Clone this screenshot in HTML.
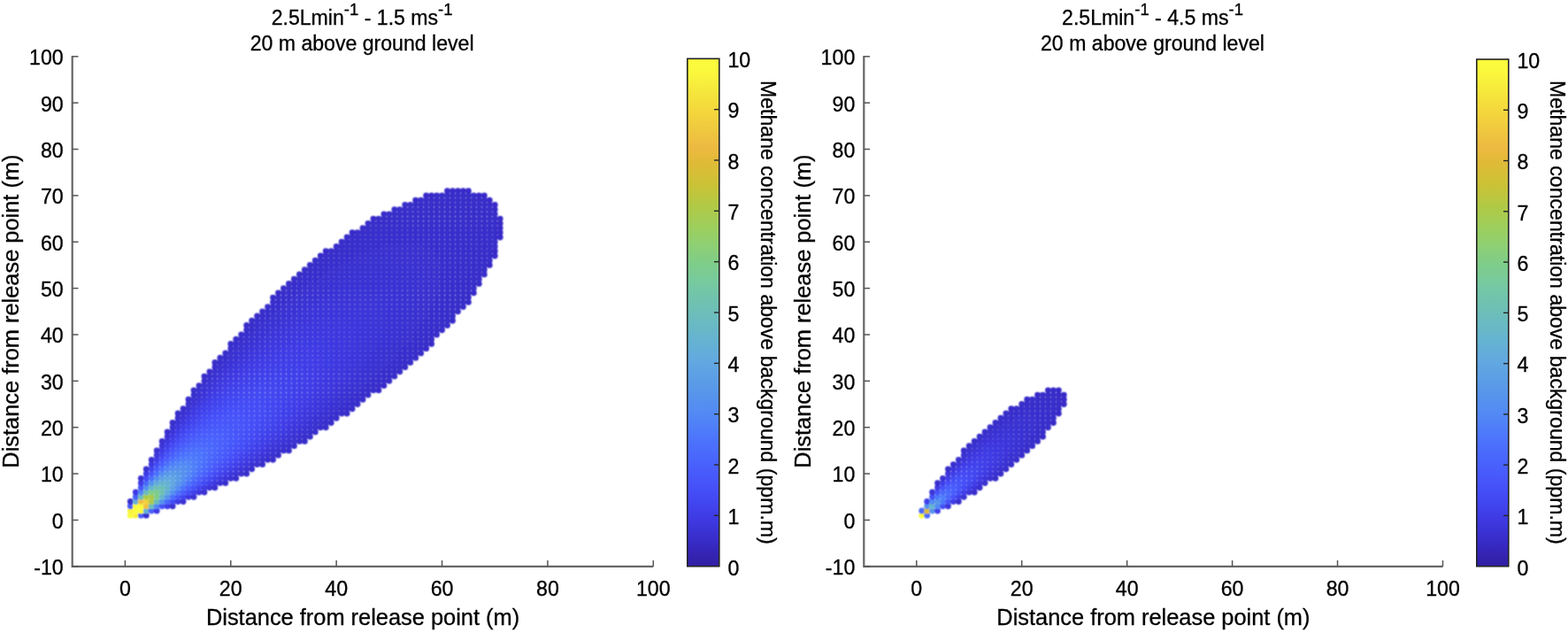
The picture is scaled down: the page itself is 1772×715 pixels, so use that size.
<!DOCTYPE html>
<html><head><meta charset="utf-8"><title>Methane plume</title>
<style>
html,body{margin:0;padding:0;background:#fff;width:1772px;height:715px;overflow:hidden}
svg{display:block}
text{font-family:'Liberation Sans', Arial, Helvetica, sans-serif;fill:#000000;stroke:#000;stroke-width:0.3px}
.tk{font-size:23.2px}
.lb{font-size:25.4px}
.tt{font-size:23.1px}
.sup{font-size:18.5px}
.cl{font-size:23.1px}
</style></head><body>
<svg width="1772" height="715" viewBox="0 0 1772 715">
<defs><linearGradient id="pg" x1="0" y1="0" x2="0" y2="1"><stop offset="0.0000" stop-color="#fbfc3c"/><stop offset="0.0156" stop-color="#fbfa3d"/><stop offset="0.0312" stop-color="#faf63d"/><stop offset="0.0469" stop-color="#f8ef3c"/><stop offset="0.0625" stop-color="#f6e83c"/><stop offset="0.0781" stop-color="#f5e13c"/><stop offset="0.0938" stop-color="#f4db3c"/><stop offset="0.1094" stop-color="#f3d43d"/><stop offset="0.1250" stop-color="#f1ce3e"/><stop offset="0.1406" stop-color="#efc83f"/><stop offset="0.1562" stop-color="#eec140"/><stop offset="0.1719" stop-color="#edba42"/><stop offset="0.1875" stop-color="#e8ba3d"/><stop offset="0.2031" stop-color="#e0ba38"/><stop offset="0.2188" stop-color="#d9bd37"/><stop offset="0.2344" stop-color="#d1c037"/><stop offset="0.2500" stop-color="#c9c236"/><stop offset="0.2656" stop-color="#c0c53c"/><stop offset="0.2812" stop-color="#b6c842"/><stop offset="0.2969" stop-color="#adca49"/><stop offset="0.3125" stop-color="#a6cc52"/><stop offset="0.3281" stop-color="#9fce5b"/><stop offset="0.3438" stop-color="#98cf64"/><stop offset="0.3594" stop-color="#91d06e"/><stop offset="0.3750" stop-color="#8bcf78"/><stop offset="0.3906" stop-color="#84ce82"/><stop offset="0.4062" stop-color="#7ecd8b"/><stop offset="0.4219" stop-color="#7bcb94"/><stop offset="0.4375" stop-color="#77ca9d"/><stop offset="0.4531" stop-color="#74c7a5"/><stop offset="0.4688" stop-color="#71c4ac"/><stop offset="0.4844" stop-color="#6fc1b2"/><stop offset="0.5000" stop-color="#6dbeb9"/><stop offset="0.5156" stop-color="#6abbc0"/><stop offset="0.5312" stop-color="#68b8c7"/><stop offset="0.5469" stop-color="#66b5cf"/><stop offset="0.5625" stop-color="#64b1d4"/><stop offset="0.5781" stop-color="#63adda"/><stop offset="0.5938" stop-color="#62a9e0"/><stop offset="0.6094" stop-color="#60a4e3"/><stop offset="0.6250" stop-color="#5da0e5"/><stop offset="0.6406" stop-color="#5a9be7"/><stop offset="0.6562" stop-color="#5796ea"/><stop offset="0.6719" stop-color="#5591ee"/><stop offset="0.6875" stop-color="#548df2"/><stop offset="0.7031" stop-color="#5288f5"/><stop offset="0.7188" stop-color="#5081f8"/><stop offset="0.7344" stop-color="#4e7bfa"/><stop offset="0.7500" stop-color="#4c74fc"/><stop offset="0.7656" stop-color="#4b6efc"/><stop offset="0.7812" stop-color="#4a68fc"/><stop offset="0.7969" stop-color="#4962fc"/><stop offset="0.8125" stop-color="#485cfb"/><stop offset="0.8281" stop-color="#4757fa"/><stop offset="0.8438" stop-color="#4651f8"/><stop offset="0.8594" stop-color="#444bf5"/><stop offset="0.8750" stop-color="#4246ef"/><stop offset="0.8906" stop-color="#4040e9"/><stop offset="0.9062" stop-color="#3e3ae2"/><stop offset="0.9219" stop-color="#3c35d9"/><stop offset="0.9375" stop-color="#3a30d0"/><stop offset="0.9531" stop-color="#382bc6"/><stop offset="0.9688" stop-color="#3526b9"/><stop offset="0.9844" stop-color="#3322ac"/><stop offset="1.0000" stop-color="#311fa5"/></linearGradient><filter id="soft"><feConvolveMatrix order="3" kernelMatrix="1 2 1 2 4 2 1 2 1" divisor="16" edgeMode="none" preserveAlpha="false"/></filter></defs>
<rect width="1772" height="715" fill="#ffffff"/>
<g filter="url(#soft)">
<circle cx="147.36" cy="582.20" r="3.42" fill="#fbfc3c"/>
<circle cx="147.36" cy="576.96" r="3.42" fill="#f9f23c"/>
<circle cx="147.36" cy="571.73" r="3.42" fill="#485bfb"/>
<circle cx="147.36" cy="566.49" r="3.42" fill="#392dcb"/>
<circle cx="153.33" cy="582.20" r="3.42" fill="#f9f23c"/>
<circle cx="153.33" cy="576.96" r="3.42" fill="#fbfc3c"/>
<circle cx="153.33" cy="571.73" r="3.42" fill="#fbfa3d"/>
<circle cx="153.33" cy="566.49" r="3.42" fill="#64afd7"/>
<circle cx="153.33" cy="561.25" r="3.42" fill="#485efb"/>
<circle cx="153.33" cy="556.02" r="3.42" fill="#3e39e1"/>
<circle cx="159.30" cy="582.20" r="3.42" fill="#485bfb"/>
<circle cx="159.30" cy="576.96" r="3.42" fill="#fbfa3d"/>
<circle cx="159.30" cy="571.73" r="3.42" fill="#fbfc3c"/>
<circle cx="159.30" cy="566.49" r="3.42" fill="#eec041"/>
<circle cx="159.30" cy="561.25" r="3.42" fill="#6dbeb8"/>
<circle cx="159.30" cy="556.02" r="3.42" fill="#5184f7"/>
<circle cx="159.30" cy="550.78" r="3.42" fill="#4655f9"/>
<circle cx="159.30" cy="545.55" r="3.42" fill="#3f3ce6"/>
<circle cx="159.30" cy="540.31" r="3.42" fill="#3a30cf"/>
<circle cx="165.27" cy="582.20" r="3.42" fill="#392dcb"/>
<circle cx="165.27" cy="576.96" r="3.42" fill="#64afd7"/>
<circle cx="165.27" cy="571.73" r="3.42" fill="#eec041"/>
<circle cx="165.27" cy="566.49" r="3.42" fill="#f2d23d"/>
<circle cx="165.27" cy="561.25" r="3.42" fill="#adcb49"/>
<circle cx="165.27" cy="556.02" r="3.42" fill="#6cbcbc"/>
<circle cx="165.27" cy="550.78" r="3.42" fill="#5591ee"/>
<circle cx="165.27" cy="545.55" r="3.42" fill="#4a67fc"/>
<circle cx="165.27" cy="540.31" r="3.42" fill="#444cf5"/>
<circle cx="165.27" cy="535.07" r="3.42" fill="#3e3be4"/>
<circle cx="165.27" cy="529.84" r="3.42" fill="#3a31d2"/>
<circle cx="171.24" cy="576.96" r="3.42" fill="#485efb"/>
<circle cx="171.24" cy="571.73" r="3.42" fill="#6dbeb8"/>
<circle cx="171.24" cy="566.49" r="3.42" fill="#adcb49"/>
<circle cx="171.24" cy="561.25" r="3.42" fill="#afca47"/>
<circle cx="171.24" cy="556.02" r="3.42" fill="#7fce8a"/>
<circle cx="171.24" cy="550.78" r="3.42" fill="#66b6cc"/>
<circle cx="171.24" cy="545.55" r="3.42" fill="#5694ec"/>
<circle cx="171.24" cy="540.31" r="3.42" fill="#4b71fc"/>
<circle cx="171.24" cy="535.07" r="3.42" fill="#4757fa"/>
<circle cx="171.24" cy="529.84" r="3.42" fill="#4245ef"/>
<circle cx="171.24" cy="524.60" r="3.42" fill="#3e39e0"/>
<circle cx="171.24" cy="519.36" r="3.42" fill="#3a31d2"/>
<circle cx="177.21" cy="576.96" r="3.42" fill="#3e39e1"/>
<circle cx="177.21" cy="571.73" r="3.42" fill="#5184f7"/>
<circle cx="177.21" cy="566.49" r="3.42" fill="#6cbcbc"/>
<circle cx="177.21" cy="561.25" r="3.42" fill="#7fce8a"/>
<circle cx="177.21" cy="556.02" r="3.42" fill="#7dcd8e"/>
<circle cx="177.21" cy="550.78" r="3.42" fill="#6fc1b2"/>
<circle cx="177.21" cy="545.55" r="3.42" fill="#63acdb"/>
<circle cx="177.21" cy="540.31" r="3.42" fill="#5592ee"/>
<circle cx="177.21" cy="535.07" r="3.42" fill="#4c75fc"/>
<circle cx="177.21" cy="529.84" r="3.42" fill="#485efb"/>
<circle cx="177.21" cy="524.60" r="3.42" fill="#444df6"/>
<circle cx="177.21" cy="519.36" r="3.42" fill="#4040e9"/>
<circle cx="177.21" cy="514.13" r="3.42" fill="#3d37dc"/>
<circle cx="177.21" cy="508.89" r="3.42" fill="#3a31d1"/>
<circle cx="183.17" cy="571.73" r="3.42" fill="#4655f9"/>
<circle cx="183.17" cy="566.49" r="3.42" fill="#5591ee"/>
<circle cx="183.17" cy="561.25" r="3.42" fill="#66b6cc"/>
<circle cx="183.17" cy="556.02" r="3.42" fill="#6fc1b2"/>
<circle cx="183.17" cy="550.78" r="3.42" fill="#6ebfb7"/>
<circle cx="183.17" cy="545.55" r="3.42" fill="#65b5cf"/>
<circle cx="183.17" cy="540.31" r="3.42" fill="#5fa2e4"/>
<circle cx="183.17" cy="535.07" r="3.42" fill="#548df1"/>
<circle cx="183.17" cy="529.84" r="3.42" fill="#4c75fc"/>
<circle cx="183.17" cy="524.60" r="3.42" fill="#4961fc"/>
<circle cx="183.17" cy="519.36" r="3.42" fill="#4652f9"/>
<circle cx="183.17" cy="514.13" r="3.42" fill="#4245ee"/>
<circle cx="183.17" cy="508.89" r="3.42" fill="#3f3be5"/>
<circle cx="183.17" cy="503.65" r="3.42" fill="#3c35d8"/>
<circle cx="183.17" cy="498.42" r="3.42" fill="#3a30cf"/>
<circle cx="189.14" cy="571.73" r="3.42" fill="#3f3ce6"/>
<circle cx="189.14" cy="566.49" r="3.42" fill="#4a67fc"/>
<circle cx="189.14" cy="561.25" r="3.42" fill="#5694ec"/>
<circle cx="189.14" cy="556.02" r="3.42" fill="#63acdb"/>
<circle cx="189.14" cy="550.78" r="3.42" fill="#65b5cf"/>
<circle cx="189.14" cy="545.55" r="3.42" fill="#65b2d3"/>
<circle cx="189.14" cy="540.31" r="3.42" fill="#62a8e1"/>
<circle cx="189.14" cy="535.07" r="3.42" fill="#5898e8"/>
<circle cx="189.14" cy="529.84" r="3.42" fill="#5288f5"/>
<circle cx="189.14" cy="524.60" r="3.42" fill="#4c73fc"/>
<circle cx="189.14" cy="519.36" r="3.42" fill="#4962fc"/>
<circle cx="189.14" cy="514.13" r="3.42" fill="#4654f9"/>
<circle cx="189.14" cy="508.89" r="3.42" fill="#4349f2"/>
<circle cx="189.14" cy="503.65" r="3.42" fill="#403fe9"/>
<circle cx="189.14" cy="498.42" r="3.42" fill="#3d38df"/>
<circle cx="189.14" cy="493.18" r="3.42" fill="#3b33d5"/>
<circle cx="189.14" cy="487.95" r="3.42" fill="#392fcd"/>
<circle cx="195.11" cy="571.73" r="3.42" fill="#3a30cf"/>
<circle cx="195.11" cy="566.49" r="3.42" fill="#444cf5"/>
<circle cx="195.11" cy="561.25" r="3.42" fill="#4b71fc"/>
<circle cx="195.11" cy="556.02" r="3.42" fill="#5592ee"/>
<circle cx="195.11" cy="550.78" r="3.42" fill="#5fa2e4"/>
<circle cx="195.11" cy="545.55" r="3.42" fill="#62a8e1"/>
<circle cx="195.11" cy="540.31" r="3.42" fill="#61a5e3"/>
<circle cx="195.11" cy="535.07" r="3.42" fill="#5b9ce6"/>
<circle cx="195.11" cy="529.84" r="3.42" fill="#5590ef"/>
<circle cx="195.11" cy="524.60" r="3.42" fill="#5081f8"/>
<circle cx="195.11" cy="519.36" r="3.42" fill="#4b70fc"/>
<circle cx="195.11" cy="514.13" r="3.42" fill="#4961fc"/>
<circle cx="195.11" cy="508.89" r="3.42" fill="#4655f9"/>
<circle cx="195.11" cy="503.65" r="3.42" fill="#444bf4"/>
<circle cx="195.11" cy="498.42" r="3.42" fill="#4142ec"/>
<circle cx="195.11" cy="493.18" r="3.42" fill="#3e3be4"/>
<circle cx="195.11" cy="487.95" r="3.42" fill="#3c36da"/>
<circle cx="195.11" cy="482.71" r="3.42" fill="#3a31d2"/>
<circle cx="195.11" cy="477.47" r="3.42" fill="#392ecc"/>
<circle cx="201.08" cy="566.49" r="3.42" fill="#3e3be4"/>
<circle cx="201.08" cy="561.25" r="3.42" fill="#4757fa"/>
<circle cx="201.08" cy="556.02" r="3.42" fill="#4c75fc"/>
<circle cx="201.08" cy="550.78" r="3.42" fill="#548df1"/>
<circle cx="201.08" cy="545.55" r="3.42" fill="#5898e8"/>
<circle cx="201.08" cy="540.31" r="3.42" fill="#5b9ce6"/>
<circle cx="201.08" cy="535.07" r="3.42" fill="#5999e8"/>
<circle cx="201.08" cy="529.84" r="3.42" fill="#5692ed"/>
<circle cx="201.08" cy="524.60" r="3.42" fill="#5288f5"/>
<circle cx="201.08" cy="519.36" r="3.42" fill="#4e7afa"/>
<circle cx="201.08" cy="514.13" r="3.42" fill="#4b6cfc"/>
<circle cx="201.08" cy="508.89" r="3.42" fill="#4960fc"/>
<circle cx="201.08" cy="503.65" r="3.42" fill="#4656f9"/>
<circle cx="201.08" cy="498.42" r="3.42" fill="#444cf5"/>
<circle cx="201.08" cy="493.18" r="3.42" fill="#4244ee"/>
<circle cx="201.08" cy="487.95" r="3.42" fill="#3f3de7"/>
<circle cx="201.08" cy="482.71" r="3.42" fill="#3d38de"/>
<circle cx="201.08" cy="477.47" r="3.42" fill="#3b34d6"/>
<circle cx="201.08" cy="472.24" r="3.42" fill="#3a30d0"/>
<circle cx="201.08" cy="467.00" r="3.42" fill="#382dca"/>
<circle cx="207.05" cy="566.49" r="3.42" fill="#3a31d2"/>
<circle cx="207.05" cy="561.25" r="3.42" fill="#4245ef"/>
<circle cx="207.05" cy="556.02" r="3.42" fill="#485efb"/>
<circle cx="207.05" cy="550.78" r="3.42" fill="#4c75fc"/>
<circle cx="207.05" cy="545.55" r="3.42" fill="#5288f5"/>
<circle cx="207.05" cy="540.31" r="3.42" fill="#5590ef"/>
<circle cx="207.05" cy="535.07" r="3.42" fill="#5692ed"/>
<circle cx="207.05" cy="529.84" r="3.42" fill="#558fef"/>
<circle cx="207.05" cy="524.60" r="3.42" fill="#528af4"/>
<circle cx="207.05" cy="519.36" r="3.42" fill="#4f7ff8"/>
<circle cx="207.05" cy="514.13" r="3.42" fill="#4c73fc"/>
<circle cx="207.05" cy="508.89" r="3.42" fill="#4a69fc"/>
<circle cx="207.05" cy="503.65" r="3.42" fill="#485efb"/>
<circle cx="207.05" cy="498.42" r="3.42" fill="#4655f9"/>
<circle cx="207.05" cy="493.18" r="3.42" fill="#444df6"/>
<circle cx="207.05" cy="487.95" r="3.42" fill="#4245ef"/>
<circle cx="207.05" cy="482.71" r="3.42" fill="#403fe9"/>
<circle cx="207.05" cy="477.47" r="3.42" fill="#3e39e1"/>
<circle cx="207.05" cy="472.24" r="3.42" fill="#3c35d9"/>
<circle cx="207.05" cy="467.00" r="3.42" fill="#3b32d3"/>
<circle cx="207.05" cy="461.76" r="3.42" fill="#392fcd"/>
<circle cx="213.02" cy="561.25" r="3.42" fill="#3e39e0"/>
<circle cx="213.02" cy="556.02" r="3.42" fill="#444df6"/>
<circle cx="213.02" cy="550.78" r="3.42" fill="#4961fc"/>
<circle cx="213.02" cy="545.55" r="3.42" fill="#4c73fc"/>
<circle cx="213.02" cy="540.31" r="3.42" fill="#5081f8"/>
<circle cx="213.02" cy="535.07" r="3.42" fill="#5288f5"/>
<circle cx="213.02" cy="529.84" r="3.42" fill="#528af4"/>
<circle cx="213.02" cy="524.60" r="3.42" fill="#5187f6"/>
<circle cx="213.02" cy="519.36" r="3.42" fill="#4f80f8"/>
<circle cx="213.02" cy="514.13" r="3.42" fill="#4d77fb"/>
<circle cx="213.02" cy="508.89" r="3.42" fill="#4b6efc"/>
<circle cx="213.02" cy="503.65" r="3.42" fill="#4a65fc"/>
<circle cx="213.02" cy="498.42" r="3.42" fill="#485cfb"/>
<circle cx="213.02" cy="493.18" r="3.42" fill="#4654f9"/>
<circle cx="213.02" cy="487.95" r="3.42" fill="#444df6"/>
<circle cx="213.02" cy="482.71" r="3.42" fill="#4246ef"/>
<circle cx="213.02" cy="477.47" r="3.42" fill="#4040ea"/>
<circle cx="213.02" cy="472.24" r="3.42" fill="#3e3be3"/>
<circle cx="213.02" cy="467.00" r="3.42" fill="#3d37dc"/>
<circle cx="213.02" cy="461.76" r="3.42" fill="#3b33d6"/>
<circle cx="213.02" cy="456.53" r="3.42" fill="#3a30d0"/>
<circle cx="213.02" cy="451.29" r="3.42" fill="#392ecb"/>
<circle cx="218.99" cy="561.25" r="3.42" fill="#3a31d2"/>
<circle cx="218.99" cy="556.02" r="3.42" fill="#4040e9"/>
<circle cx="218.99" cy="550.78" r="3.42" fill="#4652f9"/>
<circle cx="218.99" cy="545.55" r="3.42" fill="#4962fc"/>
<circle cx="218.99" cy="540.31" r="3.42" fill="#4b70fc"/>
<circle cx="218.99" cy="535.07" r="3.42" fill="#4e7afa"/>
<circle cx="218.99" cy="529.84" r="3.42" fill="#4f7ff8"/>
<circle cx="218.99" cy="524.60" r="3.42" fill="#4f80f8"/>
<circle cx="218.99" cy="519.36" r="3.42" fill="#4f7df9"/>
<circle cx="218.99" cy="514.13" r="3.42" fill="#4d78fb"/>
<circle cx="218.99" cy="508.89" r="3.42" fill="#4b71fc"/>
<circle cx="218.99" cy="503.65" r="3.42" fill="#4a69fc"/>
<circle cx="218.99" cy="498.42" r="3.42" fill="#4961fc"/>
<circle cx="218.99" cy="493.18" r="3.42" fill="#475afa"/>
<circle cx="218.99" cy="487.95" r="3.42" fill="#4653f9"/>
<circle cx="218.99" cy="482.71" r="3.42" fill="#444cf6"/>
<circle cx="218.99" cy="477.47" r="3.42" fill="#4246f0"/>
<circle cx="218.99" cy="472.24" r="3.42" fill="#4040ea"/>
<circle cx="218.99" cy="467.00" r="3.42" fill="#3f3be5"/>
<circle cx="218.99" cy="461.76" r="3.42" fill="#3d38de"/>
<circle cx="218.99" cy="456.53" r="3.42" fill="#3c34d8"/>
<circle cx="218.99" cy="451.29" r="3.42" fill="#3a31d2"/>
<circle cx="218.99" cy="446.05" r="3.42" fill="#392fce"/>
<circle cx="218.99" cy="440.82" r="3.42" fill="#382dc9"/>
<circle cx="224.96" cy="556.02" r="3.42" fill="#3d37dc"/>
<circle cx="224.96" cy="550.78" r="3.42" fill="#4245ee"/>
<circle cx="224.96" cy="545.55" r="3.42" fill="#4654f9"/>
<circle cx="224.96" cy="540.31" r="3.42" fill="#4961fc"/>
<circle cx="224.96" cy="535.07" r="3.42" fill="#4b6cfc"/>
<circle cx="224.96" cy="529.84" r="3.42" fill="#4c73fc"/>
<circle cx="224.96" cy="524.60" r="3.42" fill="#4d77fb"/>
<circle cx="224.96" cy="519.36" r="3.42" fill="#4d78fb"/>
<circle cx="224.96" cy="514.13" r="3.42" fill="#4c75fc"/>
<circle cx="224.96" cy="508.89" r="3.42" fill="#4b71fc"/>
<circle cx="224.96" cy="503.65" r="3.42" fill="#4b6bfc"/>
<circle cx="224.96" cy="498.42" r="3.42" fill="#4a65fc"/>
<circle cx="224.96" cy="493.18" r="3.42" fill="#485efb"/>
<circle cx="224.96" cy="487.95" r="3.42" fill="#4758fa"/>
<circle cx="224.96" cy="482.71" r="3.42" fill="#4652f9"/>
<circle cx="224.96" cy="477.47" r="3.42" fill="#444cf5"/>
<circle cx="224.96" cy="472.24" r="3.42" fill="#4246ef"/>
<circle cx="224.96" cy="467.00" r="3.42" fill="#4141eb"/>
<circle cx="224.96" cy="461.76" r="3.42" fill="#3f3ce6"/>
<circle cx="224.96" cy="456.53" r="3.42" fill="#3d38df"/>
<circle cx="224.96" cy="451.29" r="3.42" fill="#3c35d9"/>
<circle cx="224.96" cy="446.05" r="3.42" fill="#3b32d4"/>
<circle cx="224.96" cy="440.82" r="3.42" fill="#3a30cf"/>
<circle cx="224.96" cy="435.58" r="3.42" fill="#392ecb"/>
<circle cx="230.93" cy="556.02" r="3.42" fill="#3a31d1"/>
<circle cx="230.93" cy="550.78" r="3.42" fill="#3f3be5"/>
<circle cx="230.93" cy="545.55" r="3.42" fill="#4349f2"/>
<circle cx="230.93" cy="540.31" r="3.42" fill="#4655f9"/>
<circle cx="230.93" cy="535.07" r="3.42" fill="#4960fc"/>
<circle cx="230.93" cy="529.84" r="3.42" fill="#4a69fc"/>
<circle cx="230.93" cy="524.60" r="3.42" fill="#4b6efc"/>
<circle cx="230.93" cy="519.36" r="3.42" fill="#4b71fc"/>
<circle cx="230.93" cy="514.13" r="3.42" fill="#4b71fc"/>
<circle cx="230.93" cy="508.89" r="3.42" fill="#4b6ffc"/>
<circle cx="230.93" cy="503.65" r="3.42" fill="#4b6bfc"/>
<circle cx="230.93" cy="498.42" r="3.42" fill="#4a66fc"/>
<circle cx="230.93" cy="493.18" r="3.42" fill="#4961fc"/>
<circle cx="230.93" cy="487.95" r="3.42" fill="#485bfb"/>
<circle cx="230.93" cy="482.71" r="3.42" fill="#4656f9"/>
<circle cx="230.93" cy="477.47" r="3.42" fill="#4550f8"/>
<circle cx="230.93" cy="472.24" r="3.42" fill="#444bf4"/>
<circle cx="230.93" cy="467.00" r="3.42" fill="#4246ef"/>
<circle cx="230.93" cy="461.76" r="3.42" fill="#4141eb"/>
<circle cx="230.93" cy="456.53" r="3.42" fill="#3f3ce6"/>
<circle cx="230.93" cy="451.29" r="3.42" fill="#3e39e0"/>
<circle cx="230.93" cy="446.05" r="3.42" fill="#3c36db"/>
<circle cx="230.93" cy="440.82" r="3.42" fill="#3b33d6"/>
<circle cx="230.93" cy="435.58" r="3.42" fill="#3a31d1"/>
<circle cx="230.93" cy="430.35" r="3.42" fill="#392fcd"/>
<circle cx="230.93" cy="425.11" r="3.42" fill="#382dc9"/>
<circle cx="236.90" cy="550.78" r="3.42" fill="#3c35d8"/>
<circle cx="236.90" cy="545.55" r="3.42" fill="#403fe9"/>
<circle cx="236.90" cy="540.31" r="3.42" fill="#444bf4"/>
<circle cx="236.90" cy="535.07" r="3.42" fill="#4656f9"/>
<circle cx="236.90" cy="529.84" r="3.42" fill="#485efb"/>
<circle cx="236.90" cy="524.60" r="3.42" fill="#4a65fc"/>
<circle cx="236.90" cy="519.36" r="3.42" fill="#4a69fc"/>
<circle cx="236.90" cy="514.13" r="3.42" fill="#4b6bfc"/>
<circle cx="236.90" cy="508.89" r="3.42" fill="#4b6bfc"/>
<circle cx="236.90" cy="503.65" r="3.42" fill="#4a69fc"/>
<circle cx="236.90" cy="498.42" r="3.42" fill="#4a66fc"/>
<circle cx="236.90" cy="493.18" r="3.42" fill="#4962fc"/>
<circle cx="236.90" cy="487.95" r="3.42" fill="#485dfb"/>
<circle cx="236.90" cy="482.71" r="3.42" fill="#4758fa"/>
<circle cx="236.90" cy="477.47" r="3.42" fill="#4653f9"/>
<circle cx="236.90" cy="472.24" r="3.42" fill="#454ff8"/>
<circle cx="236.90" cy="467.00" r="3.42" fill="#434af3"/>
<circle cx="236.90" cy="461.76" r="3.42" fill="#4245ef"/>
<circle cx="236.90" cy="456.53" r="3.42" fill="#4041ea"/>
<circle cx="236.90" cy="451.29" r="3.42" fill="#3f3de7"/>
<circle cx="236.90" cy="446.05" r="3.42" fill="#3e39e1"/>
<circle cx="236.90" cy="440.82" r="3.42" fill="#3d37dc"/>
<circle cx="236.90" cy="435.58" r="3.42" fill="#3b34d7"/>
<circle cx="236.90" cy="430.35" r="3.42" fill="#3a32d2"/>
<circle cx="236.90" cy="425.11" r="3.42" fill="#3a2fcf"/>
<circle cx="236.90" cy="419.87" r="3.42" fill="#392ecb"/>
<circle cx="242.87" cy="550.78" r="3.42" fill="#3a30cf"/>
<circle cx="242.87" cy="545.55" r="3.42" fill="#3d38df"/>
<circle cx="242.87" cy="540.31" r="3.42" fill="#4142ec"/>
<circle cx="242.87" cy="535.07" r="3.42" fill="#444cf5"/>
<circle cx="242.87" cy="529.84" r="3.42" fill="#4655f9"/>
<circle cx="242.87" cy="524.60" r="3.42" fill="#485cfb"/>
<circle cx="242.87" cy="519.36" r="3.42" fill="#4961fc"/>
<circle cx="242.87" cy="514.13" r="3.42" fill="#4a65fc"/>
<circle cx="242.87" cy="508.89" r="3.42" fill="#4a66fc"/>
<circle cx="242.87" cy="503.65" r="3.42" fill="#4a66fc"/>
<circle cx="242.87" cy="498.42" r="3.42" fill="#4964fc"/>
<circle cx="242.87" cy="493.18" r="3.42" fill="#4961fc"/>
<circle cx="242.87" cy="487.95" r="3.42" fill="#485efb"/>
<circle cx="242.87" cy="482.71" r="3.42" fill="#475afa"/>
<circle cx="242.87" cy="477.47" r="3.42" fill="#4656f9"/>
<circle cx="242.87" cy="472.24" r="3.42" fill="#4651f9"/>
<circle cx="242.87" cy="467.00" r="3.42" fill="#444df6"/>
<circle cx="242.87" cy="461.76" r="3.42" fill="#4349f2"/>
<circle cx="242.87" cy="456.53" r="3.42" fill="#4244ee"/>
<circle cx="242.87" cy="451.29" r="3.42" fill="#4040ea"/>
<circle cx="242.87" cy="446.05" r="3.42" fill="#3f3de7"/>
<circle cx="242.87" cy="440.82" r="3.42" fill="#3e3ae1"/>
<circle cx="242.87" cy="435.58" r="3.42" fill="#3d37dc"/>
<circle cx="242.87" cy="430.35" r="3.42" fill="#3c34d8"/>
<circle cx="242.87" cy="425.11" r="3.42" fill="#3b32d4"/>
<circle cx="242.87" cy="419.87" r="3.42" fill="#3a30d0"/>
<circle cx="242.87" cy="414.64" r="3.42" fill="#392ecc"/>
<circle cx="242.87" cy="409.40" r="3.42" fill="#382dc9"/>
<circle cx="248.83" cy="545.55" r="3.42" fill="#3b33d5"/>
<circle cx="248.83" cy="540.31" r="3.42" fill="#3e3be4"/>
<circle cx="248.83" cy="535.07" r="3.42" fill="#4244ee"/>
<circle cx="248.83" cy="529.84" r="3.42" fill="#444df6"/>
<circle cx="248.83" cy="524.60" r="3.42" fill="#4654f9"/>
<circle cx="248.83" cy="519.36" r="3.42" fill="#475afa"/>
<circle cx="248.83" cy="514.13" r="3.42" fill="#485efb"/>
<circle cx="248.83" cy="508.89" r="3.42" fill="#4961fc"/>
<circle cx="248.83" cy="503.65" r="3.42" fill="#4962fc"/>
<circle cx="248.83" cy="498.42" r="3.42" fill="#4961fc"/>
<circle cx="248.83" cy="493.18" r="3.42" fill="#4960fc"/>
<circle cx="248.83" cy="487.95" r="3.42" fill="#485dfb"/>
<circle cx="248.83" cy="482.71" r="3.42" fill="#485afb"/>
<circle cx="248.83" cy="477.47" r="3.42" fill="#4757fa"/>
<circle cx="248.83" cy="472.24" r="3.42" fill="#4653f9"/>
<circle cx="248.83" cy="467.00" r="3.42" fill="#454ff8"/>
<circle cx="248.83" cy="461.76" r="3.42" fill="#444bf5"/>
<circle cx="248.83" cy="456.53" r="3.42" fill="#4347f1"/>
<circle cx="248.83" cy="451.29" r="3.42" fill="#4143ed"/>
<circle cx="248.83" cy="446.05" r="3.42" fill="#4040ea"/>
<circle cx="248.83" cy="440.82" r="3.42" fill="#3f3ce6"/>
<circle cx="248.83" cy="435.58" r="3.42" fill="#3e3ae1"/>
<circle cx="248.83" cy="430.35" r="3.42" fill="#3d37dd"/>
<circle cx="248.83" cy="425.11" r="3.42" fill="#3c35d8"/>
<circle cx="248.83" cy="419.87" r="3.42" fill="#3b33d4"/>
<circle cx="248.83" cy="414.64" r="3.42" fill="#3a31d1"/>
<circle cx="248.83" cy="409.40" r="3.42" fill="#392fcd"/>
<circle cx="248.83" cy="404.16" r="3.42" fill="#392dca"/>
<circle cx="254.80" cy="545.55" r="3.42" fill="#392fcd"/>
<circle cx="254.80" cy="540.31" r="3.42" fill="#3c36da"/>
<circle cx="254.80" cy="535.07" r="3.42" fill="#3f3de7"/>
<circle cx="254.80" cy="529.84" r="3.42" fill="#4245ef"/>
<circle cx="254.80" cy="524.60" r="3.42" fill="#444df6"/>
<circle cx="254.80" cy="519.36" r="3.42" fill="#4653f9"/>
<circle cx="254.80" cy="514.13" r="3.42" fill="#4758fa"/>
<circle cx="254.80" cy="508.89" r="3.42" fill="#485bfb"/>
<circle cx="254.80" cy="503.65" r="3.42" fill="#485dfb"/>
<circle cx="254.80" cy="498.42" r="3.42" fill="#485efb"/>
<circle cx="254.80" cy="493.18" r="3.42" fill="#485dfb"/>
<circle cx="254.80" cy="487.95" r="3.42" fill="#485cfb"/>
<circle cx="254.80" cy="482.71" r="3.42" fill="#475afa"/>
<circle cx="254.80" cy="477.47" r="3.42" fill="#4757fa"/>
<circle cx="254.80" cy="472.24" r="3.42" fill="#4654f9"/>
<circle cx="254.80" cy="467.00" r="3.42" fill="#4551f8"/>
<circle cx="254.80" cy="461.76" r="3.42" fill="#444df6"/>
<circle cx="254.80" cy="456.53" r="3.42" fill="#434af3"/>
<circle cx="254.80" cy="451.29" r="3.42" fill="#4246f0"/>
<circle cx="254.80" cy="446.05" r="3.42" fill="#4143ec"/>
<circle cx="254.80" cy="440.82" r="3.42" fill="#403fe9"/>
<circle cx="254.80" cy="435.58" r="3.42" fill="#3f3ce6"/>
<circle cx="254.80" cy="430.35" r="3.42" fill="#3e3ae1"/>
<circle cx="254.80" cy="425.11" r="3.42" fill="#3d37dd"/>
<circle cx="254.80" cy="419.87" r="3.42" fill="#3c35d9"/>
<circle cx="254.80" cy="414.64" r="3.42" fill="#3b33d5"/>
<circle cx="254.80" cy="409.40" r="3.42" fill="#3a31d1"/>
<circle cx="254.80" cy="404.16" r="3.42" fill="#392fce"/>
<circle cx="254.80" cy="398.93" r="3.42" fill="#392ecb"/>
<circle cx="260.77" cy="540.31" r="3.42" fill="#3a31d2"/>
<circle cx="260.77" cy="535.07" r="3.42" fill="#3d38de"/>
<circle cx="260.77" cy="529.84" r="3.42" fill="#403fe9"/>
<circle cx="260.77" cy="524.60" r="3.42" fill="#4246ef"/>
<circle cx="260.77" cy="519.36" r="3.42" fill="#444cf6"/>
<circle cx="260.77" cy="514.13" r="3.42" fill="#4652f9"/>
<circle cx="260.77" cy="508.89" r="3.42" fill="#4656f9"/>
<circle cx="260.77" cy="503.65" r="3.42" fill="#4758fa"/>
<circle cx="260.77" cy="498.42" r="3.42" fill="#475afa"/>
<circle cx="260.77" cy="493.18" r="3.42" fill="#485afb"/>
<circle cx="260.77" cy="487.95" r="3.42" fill="#475afa"/>
<circle cx="260.77" cy="482.71" r="3.42" fill="#4759fa"/>
<circle cx="260.77" cy="477.47" r="3.42" fill="#4757fa"/>
<circle cx="260.77" cy="472.24" r="3.42" fill="#4654f9"/>
<circle cx="260.77" cy="467.00" r="3.42" fill="#4652f9"/>
<circle cx="260.77" cy="461.76" r="3.42" fill="#454ff8"/>
<circle cx="260.77" cy="456.53" r="3.42" fill="#444bf5"/>
<circle cx="260.77" cy="451.29" r="3.42" fill="#4348f2"/>
<circle cx="260.77" cy="446.05" r="3.42" fill="#4245ee"/>
<circle cx="260.77" cy="440.82" r="3.42" fill="#4142eb"/>
<circle cx="260.77" cy="435.58" r="3.42" fill="#403fe9"/>
<circle cx="260.77" cy="430.35" r="3.42" fill="#3f3ce6"/>
<circle cx="260.77" cy="425.11" r="3.42" fill="#3e39e1"/>
<circle cx="260.77" cy="419.87" r="3.42" fill="#3d37dd"/>
<circle cx="260.77" cy="414.64" r="3.42" fill="#3c35d9"/>
<circle cx="260.77" cy="409.40" r="3.42" fill="#3b33d5"/>
<circle cx="260.77" cy="404.16" r="3.42" fill="#3a31d2"/>
<circle cx="260.77" cy="398.93" r="3.42" fill="#3a30cf"/>
<circle cx="260.77" cy="393.69" r="3.42" fill="#392ecc"/>
<circle cx="260.77" cy="388.45" r="3.42" fill="#382dc9"/>
<circle cx="266.74" cy="540.31" r="3.42" fill="#392ecc"/>
<circle cx="266.74" cy="535.07" r="3.42" fill="#3b34d6"/>
<circle cx="266.74" cy="529.84" r="3.42" fill="#3e39e1"/>
<circle cx="266.74" cy="524.60" r="3.42" fill="#4040ea"/>
<circle cx="266.74" cy="519.36" r="3.42" fill="#4246f0"/>
<circle cx="266.74" cy="514.13" r="3.42" fill="#444cf5"/>
<circle cx="266.74" cy="508.89" r="3.42" fill="#4550f8"/>
<circle cx="266.74" cy="503.65" r="3.42" fill="#4653f9"/>
<circle cx="266.74" cy="498.42" r="3.42" fill="#4656f9"/>
<circle cx="266.74" cy="493.18" r="3.42" fill="#4757fa"/>
<circle cx="266.74" cy="487.95" r="3.42" fill="#4757fa"/>
<circle cx="266.74" cy="482.71" r="3.42" fill="#4757fa"/>
<circle cx="266.74" cy="477.47" r="3.42" fill="#4656f9"/>
<circle cx="266.74" cy="472.24" r="3.42" fill="#4654f9"/>
<circle cx="266.74" cy="467.00" r="3.42" fill="#4652f9"/>
<circle cx="266.74" cy="461.76" r="3.42" fill="#454ff8"/>
<circle cx="266.74" cy="456.53" r="3.42" fill="#444df6"/>
<circle cx="266.74" cy="451.29" r="3.42" fill="#434af3"/>
<circle cx="266.74" cy="446.05" r="3.42" fill="#4247f0"/>
<circle cx="266.74" cy="440.82" r="3.42" fill="#4144ed"/>
<circle cx="266.74" cy="435.58" r="3.42" fill="#4141eb"/>
<circle cx="266.74" cy="430.35" r="3.42" fill="#403ee8"/>
<circle cx="266.74" cy="425.11" r="3.42" fill="#3f3be5"/>
<circle cx="266.74" cy="419.87" r="3.42" fill="#3e39e1"/>
<circle cx="266.74" cy="414.64" r="3.42" fill="#3d37dd"/>
<circle cx="266.74" cy="409.40" r="3.42" fill="#3c35d9"/>
<circle cx="266.74" cy="404.16" r="3.42" fill="#3b33d6"/>
<circle cx="266.74" cy="398.93" r="3.42" fill="#3a32d2"/>
<circle cx="266.74" cy="393.69" r="3.42" fill="#3a30cf"/>
<circle cx="266.74" cy="388.45" r="3.42" fill="#392ecd"/>
<circle cx="266.74" cy="383.22" r="3.42" fill="#382dca"/>
<circle cx="272.71" cy="535.07" r="3.42" fill="#3a30d0"/>
<circle cx="272.71" cy="529.84" r="3.42" fill="#3c35d9"/>
<circle cx="272.71" cy="524.60" r="3.42" fill="#3e3be3"/>
<circle cx="272.71" cy="519.36" r="3.42" fill="#4040ea"/>
<circle cx="272.71" cy="514.13" r="3.42" fill="#4246ef"/>
<circle cx="272.71" cy="508.89" r="3.42" fill="#444bf4"/>
<circle cx="272.71" cy="503.65" r="3.42" fill="#454ff8"/>
<circle cx="272.71" cy="498.42" r="3.42" fill="#4651f9"/>
<circle cx="272.71" cy="493.18" r="3.42" fill="#4653f9"/>
<circle cx="272.71" cy="487.95" r="3.42" fill="#4654f9"/>
<circle cx="272.71" cy="482.71" r="3.42" fill="#4654f9"/>
<circle cx="272.71" cy="477.47" r="3.42" fill="#4654f9"/>
<circle cx="272.71" cy="472.24" r="3.42" fill="#4653f9"/>
<circle cx="272.71" cy="467.00" r="3.42" fill="#4651f9"/>
<circle cx="272.71" cy="461.76" r="3.42" fill="#454ff8"/>
<circle cx="272.71" cy="456.53" r="3.42" fill="#444df6"/>
<circle cx="272.71" cy="451.29" r="3.42" fill="#444bf4"/>
<circle cx="272.71" cy="446.05" r="3.42" fill="#4348f1"/>
<circle cx="272.71" cy="440.82" r="3.42" fill="#4245ef"/>
<circle cx="272.71" cy="435.58" r="3.42" fill="#4143ec"/>
<circle cx="272.71" cy="430.35" r="3.42" fill="#4040ea"/>
<circle cx="272.71" cy="425.11" r="3.42" fill="#3f3de7"/>
<circle cx="272.71" cy="419.87" r="3.42" fill="#3f3be4"/>
<circle cx="272.71" cy="414.64" r="3.42" fill="#3e39e0"/>
<circle cx="272.71" cy="409.40" r="3.42" fill="#3d37dd"/>
<circle cx="272.71" cy="404.16" r="3.42" fill="#3c35d9"/>
<circle cx="272.71" cy="398.93" r="3.42" fill="#3b33d6"/>
<circle cx="272.71" cy="393.69" r="3.42" fill="#3b32d3"/>
<circle cx="272.71" cy="388.45" r="3.42" fill="#3a30d0"/>
<circle cx="272.71" cy="383.22" r="3.42" fill="#392fcd"/>
<circle cx="272.71" cy="377.98" r="3.42" fill="#392dcb"/>
<circle cx="278.68" cy="535.07" r="3.42" fill="#382dca"/>
<circle cx="278.68" cy="529.84" r="3.42" fill="#3b32d3"/>
<circle cx="278.68" cy="524.60" r="3.42" fill="#3d37dc"/>
<circle cx="278.68" cy="519.36" r="3.42" fill="#3f3be5"/>
<circle cx="278.68" cy="514.13" r="3.42" fill="#4141eb"/>
<circle cx="278.68" cy="508.89" r="3.42" fill="#4246ef"/>
<circle cx="278.68" cy="503.65" r="3.42" fill="#434af3"/>
<circle cx="278.68" cy="498.42" r="3.42" fill="#444df6"/>
<circle cx="278.68" cy="493.18" r="3.42" fill="#454ff8"/>
<circle cx="278.68" cy="487.95" r="3.42" fill="#4551f8"/>
<circle cx="278.68" cy="482.71" r="3.42" fill="#4652f9"/>
<circle cx="278.68" cy="477.47" r="3.42" fill="#4652f9"/>
<circle cx="278.68" cy="472.24" r="3.42" fill="#4651f9"/>
<circle cx="278.68" cy="467.00" r="3.42" fill="#4550f8"/>
<circle cx="278.68" cy="461.76" r="3.42" fill="#454ff8"/>
<circle cx="278.68" cy="456.53" r="3.42" fill="#444df6"/>
<circle cx="278.68" cy="451.29" r="3.42" fill="#444bf4"/>
<circle cx="278.68" cy="446.05" r="3.42" fill="#4349f2"/>
<circle cx="278.68" cy="440.82" r="3.42" fill="#4246f0"/>
<circle cx="278.68" cy="435.58" r="3.42" fill="#4244ee"/>
<circle cx="278.68" cy="430.35" r="3.42" fill="#4141eb"/>
<circle cx="278.68" cy="425.11" r="3.42" fill="#403fe9"/>
<circle cx="278.68" cy="419.87" r="3.42" fill="#3f3de7"/>
<circle cx="278.68" cy="414.64" r="3.42" fill="#3e3be3"/>
<circle cx="278.68" cy="409.40" r="3.42" fill="#3e39e0"/>
<circle cx="278.68" cy="404.16" r="3.42" fill="#3d37dc"/>
<circle cx="278.68" cy="398.93" r="3.42" fill="#3c35d9"/>
<circle cx="278.68" cy="393.69" r="3.42" fill="#3b33d6"/>
<circle cx="278.68" cy="388.45" r="3.42" fill="#3b32d3"/>
<circle cx="278.68" cy="383.22" r="3.42" fill="#3a30d0"/>
<circle cx="278.68" cy="377.98" r="3.42" fill="#392fce"/>
<circle cx="278.68" cy="372.75" r="3.42" fill="#392ecb"/>
<circle cx="278.68" cy="367.51" r="3.42" fill="#382dc9"/>
<circle cx="284.65" cy="529.84" r="3.42" fill="#392fcd"/>
<circle cx="284.65" cy="524.60" r="3.42" fill="#3b33d6"/>
<circle cx="284.65" cy="519.36" r="3.42" fill="#3d38de"/>
<circle cx="284.65" cy="514.13" r="3.42" fill="#3f3ce6"/>
<circle cx="284.65" cy="508.89" r="3.42" fill="#4141eb"/>
<circle cx="284.65" cy="503.65" r="3.42" fill="#4245ef"/>
<circle cx="284.65" cy="498.42" r="3.42" fill="#4349f2"/>
<circle cx="284.65" cy="493.18" r="3.42" fill="#444bf5"/>
<circle cx="284.65" cy="487.95" r="3.42" fill="#444df6"/>
<circle cx="284.65" cy="482.71" r="3.42" fill="#454ff8"/>
<circle cx="284.65" cy="477.47" r="3.42" fill="#454ff8"/>
<circle cx="284.65" cy="472.24" r="3.42" fill="#454ff8"/>
<circle cx="284.65" cy="467.00" r="3.42" fill="#454ff8"/>
<circle cx="284.65" cy="461.76" r="3.42" fill="#454ef7"/>
<circle cx="284.65" cy="456.53" r="3.42" fill="#444df6"/>
<circle cx="284.65" cy="451.29" r="3.42" fill="#444bf4"/>
<circle cx="284.65" cy="446.05" r="3.42" fill="#4349f2"/>
<circle cx="284.65" cy="440.82" r="3.42" fill="#4247f0"/>
<circle cx="284.65" cy="435.58" r="3.42" fill="#4245ee"/>
<circle cx="284.65" cy="430.35" r="3.42" fill="#4143ec"/>
<circle cx="284.65" cy="425.11" r="3.42" fill="#4040ea"/>
<circle cx="284.65" cy="419.87" r="3.42" fill="#403ee8"/>
<circle cx="284.65" cy="414.64" r="3.42" fill="#3f3ce6"/>
<circle cx="284.65" cy="409.40" r="3.42" fill="#3e3ae2"/>
<circle cx="284.65" cy="404.16" r="3.42" fill="#3d38df"/>
<circle cx="284.65" cy="398.93" r="3.42" fill="#3d37dc"/>
<circle cx="284.65" cy="393.69" r="3.42" fill="#3c35d9"/>
<circle cx="284.65" cy="388.45" r="3.42" fill="#3b33d6"/>
<circle cx="284.65" cy="383.22" r="3.42" fill="#3b32d3"/>
<circle cx="284.65" cy="377.98" r="3.42" fill="#3a30d0"/>
<circle cx="284.65" cy="372.75" r="3.42" fill="#392fce"/>
<circle cx="284.65" cy="367.51" r="3.42" fill="#392ecc"/>
<circle cx="284.65" cy="362.27" r="3.42" fill="#382dc9"/>
<circle cx="290.62" cy="524.60" r="3.42" fill="#3a30d0"/>
<circle cx="290.62" cy="519.36" r="3.42" fill="#3c34d8"/>
<circle cx="290.62" cy="514.13" r="3.42" fill="#3d38df"/>
<circle cx="290.62" cy="508.89" r="3.42" fill="#3f3ce6"/>
<circle cx="290.62" cy="503.65" r="3.42" fill="#4041ea"/>
<circle cx="290.62" cy="498.42" r="3.42" fill="#4244ee"/>
<circle cx="290.62" cy="493.18" r="3.42" fill="#4347f1"/>
<circle cx="290.62" cy="487.95" r="3.42" fill="#434af3"/>
<circle cx="290.62" cy="482.71" r="3.42" fill="#444bf5"/>
<circle cx="290.62" cy="477.47" r="3.42" fill="#444df6"/>
<circle cx="290.62" cy="472.24" r="3.42" fill="#444df6"/>
<circle cx="290.62" cy="467.00" r="3.42" fill="#444df6"/>
<circle cx="290.62" cy="461.76" r="3.42" fill="#444df6"/>
<circle cx="290.62" cy="456.53" r="3.42" fill="#444cf5"/>
<circle cx="290.62" cy="451.29" r="3.42" fill="#444bf4"/>
<circle cx="290.62" cy="446.05" r="3.42" fill="#4349f2"/>
<circle cx="290.62" cy="440.82" r="3.42" fill="#4347f1"/>
<circle cx="290.62" cy="435.58" r="3.42" fill="#4245ef"/>
<circle cx="290.62" cy="430.35" r="3.42" fill="#4143ed"/>
<circle cx="290.62" cy="425.11" r="3.42" fill="#4141eb"/>
<circle cx="290.62" cy="419.87" r="3.42" fill="#403fe9"/>
<circle cx="290.62" cy="414.64" r="3.42" fill="#3f3de7"/>
<circle cx="290.62" cy="409.40" r="3.42" fill="#3f3be5"/>
<circle cx="290.62" cy="404.16" r="3.42" fill="#3e3ae1"/>
<circle cx="290.62" cy="398.93" r="3.42" fill="#3d38de"/>
<circle cx="290.62" cy="393.69" r="3.42" fill="#3c36db"/>
<circle cx="290.62" cy="388.45" r="3.42" fill="#3c35d8"/>
<circle cx="290.62" cy="383.22" r="3.42" fill="#3b33d6"/>
<circle cx="290.62" cy="377.98" r="3.42" fill="#3b32d3"/>
<circle cx="290.62" cy="372.75" r="3.42" fill="#3a31d0"/>
<circle cx="290.62" cy="367.51" r="3.42" fill="#392fce"/>
<circle cx="290.62" cy="362.27" r="3.42" fill="#392ecc"/>
<circle cx="290.62" cy="357.04" r="3.42" fill="#382dca"/>
<circle cx="296.59" cy="524.60" r="3.42" fill="#392ecb"/>
<circle cx="296.59" cy="519.36" r="3.42" fill="#3a31d2"/>
<circle cx="296.59" cy="514.13" r="3.42" fill="#3c35d9"/>
<circle cx="296.59" cy="508.89" r="3.42" fill="#3e39e0"/>
<circle cx="296.59" cy="503.65" r="3.42" fill="#3f3de7"/>
<circle cx="296.59" cy="498.42" r="3.42" fill="#4040ea"/>
<circle cx="296.59" cy="493.18" r="3.42" fill="#4143ed"/>
<circle cx="296.59" cy="487.95" r="3.42" fill="#4246f0"/>
<circle cx="296.59" cy="482.71" r="3.42" fill="#4348f2"/>
<circle cx="296.59" cy="477.47" r="3.42" fill="#434af3"/>
<circle cx="296.59" cy="472.24" r="3.42" fill="#444bf4"/>
<circle cx="296.59" cy="467.00" r="3.42" fill="#444bf4"/>
<circle cx="296.59" cy="461.76" r="3.42" fill="#444bf4"/>
<circle cx="296.59" cy="456.53" r="3.42" fill="#444bf4"/>
<circle cx="296.59" cy="451.29" r="3.42" fill="#434af3"/>
<circle cx="296.59" cy="446.05" r="3.42" fill="#4349f2"/>
<circle cx="296.59" cy="440.82" r="3.42" fill="#4347f1"/>
<circle cx="296.59" cy="435.58" r="3.42" fill="#4246ef"/>
<circle cx="296.59" cy="430.35" r="3.42" fill="#4144ed"/>
<circle cx="296.59" cy="425.11" r="3.42" fill="#4142ec"/>
<circle cx="296.59" cy="419.87" r="3.42" fill="#4040ea"/>
<circle cx="296.59" cy="414.64" r="3.42" fill="#403ee8"/>
<circle cx="296.59" cy="409.40" r="3.42" fill="#3f3ce6"/>
<circle cx="296.59" cy="404.16" r="3.42" fill="#3e3be3"/>
<circle cx="296.59" cy="398.93" r="3.42" fill="#3e39e0"/>
<circle cx="296.59" cy="393.69" r="3.42" fill="#3d38de"/>
<circle cx="296.59" cy="388.45" r="3.42" fill="#3c36db"/>
<circle cx="296.59" cy="383.22" r="3.42" fill="#3c35d8"/>
<circle cx="296.59" cy="377.98" r="3.42" fill="#3b33d5"/>
<circle cx="296.59" cy="372.75" r="3.42" fill="#3b32d3"/>
<circle cx="296.59" cy="367.51" r="3.42" fill="#3a31d1"/>
<circle cx="296.59" cy="362.27" r="3.42" fill="#392fce"/>
<circle cx="296.59" cy="357.04" r="3.42" fill="#392ecc"/>
<circle cx="296.59" cy="351.80" r="3.42" fill="#382dca"/>
<circle cx="302.56" cy="519.36" r="3.42" fill="#392fce"/>
<circle cx="302.56" cy="514.13" r="3.42" fill="#3b32d4"/>
<circle cx="302.56" cy="508.89" r="3.42" fill="#3c36db"/>
<circle cx="302.56" cy="503.65" r="3.42" fill="#3e39e1"/>
<circle cx="302.56" cy="498.42" r="3.42" fill="#3f3de7"/>
<circle cx="302.56" cy="493.18" r="3.42" fill="#4040ea"/>
<circle cx="302.56" cy="487.95" r="3.42" fill="#4143ec"/>
<circle cx="302.56" cy="482.71" r="3.42" fill="#4245ee"/>
<circle cx="302.56" cy="477.47" r="3.42" fill="#4247f0"/>
<circle cx="302.56" cy="472.24" r="3.42" fill="#4348f1"/>
<circle cx="302.56" cy="467.00" r="3.42" fill="#4349f2"/>
<circle cx="302.56" cy="461.76" r="3.42" fill="#4349f2"/>
<circle cx="302.56" cy="456.53" r="3.42" fill="#4349f2"/>
<circle cx="302.56" cy="451.29" r="3.42" fill="#4349f2"/>
<circle cx="302.56" cy="446.05" r="3.42" fill="#4348f1"/>
<circle cx="302.56" cy="440.82" r="3.42" fill="#4247f0"/>
<circle cx="302.56" cy="435.58" r="3.42" fill="#4245ef"/>
<circle cx="302.56" cy="430.35" r="3.42" fill="#4244ee"/>
<circle cx="302.56" cy="425.11" r="3.42" fill="#4142ec"/>
<circle cx="302.56" cy="419.87" r="3.42" fill="#4141eb"/>
<circle cx="302.56" cy="414.64" r="3.42" fill="#403fe9"/>
<circle cx="302.56" cy="409.40" r="3.42" fill="#3f3de7"/>
<circle cx="302.56" cy="404.16" r="3.42" fill="#3f3ce5"/>
<circle cx="302.56" cy="398.93" r="3.42" fill="#3e3ae2"/>
<circle cx="302.56" cy="393.69" r="3.42" fill="#3d39e0"/>
<circle cx="302.56" cy="388.45" r="3.42" fill="#3d37dd"/>
<circle cx="302.56" cy="383.22" r="3.42" fill="#3c36da"/>
<circle cx="302.56" cy="377.98" r="3.42" fill="#3c34d8"/>
<circle cx="302.56" cy="372.75" r="3.42" fill="#3b33d5"/>
<circle cx="302.56" cy="367.51" r="3.42" fill="#3b32d3"/>
<circle cx="302.56" cy="362.27" r="3.42" fill="#3a31d0"/>
<circle cx="302.56" cy="357.04" r="3.42" fill="#392fce"/>
<circle cx="302.56" cy="351.80" r="3.42" fill="#392ecc"/>
<circle cx="302.56" cy="346.56" r="3.42" fill="#392dca"/>
<circle cx="308.53" cy="519.36" r="3.42" fill="#382dc9"/>
<circle cx="308.53" cy="514.13" r="3.42" fill="#3a30cf"/>
<circle cx="308.53" cy="508.89" r="3.42" fill="#3b33d6"/>
<circle cx="308.53" cy="503.65" r="3.42" fill="#3d37dc"/>
<circle cx="308.53" cy="498.42" r="3.42" fill="#3e3ae1"/>
<circle cx="308.53" cy="493.18" r="3.42" fill="#3f3ce6"/>
<circle cx="308.53" cy="487.95" r="3.42" fill="#403fe9"/>
<circle cx="308.53" cy="482.71" r="3.42" fill="#4142eb"/>
<circle cx="308.53" cy="477.47" r="3.42" fill="#4144ed"/>
<circle cx="308.53" cy="472.24" r="3.42" fill="#4245ef"/>
<circle cx="308.53" cy="467.00" r="3.42" fill="#4246f0"/>
<circle cx="308.53" cy="461.76" r="3.42" fill="#4247f0"/>
<circle cx="308.53" cy="456.53" r="3.42" fill="#4347f1"/>
<circle cx="308.53" cy="451.29" r="3.42" fill="#4347f1"/>
<circle cx="308.53" cy="446.05" r="3.42" fill="#4247f0"/>
<circle cx="308.53" cy="440.82" r="3.42" fill="#4246ef"/>
<circle cx="308.53" cy="435.58" r="3.42" fill="#4245ef"/>
<circle cx="308.53" cy="430.35" r="3.42" fill="#4144ed"/>
<circle cx="308.53" cy="425.11" r="3.42" fill="#4143ec"/>
<circle cx="308.53" cy="419.87" r="3.42" fill="#4141eb"/>
<circle cx="308.53" cy="414.64" r="3.42" fill="#4040e9"/>
<circle cx="308.53" cy="409.40" r="3.42" fill="#403ee8"/>
<circle cx="308.53" cy="404.16" r="3.42" fill="#3f3ce6"/>
<circle cx="308.53" cy="398.93" r="3.42" fill="#3e3be4"/>
<circle cx="308.53" cy="393.69" r="3.42" fill="#3e39e1"/>
<circle cx="308.53" cy="388.45" r="3.42" fill="#3d38df"/>
<circle cx="308.53" cy="383.22" r="3.42" fill="#3d37dc"/>
<circle cx="308.53" cy="377.98" r="3.42" fill="#3c35da"/>
<circle cx="308.53" cy="372.75" r="3.42" fill="#3c34d7"/>
<circle cx="308.53" cy="367.51" r="3.42" fill="#3b33d5"/>
<circle cx="308.53" cy="362.27" r="3.42" fill="#3a32d3"/>
<circle cx="308.53" cy="357.04" r="3.42" fill="#3a30d0"/>
<circle cx="308.53" cy="351.80" r="3.42" fill="#392fce"/>
<circle cx="308.53" cy="346.56" r="3.42" fill="#392ecc"/>
<circle cx="308.53" cy="341.33" r="3.42" fill="#392dcb"/>
<circle cx="308.53" cy="336.09" r="3.42" fill="#382cc9"/>
<circle cx="314.49" cy="514.13" r="3.42" fill="#392ecb"/>
<circle cx="314.49" cy="508.89" r="3.42" fill="#3a31d1"/>
<circle cx="314.49" cy="503.65" r="3.42" fill="#3b34d7"/>
<circle cx="314.49" cy="498.42" r="3.42" fill="#3d37dc"/>
<circle cx="314.49" cy="493.18" r="3.42" fill="#3e3ae1"/>
<circle cx="314.49" cy="487.95" r="3.42" fill="#3f3ce6"/>
<circle cx="314.49" cy="482.71" r="3.42" fill="#403fe9"/>
<circle cx="314.49" cy="477.47" r="3.42" fill="#4141eb"/>
<circle cx="314.49" cy="472.24" r="3.42" fill="#4143ec"/>
<circle cx="314.49" cy="467.00" r="3.42" fill="#4244ee"/>
<circle cx="314.49" cy="461.76" r="3.42" fill="#4245ee"/>
<circle cx="314.49" cy="456.53" r="3.42" fill="#4245ef"/>
<circle cx="314.49" cy="451.29" r="3.42" fill="#4246ef"/>
<circle cx="314.49" cy="446.05" r="3.42" fill="#4245ef"/>
<circle cx="314.49" cy="440.82" r="3.42" fill="#4245ef"/>
<circle cx="314.49" cy="435.58" r="3.42" fill="#4244ee"/>
<circle cx="314.49" cy="430.35" r="3.42" fill="#4143ed"/>
<circle cx="314.49" cy="425.11" r="3.42" fill="#4142ec"/>
<circle cx="314.49" cy="419.87" r="3.42" fill="#4141eb"/>
<circle cx="314.49" cy="414.64" r="3.42" fill="#4040ea"/>
<circle cx="314.49" cy="409.40" r="3.42" fill="#403ee8"/>
<circle cx="314.49" cy="404.16" r="3.42" fill="#3f3de7"/>
<circle cx="314.49" cy="398.93" r="3.42" fill="#3f3be5"/>
<circle cx="314.49" cy="393.69" r="3.42" fill="#3e3ae3"/>
<circle cx="314.49" cy="388.45" r="3.42" fill="#3e39e0"/>
<circle cx="314.49" cy="383.22" r="3.42" fill="#3d38de"/>
<circle cx="314.49" cy="377.98" r="3.42" fill="#3d36db"/>
<circle cx="314.49" cy="372.75" r="3.42" fill="#3c35d9"/>
<circle cx="314.49" cy="367.51" r="3.42" fill="#3b34d7"/>
<circle cx="314.49" cy="362.27" r="3.42" fill="#3b33d4"/>
<circle cx="314.49" cy="357.04" r="3.42" fill="#3a32d2"/>
<circle cx="314.49" cy="351.80" r="3.42" fill="#3a30d0"/>
<circle cx="314.49" cy="346.56" r="3.42" fill="#392fce"/>
<circle cx="314.49" cy="341.33" r="3.42" fill="#392ecc"/>
<circle cx="314.49" cy="336.09" r="3.42" fill="#392dcb"/>
<circle cx="314.49" cy="330.85" r="3.42" fill="#382cc9"/>
<circle cx="320.46" cy="508.89" r="3.42" fill="#392fcd"/>
<circle cx="320.46" cy="503.65" r="3.42" fill="#3a32d2"/>
<circle cx="320.46" cy="498.42" r="3.42" fill="#3c34d8"/>
<circle cx="320.46" cy="493.18" r="3.42" fill="#3d37dd"/>
<circle cx="320.46" cy="487.95" r="3.42" fill="#3e3ae1"/>
<circle cx="320.46" cy="482.71" r="3.42" fill="#3f3ce6"/>
<circle cx="320.46" cy="477.47" r="3.42" fill="#403ee8"/>
<circle cx="320.46" cy="472.24" r="3.42" fill="#4040ea"/>
<circle cx="320.46" cy="467.00" r="3.42" fill="#4141eb"/>
<circle cx="320.46" cy="461.76" r="3.42" fill="#4143ec"/>
<circle cx="320.46" cy="456.53" r="3.42" fill="#4143ed"/>
<circle cx="320.46" cy="451.29" r="3.42" fill="#4144ed"/>
<circle cx="320.46" cy="446.05" r="3.42" fill="#4244ee"/>
<circle cx="320.46" cy="440.82" r="3.42" fill="#4144ed"/>
<circle cx="320.46" cy="435.58" r="3.42" fill="#4143ed"/>
<circle cx="320.46" cy="430.35" r="3.42" fill="#4143ec"/>
<circle cx="320.46" cy="425.11" r="3.42" fill="#4142ec"/>
<circle cx="320.46" cy="419.87" r="3.42" fill="#4141eb"/>
<circle cx="320.46" cy="414.64" r="3.42" fill="#4040ea"/>
<circle cx="320.46" cy="409.40" r="3.42" fill="#403fe8"/>
<circle cx="320.46" cy="404.16" r="3.42" fill="#3f3de7"/>
<circle cx="320.46" cy="398.93" r="3.42" fill="#3f3ce6"/>
<circle cx="320.46" cy="393.69" r="3.42" fill="#3e3be4"/>
<circle cx="320.46" cy="388.45" r="3.42" fill="#3e39e1"/>
<circle cx="320.46" cy="383.22" r="3.42" fill="#3d38df"/>
<circle cx="320.46" cy="377.98" r="3.42" fill="#3d37dd"/>
<circle cx="320.46" cy="372.75" r="3.42" fill="#3c36db"/>
<circle cx="320.46" cy="367.51" r="3.42" fill="#3c35d8"/>
<circle cx="320.46" cy="362.27" r="3.42" fill="#3b34d6"/>
<circle cx="320.46" cy="357.04" r="3.42" fill="#3b32d4"/>
<circle cx="320.46" cy="351.80" r="3.42" fill="#3a31d2"/>
<circle cx="320.46" cy="346.56" r="3.42" fill="#3a30d0"/>
<circle cx="320.46" cy="341.33" r="3.42" fill="#392fce"/>
<circle cx="320.46" cy="336.09" r="3.42" fill="#392ecc"/>
<circle cx="320.46" cy="330.85" r="3.42" fill="#392dcb"/>
<circle cx="320.46" cy="325.62" r="3.42" fill="#382dc9"/>
<circle cx="326.43" cy="508.89" r="3.42" fill="#382dc9"/>
<circle cx="326.43" cy="503.65" r="3.42" fill="#3a2fcf"/>
<circle cx="326.43" cy="498.42" r="3.42" fill="#3b32d4"/>
<circle cx="326.43" cy="493.18" r="3.42" fill="#3c35d8"/>
<circle cx="326.43" cy="487.95" r="3.42" fill="#3d37dd"/>
<circle cx="326.43" cy="482.71" r="3.42" fill="#3e39e1"/>
<circle cx="326.43" cy="477.47" r="3.42" fill="#3f3be5"/>
<circle cx="326.43" cy="472.24" r="3.42" fill="#3f3de7"/>
<circle cx="326.43" cy="467.00" r="3.42" fill="#403fe9"/>
<circle cx="326.43" cy="461.76" r="3.42" fill="#4040ea"/>
<circle cx="326.43" cy="456.53" r="3.42" fill="#4141eb"/>
<circle cx="326.43" cy="451.29" r="3.42" fill="#4142ec"/>
<circle cx="326.43" cy="446.05" r="3.42" fill="#4142ec"/>
<circle cx="326.43" cy="440.82" r="3.42" fill="#4143ec"/>
<circle cx="326.43" cy="435.58" r="3.42" fill="#4142ec"/>
<circle cx="326.43" cy="430.35" r="3.42" fill="#4142ec"/>
<circle cx="326.43" cy="425.11" r="3.42" fill="#4141eb"/>
<circle cx="326.43" cy="419.87" r="3.42" fill="#4041ea"/>
<circle cx="326.43" cy="414.64" r="3.42" fill="#4040e9"/>
<circle cx="326.43" cy="409.40" r="3.42" fill="#403fe8"/>
<circle cx="326.43" cy="404.16" r="3.42" fill="#3f3de7"/>
<circle cx="326.43" cy="398.93" r="3.42" fill="#3f3ce6"/>
<circle cx="326.43" cy="393.69" r="3.42" fill="#3f3be4"/>
<circle cx="326.43" cy="388.45" r="3.42" fill="#3e3ae2"/>
<circle cx="326.43" cy="383.22" r="3.42" fill="#3e39e0"/>
<circle cx="326.43" cy="377.98" r="3.42" fill="#3d38de"/>
<circle cx="326.43" cy="372.75" r="3.42" fill="#3d37dc"/>
<circle cx="326.43" cy="367.51" r="3.42" fill="#3c35da"/>
<circle cx="326.43" cy="362.27" r="3.42" fill="#3c34d8"/>
<circle cx="326.43" cy="357.04" r="3.42" fill="#3b33d6"/>
<circle cx="326.43" cy="351.80" r="3.42" fill="#3b32d4"/>
<circle cx="326.43" cy="346.56" r="3.42" fill="#3a31d2"/>
<circle cx="326.43" cy="341.33" r="3.42" fill="#3a30d0"/>
<circle cx="326.43" cy="336.09" r="3.42" fill="#392fce"/>
<circle cx="326.43" cy="330.85" r="3.42" fill="#392ecc"/>
<circle cx="326.43" cy="325.62" r="3.42" fill="#392dcb"/>
<circle cx="326.43" cy="320.38" r="3.42" fill="#382dc9"/>
<circle cx="332.40" cy="503.65" r="3.42" fill="#392ecb"/>
<circle cx="332.40" cy="498.42" r="3.42" fill="#3a30d0"/>
<circle cx="332.40" cy="493.18" r="3.42" fill="#3b33d4"/>
<circle cx="332.40" cy="487.95" r="3.42" fill="#3c35d9"/>
<circle cx="332.40" cy="482.71" r="3.42" fill="#3d37dd"/>
<circle cx="332.40" cy="477.47" r="3.42" fill="#3e39e1"/>
<circle cx="332.40" cy="472.24" r="3.42" fill="#3f3be4"/>
<circle cx="332.40" cy="467.00" r="3.42" fill="#3f3de7"/>
<circle cx="332.40" cy="461.76" r="3.42" fill="#403ee8"/>
<circle cx="332.40" cy="456.53" r="3.42" fill="#403fe9"/>
<circle cx="332.40" cy="451.29" r="3.42" fill="#4040ea"/>
<circle cx="332.40" cy="446.05" r="3.42" fill="#4141eb"/>
<circle cx="332.40" cy="440.82" r="3.42" fill="#4141eb"/>
<circle cx="332.40" cy="435.58" r="3.42" fill="#4141eb"/>
<circle cx="332.40" cy="430.35" r="3.42" fill="#4141eb"/>
<circle cx="332.40" cy="425.11" r="3.42" fill="#4041ea"/>
<circle cx="332.40" cy="419.87" r="3.42" fill="#4040ea"/>
<circle cx="332.40" cy="414.64" r="3.42" fill="#403fe9"/>
<circle cx="332.40" cy="409.40" r="3.42" fill="#403ee8"/>
<circle cx="332.40" cy="404.16" r="3.42" fill="#3f3de7"/>
<circle cx="332.40" cy="398.93" r="3.42" fill="#3f3ce6"/>
<circle cx="332.40" cy="393.69" r="3.42" fill="#3f3be5"/>
<circle cx="332.40" cy="388.45" r="3.42" fill="#3e3ae3"/>
<circle cx="332.40" cy="383.22" r="3.42" fill="#3e39e1"/>
<circle cx="332.40" cy="377.98" r="3.42" fill="#3d38df"/>
<circle cx="332.40" cy="372.75" r="3.42" fill="#3d37dd"/>
<circle cx="332.40" cy="367.51" r="3.42" fill="#3c36db"/>
<circle cx="332.40" cy="362.27" r="3.42" fill="#3c35d9"/>
<circle cx="332.40" cy="357.04" r="3.42" fill="#3c34d7"/>
<circle cx="332.40" cy="351.80" r="3.42" fill="#3b33d5"/>
<circle cx="332.40" cy="346.56" r="3.42" fill="#3b32d3"/>
<circle cx="332.40" cy="341.33" r="3.42" fill="#3a31d1"/>
<circle cx="332.40" cy="336.09" r="3.42" fill="#3a30d0"/>
<circle cx="332.40" cy="330.85" r="3.42" fill="#392fce"/>
<circle cx="332.40" cy="325.62" r="3.42" fill="#392ecc"/>
<circle cx="332.40" cy="320.38" r="3.42" fill="#392dcb"/>
<circle cx="332.40" cy="315.15" r="3.42" fill="#382dc9"/>
<circle cx="338.37" cy="498.42" r="3.42" fill="#392ecc"/>
<circle cx="338.37" cy="493.18" r="3.42" fill="#3a31d1"/>
<circle cx="338.37" cy="487.95" r="3.42" fill="#3b33d5"/>
<circle cx="338.37" cy="482.71" r="3.42" fill="#3c35d9"/>
<circle cx="338.37" cy="477.47" r="3.42" fill="#3d37dd"/>
<circle cx="338.37" cy="472.24" r="3.42" fill="#3e39e0"/>
<circle cx="338.37" cy="467.00" r="3.42" fill="#3e3be3"/>
<circle cx="338.37" cy="461.76" r="3.42" fill="#3f3ce6"/>
<circle cx="338.37" cy="456.53" r="3.42" fill="#3f3de7"/>
<circle cx="338.37" cy="451.29" r="3.42" fill="#403ee8"/>
<circle cx="338.37" cy="446.05" r="3.42" fill="#403fe9"/>
<circle cx="338.37" cy="440.82" r="3.42" fill="#4040e9"/>
<circle cx="338.37" cy="435.58" r="3.42" fill="#4040ea"/>
<circle cx="338.37" cy="430.35" r="3.42" fill="#4040ea"/>
<circle cx="338.37" cy="425.11" r="3.42" fill="#4040e9"/>
<circle cx="338.37" cy="419.87" r="3.42" fill="#403fe9"/>
<circle cx="338.37" cy="414.64" r="3.42" fill="#403fe9"/>
<circle cx="338.37" cy="409.40" r="3.42" fill="#403ee8"/>
<circle cx="338.37" cy="404.16" r="3.42" fill="#3f3de7"/>
<circle cx="338.37" cy="398.93" r="3.42" fill="#3f3ce6"/>
<circle cx="338.37" cy="393.69" r="3.42" fill="#3f3be5"/>
<circle cx="338.37" cy="388.45" r="3.42" fill="#3e3be3"/>
<circle cx="338.37" cy="383.22" r="3.42" fill="#3e3ae1"/>
<circle cx="338.37" cy="377.98" r="3.42" fill="#3e39e0"/>
<circle cx="338.37" cy="372.75" r="3.42" fill="#3d38de"/>
<circle cx="338.37" cy="367.51" r="3.42" fill="#3d37dc"/>
<circle cx="338.37" cy="362.27" r="3.42" fill="#3c36da"/>
<circle cx="338.37" cy="357.04" r="3.42" fill="#3c35d8"/>
<circle cx="338.37" cy="351.80" r="3.42" fill="#3b34d6"/>
<circle cx="338.37" cy="346.56" r="3.42" fill="#3b33d5"/>
<circle cx="338.37" cy="341.33" r="3.42" fill="#3b32d3"/>
<circle cx="338.37" cy="336.09" r="3.42" fill="#3a31d1"/>
<circle cx="338.37" cy="330.85" r="3.42" fill="#3a30cf"/>
<circle cx="338.37" cy="325.62" r="3.42" fill="#392fce"/>
<circle cx="338.37" cy="320.38" r="3.42" fill="#392ecc"/>
<circle cx="338.37" cy="315.15" r="3.42" fill="#392dcb"/>
<circle cx="338.37" cy="309.91" r="3.42" fill="#382dc9"/>
<circle cx="344.34" cy="498.42" r="3.42" fill="#382dc9"/>
<circle cx="344.34" cy="493.18" r="3.42" fill="#392fcd"/>
<circle cx="344.34" cy="487.95" r="3.42" fill="#3a31d1"/>
<circle cx="344.34" cy="482.71" r="3.42" fill="#3b33d5"/>
<circle cx="344.34" cy="477.47" r="3.42" fill="#3c35d9"/>
<circle cx="344.34" cy="472.24" r="3.42" fill="#3d37dd"/>
<circle cx="344.34" cy="467.00" r="3.42" fill="#3e39e0"/>
<circle cx="344.34" cy="461.76" r="3.42" fill="#3e3ae2"/>
<circle cx="344.34" cy="456.53" r="3.42" fill="#3f3be5"/>
<circle cx="344.34" cy="451.29" r="3.42" fill="#3f3ce6"/>
<circle cx="344.34" cy="446.05" r="3.42" fill="#3f3de7"/>
<circle cx="344.34" cy="440.82" r="3.42" fill="#403ee8"/>
<circle cx="344.34" cy="435.58" r="3.42" fill="#403ee8"/>
<circle cx="344.34" cy="430.35" r="3.42" fill="#403fe8"/>
<circle cx="344.34" cy="425.11" r="3.42" fill="#403fe8"/>
<circle cx="344.34" cy="419.87" r="3.42" fill="#403ee8"/>
<circle cx="344.34" cy="414.64" r="3.42" fill="#403ee8"/>
<circle cx="344.34" cy="409.40" r="3.42" fill="#3f3ee7"/>
<circle cx="344.34" cy="404.16" r="3.42" fill="#3f3de7"/>
<circle cx="344.34" cy="398.93" r="3.42" fill="#3f3ce6"/>
<circle cx="344.34" cy="393.69" r="3.42" fill="#3f3be5"/>
<circle cx="344.34" cy="388.45" r="3.42" fill="#3e3be3"/>
<circle cx="344.34" cy="383.22" r="3.42" fill="#3e3ae2"/>
<circle cx="344.34" cy="377.98" r="3.42" fill="#3e39e0"/>
<circle cx="344.34" cy="372.75" r="3.42" fill="#3d38de"/>
<circle cx="344.34" cy="367.51" r="3.42" fill="#3d37dd"/>
<circle cx="344.34" cy="362.27" r="3.42" fill="#3c36db"/>
<circle cx="344.34" cy="357.04" r="3.42" fill="#3c35d9"/>
<circle cx="344.34" cy="351.80" r="3.42" fill="#3c34d7"/>
<circle cx="344.34" cy="346.56" r="3.42" fill="#3b33d6"/>
<circle cx="344.34" cy="341.33" r="3.42" fill="#3b32d4"/>
<circle cx="344.34" cy="336.09" r="3.42" fill="#3a32d2"/>
<circle cx="344.34" cy="330.85" r="3.42" fill="#3a31d1"/>
<circle cx="344.34" cy="325.62" r="3.42" fill="#3a30cf"/>
<circle cx="344.34" cy="320.38" r="3.42" fill="#392fcd"/>
<circle cx="344.34" cy="315.15" r="3.42" fill="#392ecc"/>
<circle cx="344.34" cy="309.91" r="3.42" fill="#392dcb"/>
<circle cx="344.34" cy="304.67" r="3.42" fill="#382dc9"/>
<circle cx="350.31" cy="493.18" r="3.42" fill="#392dca"/>
<circle cx="350.31" cy="487.95" r="3.42" fill="#392fce"/>
<circle cx="350.31" cy="482.71" r="3.42" fill="#3a31d2"/>
<circle cx="350.31" cy="477.47" r="3.42" fill="#3b33d6"/>
<circle cx="350.31" cy="472.24" r="3.42" fill="#3c35d9"/>
<circle cx="350.31" cy="467.00" r="3.42" fill="#3d37dc"/>
<circle cx="350.31" cy="461.76" r="3.42" fill="#3d38df"/>
<circle cx="350.31" cy="456.53" r="3.42" fill="#3e3ae1"/>
<circle cx="350.31" cy="451.29" r="3.42" fill="#3e3be3"/>
<circle cx="350.31" cy="446.05" r="3.42" fill="#3f3ce5"/>
<circle cx="350.31" cy="440.82" r="3.42" fill="#3f3ce6"/>
<circle cx="350.31" cy="435.58" r="3.42" fill="#3f3de7"/>
<circle cx="350.31" cy="430.35" r="3.42" fill="#3f3de7"/>
<circle cx="350.31" cy="425.11" r="3.42" fill="#3f3de7"/>
<circle cx="350.31" cy="419.87" r="3.42" fill="#3f3de7"/>
<circle cx="350.31" cy="414.64" r="3.42" fill="#3f3de7"/>
<circle cx="350.31" cy="409.40" r="3.42" fill="#3f3de7"/>
<circle cx="350.31" cy="404.16" r="3.42" fill="#3f3ce6"/>
<circle cx="350.31" cy="398.93" r="3.42" fill="#3f3ce6"/>
<circle cx="350.31" cy="393.69" r="3.42" fill="#3f3be5"/>
<circle cx="350.31" cy="388.45" r="3.42" fill="#3e3be3"/>
<circle cx="350.31" cy="383.22" r="3.42" fill="#3e3ae2"/>
<circle cx="350.31" cy="377.98" r="3.42" fill="#3e39e0"/>
<circle cx="350.31" cy="372.75" r="3.42" fill="#3d38df"/>
<circle cx="350.31" cy="367.51" r="3.42" fill="#3d37dd"/>
<circle cx="350.31" cy="362.27" r="3.42" fill="#3d36dc"/>
<circle cx="350.31" cy="357.04" r="3.42" fill="#3c36da"/>
<circle cx="350.31" cy="351.80" r="3.42" fill="#3c35d8"/>
<circle cx="350.31" cy="346.56" r="3.42" fill="#3b34d7"/>
<circle cx="350.31" cy="341.33" r="3.42" fill="#3b33d5"/>
<circle cx="350.31" cy="336.09" r="3.42" fill="#3b32d3"/>
<circle cx="350.31" cy="330.85" r="3.42" fill="#3a31d2"/>
<circle cx="350.31" cy="325.62" r="3.42" fill="#3a30d0"/>
<circle cx="350.31" cy="320.38" r="3.42" fill="#3a30cf"/>
<circle cx="350.31" cy="315.15" r="3.42" fill="#392fcd"/>
<circle cx="350.31" cy="309.91" r="3.42" fill="#392ecc"/>
<circle cx="350.31" cy="304.67" r="3.42" fill="#392dca"/>
<circle cx="350.31" cy="299.44" r="3.42" fill="#382dc9"/>
<circle cx="356.28" cy="487.95" r="3.42" fill="#392ecb"/>
<circle cx="356.28" cy="482.71" r="3.42" fill="#3a30cf"/>
<circle cx="356.28" cy="477.47" r="3.42" fill="#3a32d2"/>
<circle cx="356.28" cy="472.24" r="3.42" fill="#3b33d6"/>
<circle cx="356.28" cy="467.00" r="3.42" fill="#3c35d9"/>
<circle cx="356.28" cy="461.76" r="3.42" fill="#3d37dc"/>
<circle cx="356.28" cy="456.53" r="3.42" fill="#3d38de"/>
<circle cx="356.28" cy="451.29" r="3.42" fill="#3e39e0"/>
<circle cx="356.28" cy="446.05" r="3.42" fill="#3e3ae2"/>
<circle cx="356.28" cy="440.82" r="3.42" fill="#3e3be4"/>
<circle cx="356.28" cy="435.58" r="3.42" fill="#3f3be5"/>
<circle cx="356.28" cy="430.35" r="3.42" fill="#3f3ce6"/>
<circle cx="356.28" cy="425.11" r="3.42" fill="#3f3ce6"/>
<circle cx="356.28" cy="419.87" r="3.42" fill="#3f3ce6"/>
<circle cx="356.28" cy="414.64" r="3.42" fill="#3f3ce6"/>
<circle cx="356.28" cy="409.40" r="3.42" fill="#3f3ce6"/>
<circle cx="356.28" cy="404.16" r="3.42" fill="#3f3ce6"/>
<circle cx="356.28" cy="398.93" r="3.42" fill="#3f3be5"/>
<circle cx="356.28" cy="393.69" r="3.42" fill="#3f3be4"/>
<circle cx="356.28" cy="388.45" r="3.42" fill="#3e3ae3"/>
<circle cx="356.28" cy="383.22" r="3.42" fill="#3e3ae2"/>
<circle cx="356.28" cy="377.98" r="3.42" fill="#3e39e1"/>
<circle cx="356.28" cy="372.75" r="3.42" fill="#3d38df"/>
<circle cx="356.28" cy="367.51" r="3.42" fill="#3d38de"/>
<circle cx="356.28" cy="362.27" r="3.42" fill="#3d37dc"/>
<circle cx="356.28" cy="357.04" r="3.42" fill="#3c36db"/>
<circle cx="356.28" cy="351.80" r="3.42" fill="#3c35d9"/>
<circle cx="356.28" cy="346.56" r="3.42" fill="#3c34d8"/>
<circle cx="356.28" cy="341.33" r="3.42" fill="#3b33d6"/>
<circle cx="356.28" cy="336.09" r="3.42" fill="#3b33d4"/>
<circle cx="356.28" cy="330.85" r="3.42" fill="#3b32d3"/>
<circle cx="356.28" cy="325.62" r="3.42" fill="#3a31d1"/>
<circle cx="356.28" cy="320.38" r="3.42" fill="#3a30d0"/>
<circle cx="356.28" cy="315.15" r="3.42" fill="#392fce"/>
<circle cx="356.28" cy="309.91" r="3.42" fill="#392fcd"/>
<circle cx="356.28" cy="304.67" r="3.42" fill="#392ecc"/>
<circle cx="356.28" cy="299.44" r="3.42" fill="#392dca"/>
<circle cx="356.28" cy="294.20" r="3.42" fill="#382dc9"/>
<circle cx="362.25" cy="482.71" r="3.42" fill="#392ecc"/>
<circle cx="362.25" cy="477.47" r="3.42" fill="#3a30cf"/>
<circle cx="362.25" cy="472.24" r="3.42" fill="#3b32d3"/>
<circle cx="362.25" cy="467.00" r="3.42" fill="#3b33d6"/>
<circle cx="362.25" cy="461.76" r="3.42" fill="#3c35d9"/>
<circle cx="362.25" cy="456.53" r="3.42" fill="#3c36db"/>
<circle cx="362.25" cy="451.29" r="3.42" fill="#3d38de"/>
<circle cx="362.25" cy="446.05" r="3.42" fill="#3d39e0"/>
<circle cx="362.25" cy="440.82" r="3.42" fill="#3e39e1"/>
<circle cx="362.25" cy="435.58" r="3.42" fill="#3e3ae3"/>
<circle cx="362.25" cy="430.35" r="3.42" fill="#3e3be4"/>
<circle cx="362.25" cy="425.11" r="3.42" fill="#3f3be4"/>
<circle cx="362.25" cy="419.87" r="3.42" fill="#3f3be5"/>
<circle cx="362.25" cy="414.64" r="3.42" fill="#3f3be5"/>
<circle cx="362.25" cy="409.40" r="3.42" fill="#3f3be5"/>
<circle cx="362.25" cy="404.16" r="3.42" fill="#3f3be5"/>
<circle cx="362.25" cy="398.93" r="3.42" fill="#3f3be4"/>
<circle cx="362.25" cy="393.69" r="3.42" fill="#3e3be3"/>
<circle cx="362.25" cy="388.45" r="3.42" fill="#3e3ae2"/>
<circle cx="362.25" cy="383.22" r="3.42" fill="#3e3ae1"/>
<circle cx="362.25" cy="377.98" r="3.42" fill="#3e39e0"/>
<circle cx="362.25" cy="372.75" r="3.42" fill="#3d38df"/>
<circle cx="362.25" cy="367.51" r="3.42" fill="#3d38de"/>
<circle cx="362.25" cy="362.27" r="3.42" fill="#3d37dd"/>
<circle cx="362.25" cy="357.04" r="3.42" fill="#3c36db"/>
<circle cx="362.25" cy="351.80" r="3.42" fill="#3c35da"/>
<circle cx="362.25" cy="346.56" r="3.42" fill="#3c35d8"/>
<circle cx="362.25" cy="341.33" r="3.42" fill="#3b34d7"/>
<circle cx="362.25" cy="336.09" r="3.42" fill="#3b33d5"/>
<circle cx="362.25" cy="330.85" r="3.42" fill="#3b32d4"/>
<circle cx="362.25" cy="325.62" r="3.42" fill="#3a32d2"/>
<circle cx="362.25" cy="320.38" r="3.42" fill="#3a31d1"/>
<circle cx="362.25" cy="315.15" r="3.42" fill="#3a30cf"/>
<circle cx="362.25" cy="309.91" r="3.42" fill="#392fce"/>
<circle cx="362.25" cy="304.67" r="3.42" fill="#392fcd"/>
<circle cx="362.25" cy="299.44" r="3.42" fill="#392ecb"/>
<circle cx="362.25" cy="294.20" r="3.42" fill="#382dca"/>
<circle cx="362.25" cy="288.96" r="3.42" fill="#382cc9"/>
<circle cx="368.22" cy="482.71" r="3.42" fill="#382dc9"/>
<circle cx="368.22" cy="477.47" r="3.42" fill="#392ecd"/>
<circle cx="368.22" cy="472.24" r="3.42" fill="#3a30d0"/>
<circle cx="368.22" cy="467.00" r="3.42" fill="#3b32d3"/>
<circle cx="368.22" cy="461.76" r="3.42" fill="#3b33d6"/>
<circle cx="368.22" cy="456.53" r="3.42" fill="#3c35d8"/>
<circle cx="368.22" cy="451.29" r="3.42" fill="#3c36db"/>
<circle cx="368.22" cy="446.05" r="3.42" fill="#3d37dd"/>
<circle cx="368.22" cy="440.82" r="3.42" fill="#3d38df"/>
<circle cx="368.22" cy="435.58" r="3.42" fill="#3e39e0"/>
<circle cx="368.22" cy="430.35" r="3.42" fill="#3e39e1"/>
<circle cx="368.22" cy="425.11" r="3.42" fill="#3e3ae2"/>
<circle cx="368.22" cy="419.87" r="3.42" fill="#3e3ae3"/>
<circle cx="368.22" cy="414.64" r="3.42" fill="#3e3be3"/>
<circle cx="368.22" cy="409.40" r="3.42" fill="#3e3be3"/>
<circle cx="368.22" cy="404.16" r="3.42" fill="#3e3be3"/>
<circle cx="368.22" cy="398.93" r="3.42" fill="#3e3ae3"/>
<circle cx="368.22" cy="393.69" r="3.42" fill="#3e3ae2"/>
<circle cx="368.22" cy="388.45" r="3.42" fill="#3e3ae2"/>
<circle cx="368.22" cy="383.22" r="3.42" fill="#3e39e1"/>
<circle cx="368.22" cy="377.98" r="3.42" fill="#3e39e0"/>
<circle cx="368.22" cy="372.75" r="3.42" fill="#3d38df"/>
<circle cx="368.22" cy="367.51" r="3.42" fill="#3d38de"/>
<circle cx="368.22" cy="362.27" r="3.42" fill="#3d37dd"/>
<circle cx="368.22" cy="357.04" r="3.42" fill="#3d36db"/>
<circle cx="368.22" cy="351.80" r="3.42" fill="#3c36da"/>
<circle cx="368.22" cy="346.56" r="3.42" fill="#3c35d9"/>
<circle cx="368.22" cy="341.33" r="3.42" fill="#3c34d7"/>
<circle cx="368.22" cy="336.09" r="3.42" fill="#3b33d6"/>
<circle cx="368.22" cy="330.85" r="3.42" fill="#3b33d5"/>
<circle cx="368.22" cy="325.62" r="3.42" fill="#3b32d3"/>
<circle cx="368.22" cy="320.38" r="3.42" fill="#3a31d2"/>
<circle cx="368.22" cy="315.15" r="3.42" fill="#3a30d0"/>
<circle cx="368.22" cy="309.91" r="3.42" fill="#3a30cf"/>
<circle cx="368.22" cy="304.67" r="3.42" fill="#392fce"/>
<circle cx="368.22" cy="299.44" r="3.42" fill="#392ecc"/>
<circle cx="368.22" cy="294.20" r="3.42" fill="#392ecb"/>
<circle cx="368.22" cy="288.96" r="3.42" fill="#382dca"/>
<circle cx="368.22" cy="283.73" r="3.42" fill="#382cc9"/>
<circle cx="374.19" cy="477.47" r="3.42" fill="#382dca"/>
<circle cx="374.19" cy="472.24" r="3.42" fill="#392fcd"/>
<circle cx="374.19" cy="467.00" r="3.42" fill="#3a30d0"/>
<circle cx="374.19" cy="461.76" r="3.42" fill="#3b32d3"/>
<circle cx="374.19" cy="456.53" r="3.42" fill="#3b33d6"/>
<circle cx="374.19" cy="451.29" r="3.42" fill="#3c35d8"/>
<circle cx="374.19" cy="446.05" r="3.42" fill="#3c36da"/>
<circle cx="374.19" cy="440.82" r="3.42" fill="#3d37dc"/>
<circle cx="374.19" cy="435.58" r="3.42" fill="#3d38de"/>
<circle cx="374.19" cy="430.35" r="3.42" fill="#3d38df"/>
<circle cx="374.19" cy="425.11" r="3.42" fill="#3e39e0"/>
<circle cx="374.19" cy="419.87" r="3.42" fill="#3e39e1"/>
<circle cx="374.19" cy="414.64" r="3.42" fill="#3e3ae1"/>
<circle cx="374.19" cy="409.40" r="3.42" fill="#3e3ae2"/>
<circle cx="374.19" cy="404.16" r="3.42" fill="#3e3ae2"/>
<circle cx="374.19" cy="398.93" r="3.42" fill="#3e3ae2"/>
<circle cx="374.19" cy="393.69" r="3.42" fill="#3e3ae1"/>
<circle cx="374.19" cy="388.45" r="3.42" fill="#3e39e1"/>
<circle cx="374.19" cy="383.22" r="3.42" fill="#3e39e0"/>
<circle cx="374.19" cy="377.98" r="3.42" fill="#3e39e0"/>
<circle cx="374.19" cy="372.75" r="3.42" fill="#3d38df"/>
<circle cx="374.19" cy="367.51" r="3.42" fill="#3d38de"/>
<circle cx="374.19" cy="362.27" r="3.42" fill="#3d37dd"/>
<circle cx="374.19" cy="357.04" r="3.42" fill="#3d36dc"/>
<circle cx="374.19" cy="351.80" r="3.42" fill="#3c36da"/>
<circle cx="374.19" cy="346.56" r="3.42" fill="#3c35d9"/>
<circle cx="374.19" cy="341.33" r="3.42" fill="#3c34d8"/>
<circle cx="374.19" cy="336.09" r="3.42" fill="#3b34d7"/>
<circle cx="374.19" cy="330.85" r="3.42" fill="#3b33d5"/>
<circle cx="374.19" cy="325.62" r="3.42" fill="#3b32d4"/>
<circle cx="374.19" cy="320.38" r="3.42" fill="#3a32d3"/>
<circle cx="374.19" cy="315.15" r="3.42" fill="#3a31d1"/>
<circle cx="374.19" cy="309.91" r="3.42" fill="#3a30d0"/>
<circle cx="374.19" cy="304.67" r="3.42" fill="#3a30cf"/>
<circle cx="374.19" cy="299.44" r="3.42" fill="#392fcd"/>
<circle cx="374.19" cy="294.20" r="3.42" fill="#392ecc"/>
<circle cx="374.19" cy="288.96" r="3.42" fill="#392ecb"/>
<circle cx="374.19" cy="283.73" r="3.42" fill="#382dca"/>
<circle cx="380.15" cy="472.24" r="3.42" fill="#392dcb"/>
<circle cx="380.15" cy="467.00" r="3.42" fill="#392fce"/>
<circle cx="380.15" cy="461.76" r="3.42" fill="#3a30d0"/>
<circle cx="380.15" cy="456.53" r="3.42" fill="#3b32d3"/>
<circle cx="380.15" cy="451.29" r="3.42" fill="#3b33d5"/>
<circle cx="380.15" cy="446.05" r="3.42" fill="#3c34d8"/>
<circle cx="380.15" cy="440.82" r="3.42" fill="#3c35da"/>
<circle cx="380.15" cy="435.58" r="3.42" fill="#3d36db"/>
<circle cx="380.15" cy="430.35" r="3.42" fill="#3d37dd"/>
<circle cx="380.15" cy="425.11" r="3.42" fill="#3d38de"/>
<circle cx="380.15" cy="419.87" r="3.42" fill="#3d38df"/>
<circle cx="380.15" cy="414.64" r="3.42" fill="#3e39e0"/>
<circle cx="380.15" cy="409.40" r="3.42" fill="#3e39e0"/>
<circle cx="380.15" cy="404.16" r="3.42" fill="#3e39e0"/>
<circle cx="380.15" cy="398.93" r="3.42" fill="#3e39e1"/>
<circle cx="380.15" cy="393.69" r="3.42" fill="#3e39e0"/>
<circle cx="380.15" cy="388.45" r="3.42" fill="#3e39e0"/>
<circle cx="380.15" cy="383.22" r="3.42" fill="#3e39e0"/>
<circle cx="380.15" cy="377.98" r="3.42" fill="#3d38df"/>
<circle cx="380.15" cy="372.75" r="3.42" fill="#3d38de"/>
<circle cx="380.15" cy="367.51" r="3.42" fill="#3d37dd"/>
<circle cx="380.15" cy="362.27" r="3.42" fill="#3d37dd"/>
<circle cx="380.15" cy="357.04" r="3.42" fill="#3d36dc"/>
<circle cx="380.15" cy="351.80" r="3.42" fill="#3c36da"/>
<circle cx="380.15" cy="346.56" r="3.42" fill="#3c35d9"/>
<circle cx="380.15" cy="341.33" r="3.42" fill="#3c35d8"/>
<circle cx="380.15" cy="336.09" r="3.42" fill="#3b34d7"/>
<circle cx="380.15" cy="330.85" r="3.42" fill="#3b33d6"/>
<circle cx="380.15" cy="325.62" r="3.42" fill="#3b33d4"/>
<circle cx="380.15" cy="320.38" r="3.42" fill="#3b32d3"/>
<circle cx="380.15" cy="315.15" r="3.42" fill="#3a31d2"/>
<circle cx="380.15" cy="309.91" r="3.42" fill="#3a31d1"/>
<circle cx="380.15" cy="304.67" r="3.42" fill="#3a30cf"/>
<circle cx="380.15" cy="299.44" r="3.42" fill="#392fce"/>
<circle cx="380.15" cy="294.20" r="3.42" fill="#392fcd"/>
<circle cx="380.15" cy="288.96" r="3.42" fill="#392ecc"/>
<circle cx="380.15" cy="283.73" r="3.42" fill="#392dcb"/>
<circle cx="380.15" cy="278.49" r="3.42" fill="#382dca"/>
<circle cx="386.12" cy="467.00" r="3.42" fill="#392ecb"/>
<circle cx="386.12" cy="461.76" r="3.42" fill="#392fce"/>
<circle cx="386.12" cy="456.53" r="3.42" fill="#3a31d0"/>
<circle cx="386.12" cy="451.29" r="3.42" fill="#3b32d3"/>
<circle cx="386.12" cy="446.05" r="3.42" fill="#3b33d5"/>
<circle cx="386.12" cy="440.82" r="3.42" fill="#3c34d7"/>
<circle cx="386.12" cy="435.58" r="3.42" fill="#3c35d9"/>
<circle cx="386.12" cy="430.35" r="3.42" fill="#3c36db"/>
<circle cx="386.12" cy="425.11" r="3.42" fill="#3d37dc"/>
<circle cx="386.12" cy="419.87" r="3.42" fill="#3d37dd"/>
<circle cx="386.12" cy="414.64" r="3.42" fill="#3d38de"/>
<circle cx="386.12" cy="409.40" r="3.42" fill="#3d38de"/>
<circle cx="386.12" cy="404.16" r="3.42" fill="#3d38df"/>
<circle cx="386.12" cy="398.93" r="3.42" fill="#3d38df"/>
<circle cx="386.12" cy="393.69" r="3.42" fill="#3d38df"/>
<circle cx="386.12" cy="388.45" r="3.42" fill="#3d38df"/>
<circle cx="386.12" cy="383.22" r="3.42" fill="#3d38df"/>
<circle cx="386.12" cy="377.98" r="3.42" fill="#3d38de"/>
<circle cx="386.12" cy="372.75" r="3.42" fill="#3d38de"/>
<circle cx="386.12" cy="367.51" r="3.42" fill="#3d37dd"/>
<circle cx="386.12" cy="362.27" r="3.42" fill="#3d37dc"/>
<circle cx="386.12" cy="357.04" r="3.42" fill="#3d36db"/>
<circle cx="386.12" cy="351.80" r="3.42" fill="#3c36da"/>
<circle cx="386.12" cy="346.56" r="3.42" fill="#3c35d9"/>
<circle cx="386.12" cy="341.33" r="3.42" fill="#3c35d8"/>
<circle cx="386.12" cy="336.09" r="3.42" fill="#3c34d7"/>
<circle cx="386.12" cy="330.85" r="3.42" fill="#3b34d6"/>
<circle cx="386.12" cy="325.62" r="3.42" fill="#3b33d5"/>
<circle cx="386.12" cy="320.38" r="3.42" fill="#3b32d4"/>
<circle cx="386.12" cy="315.15" r="3.42" fill="#3a32d3"/>
<circle cx="386.12" cy="309.91" r="3.42" fill="#3a31d1"/>
<circle cx="386.12" cy="304.67" r="3.42" fill="#3a30d0"/>
<circle cx="386.12" cy="299.44" r="3.42" fill="#3a30cf"/>
<circle cx="386.12" cy="294.20" r="3.42" fill="#392fce"/>
<circle cx="386.12" cy="288.96" r="3.42" fill="#392ecd"/>
<circle cx="386.12" cy="283.73" r="3.42" fill="#392ecc"/>
<circle cx="386.12" cy="278.49" r="3.42" fill="#392dca"/>
<circle cx="386.12" cy="273.25" r="3.42" fill="#382dc9"/>
<circle cx="392.09" cy="467.00" r="3.42" fill="#382dc9"/>
<circle cx="392.09" cy="461.76" r="3.42" fill="#392ecc"/>
<circle cx="392.09" cy="456.53" r="3.42" fill="#392fce"/>
<circle cx="392.09" cy="451.29" r="3.42" fill="#3a31d1"/>
<circle cx="392.09" cy="446.05" r="3.42" fill="#3b32d3"/>
<circle cx="392.09" cy="440.82" r="3.42" fill="#3b33d5"/>
<circle cx="392.09" cy="435.58" r="3.42" fill="#3b34d7"/>
<circle cx="392.09" cy="430.35" r="3.42" fill="#3c35d8"/>
<circle cx="392.09" cy="425.11" r="3.42" fill="#3c35da"/>
<circle cx="392.09" cy="419.87" r="3.42" fill="#3c36db"/>
<circle cx="392.09" cy="414.64" r="3.42" fill="#3d37dc"/>
<circle cx="392.09" cy="409.40" r="3.42" fill="#3d37dd"/>
<circle cx="392.09" cy="404.16" r="3.42" fill="#3d37dd"/>
<circle cx="392.09" cy="398.93" r="3.42" fill="#3d38de"/>
<circle cx="392.09" cy="393.69" r="3.42" fill="#3d38de"/>
<circle cx="392.09" cy="388.45" r="3.42" fill="#3d38de"/>
<circle cx="392.09" cy="383.22" r="3.42" fill="#3d38de"/>
<circle cx="392.09" cy="377.98" r="3.42" fill="#3d37dd"/>
<circle cx="392.09" cy="372.75" r="3.42" fill="#3d37dd"/>
<circle cx="392.09" cy="367.51" r="3.42" fill="#3d37dd"/>
<circle cx="392.09" cy="362.27" r="3.42" fill="#3d37dc"/>
<circle cx="392.09" cy="357.04" r="3.42" fill="#3c36db"/>
<circle cx="392.09" cy="351.80" r="3.42" fill="#3c36da"/>
<circle cx="392.09" cy="346.56" r="3.42" fill="#3c35d9"/>
<circle cx="392.09" cy="341.33" r="3.42" fill="#3c35d8"/>
<circle cx="392.09" cy="336.09" r="3.42" fill="#3c34d7"/>
<circle cx="392.09" cy="330.85" r="3.42" fill="#3b34d6"/>
<circle cx="392.09" cy="325.62" r="3.42" fill="#3b33d5"/>
<circle cx="392.09" cy="320.38" r="3.42" fill="#3b32d4"/>
<circle cx="392.09" cy="315.15" r="3.42" fill="#3b32d3"/>
<circle cx="392.09" cy="309.91" r="3.42" fill="#3a31d2"/>
<circle cx="392.09" cy="304.67" r="3.42" fill="#3a31d1"/>
<circle cx="392.09" cy="299.44" r="3.42" fill="#3a30d0"/>
<circle cx="392.09" cy="294.20" r="3.42" fill="#3a2fcf"/>
<circle cx="392.09" cy="288.96" r="3.42" fill="#392fcd"/>
<circle cx="392.09" cy="283.73" r="3.42" fill="#392ecc"/>
<circle cx="392.09" cy="278.49" r="3.42" fill="#392ecb"/>
<circle cx="392.09" cy="273.25" r="3.42" fill="#382dca"/>
<circle cx="392.09" cy="268.02" r="3.42" fill="#382dc9"/>
<circle cx="398.06" cy="461.76" r="3.42" fill="#382dc9"/>
<circle cx="398.06" cy="456.53" r="3.42" fill="#392ecc"/>
<circle cx="398.06" cy="451.29" r="3.42" fill="#392fce"/>
<circle cx="398.06" cy="446.05" r="3.42" fill="#3a31d0"/>
<circle cx="398.06" cy="440.82" r="3.42" fill="#3a32d3"/>
<circle cx="398.06" cy="435.58" r="3.42" fill="#3b33d4"/>
<circle cx="398.06" cy="430.35" r="3.42" fill="#3b34d6"/>
<circle cx="398.06" cy="425.11" r="3.42" fill="#3c34d8"/>
<circle cx="398.06" cy="419.87" r="3.42" fill="#3c35d9"/>
<circle cx="398.06" cy="414.64" r="3.42" fill="#3c36da"/>
<circle cx="398.06" cy="409.40" r="3.42" fill="#3c36db"/>
<circle cx="398.06" cy="404.16" r="3.42" fill="#3d36dc"/>
<circle cx="398.06" cy="398.93" r="3.42" fill="#3d37dc"/>
<circle cx="398.06" cy="393.69" r="3.42" fill="#3d37dd"/>
<circle cx="398.06" cy="388.45" r="3.42" fill="#3d37dd"/>
<circle cx="398.06" cy="383.22" r="3.42" fill="#3d37dd"/>
<circle cx="398.06" cy="377.98" r="3.42" fill="#3d37dd"/>
<circle cx="398.06" cy="372.75" r="3.42" fill="#3d37dc"/>
<circle cx="398.06" cy="367.51" r="3.42" fill="#3d37dc"/>
<circle cx="398.06" cy="362.27" r="3.42" fill="#3d36db"/>
<circle cx="398.06" cy="357.04" r="3.42" fill="#3c36db"/>
<circle cx="398.06" cy="351.80" r="3.42" fill="#3c36da"/>
<circle cx="398.06" cy="346.56" r="3.42" fill="#3c35d9"/>
<circle cx="398.06" cy="341.33" r="3.42" fill="#3c35d8"/>
<circle cx="398.06" cy="336.09" r="3.42" fill="#3c34d7"/>
<circle cx="398.06" cy="330.85" r="3.42" fill="#3b34d6"/>
<circle cx="398.06" cy="325.62" r="3.42" fill="#3b33d5"/>
<circle cx="398.06" cy="320.38" r="3.42" fill="#3b33d4"/>
<circle cx="398.06" cy="315.15" r="3.42" fill="#3b32d3"/>
<circle cx="398.06" cy="309.91" r="3.42" fill="#3a32d2"/>
<circle cx="398.06" cy="304.67" r="3.42" fill="#3a31d1"/>
<circle cx="398.06" cy="299.44" r="3.42" fill="#3a30d0"/>
<circle cx="398.06" cy="294.20" r="3.42" fill="#3a30cf"/>
<circle cx="398.06" cy="288.96" r="3.42" fill="#392fce"/>
<circle cx="398.06" cy="283.73" r="3.42" fill="#392fcd"/>
<circle cx="398.06" cy="278.49" r="3.42" fill="#392ecc"/>
<circle cx="398.06" cy="273.25" r="3.42" fill="#392ecb"/>
<circle cx="398.06" cy="268.02" r="3.42" fill="#382dca"/>
<circle cx="398.06" cy="262.78" r="3.42" fill="#382cc9"/>
<circle cx="404.03" cy="456.53" r="3.42" fill="#382dca"/>
<circle cx="404.03" cy="451.29" r="3.42" fill="#392ecc"/>
<circle cx="404.03" cy="446.05" r="3.42" fill="#392fce"/>
<circle cx="404.03" cy="440.82" r="3.42" fill="#3a30d0"/>
<circle cx="404.03" cy="435.58" r="3.42" fill="#3a32d2"/>
<circle cx="404.03" cy="430.35" r="3.42" fill="#3b32d4"/>
<circle cx="404.03" cy="425.11" r="3.42" fill="#3b33d6"/>
<circle cx="404.03" cy="419.87" r="3.42" fill="#3c34d7"/>
<circle cx="404.03" cy="414.64" r="3.42" fill="#3c35d8"/>
<circle cx="404.03" cy="409.40" r="3.42" fill="#3c35d9"/>
<circle cx="404.03" cy="404.16" r="3.42" fill="#3c36da"/>
<circle cx="404.03" cy="398.93" r="3.42" fill="#3c36db"/>
<circle cx="404.03" cy="393.69" r="3.42" fill="#3c36db"/>
<circle cx="404.03" cy="388.45" r="3.42" fill="#3d36db"/>
<circle cx="404.03" cy="383.22" r="3.42" fill="#3d36dc"/>
<circle cx="404.03" cy="377.98" r="3.42" fill="#3d36dc"/>
<circle cx="404.03" cy="372.75" r="3.42" fill="#3d36db"/>
<circle cx="404.03" cy="367.51" r="3.42" fill="#3c36db"/>
<circle cx="404.03" cy="362.27" r="3.42" fill="#3c36db"/>
<circle cx="404.03" cy="357.04" r="3.42" fill="#3c36da"/>
<circle cx="404.03" cy="351.80" r="3.42" fill="#3c35da"/>
<circle cx="404.03" cy="346.56" r="3.42" fill="#3c35d9"/>
<circle cx="404.03" cy="341.33" r="3.42" fill="#3c35d8"/>
<circle cx="404.03" cy="336.09" r="3.42" fill="#3c34d7"/>
<circle cx="404.03" cy="330.85" r="3.42" fill="#3b34d7"/>
<circle cx="404.03" cy="325.62" r="3.42" fill="#3b33d6"/>
<circle cx="404.03" cy="320.38" r="3.42" fill="#3b33d5"/>
<circle cx="404.03" cy="315.15" r="3.42" fill="#3b32d4"/>
<circle cx="404.03" cy="309.91" r="3.42" fill="#3a32d3"/>
<circle cx="404.03" cy="304.67" r="3.42" fill="#3a31d2"/>
<circle cx="404.03" cy="299.44" r="3.42" fill="#3a31d1"/>
<circle cx="404.03" cy="294.20" r="3.42" fill="#3a30d0"/>
<circle cx="404.03" cy="288.96" r="3.42" fill="#3a30cf"/>
<circle cx="404.03" cy="283.73" r="3.42" fill="#392fce"/>
<circle cx="404.03" cy="278.49" r="3.42" fill="#392ecd"/>
<circle cx="404.03" cy="273.25" r="3.42" fill="#392ecc"/>
<circle cx="404.03" cy="268.02" r="3.42" fill="#392dcb"/>
<circle cx="404.03" cy="262.78" r="3.42" fill="#382dca"/>
<circle cx="410.00" cy="451.29" r="3.42" fill="#382dca"/>
<circle cx="410.00" cy="446.05" r="3.42" fill="#392ecc"/>
<circle cx="410.00" cy="440.82" r="3.42" fill="#392fce"/>
<circle cx="410.00" cy="435.58" r="3.42" fill="#3a30d0"/>
<circle cx="410.00" cy="430.35" r="3.42" fill="#3a31d2"/>
<circle cx="410.00" cy="425.11" r="3.42" fill="#3b32d4"/>
<circle cx="410.00" cy="419.87" r="3.42" fill="#3b33d5"/>
<circle cx="410.00" cy="414.64" r="3.42" fill="#3b34d6"/>
<circle cx="410.00" cy="409.40" r="3.42" fill="#3c34d7"/>
<circle cx="410.00" cy="404.16" r="3.42" fill="#3c35d8"/>
<circle cx="410.00" cy="398.93" r="3.42" fill="#3c35d9"/>
<circle cx="410.00" cy="393.69" r="3.42" fill="#3c35da"/>
<circle cx="410.00" cy="388.45" r="3.42" fill="#3c36da"/>
<circle cx="410.00" cy="383.22" r="3.42" fill="#3c36da"/>
<circle cx="410.00" cy="377.98" r="3.42" fill="#3c36da"/>
<circle cx="410.00" cy="372.75" r="3.42" fill="#3c36da"/>
<circle cx="410.00" cy="367.51" r="3.42" fill="#3c36da"/>
<circle cx="410.00" cy="362.27" r="3.42" fill="#3c36da"/>
<circle cx="410.00" cy="357.04" r="3.42" fill="#3c35da"/>
<circle cx="410.00" cy="351.80" r="3.42" fill="#3c35d9"/>
<circle cx="410.00" cy="346.56" r="3.42" fill="#3c35d9"/>
<circle cx="410.00" cy="341.33" r="3.42" fill="#3c34d8"/>
<circle cx="410.00" cy="336.09" r="3.42" fill="#3c34d7"/>
<circle cx="410.00" cy="330.85" r="3.42" fill="#3b34d6"/>
<circle cx="410.00" cy="325.62" r="3.42" fill="#3b33d6"/>
<circle cx="410.00" cy="320.38" r="3.42" fill="#3b33d5"/>
<circle cx="410.00" cy="315.15" r="3.42" fill="#3b32d4"/>
<circle cx="410.00" cy="309.91" r="3.42" fill="#3b32d3"/>
<circle cx="410.00" cy="304.67" r="3.42" fill="#3a31d2"/>
<circle cx="410.00" cy="299.44" r="3.42" fill="#3a31d1"/>
<circle cx="410.00" cy="294.20" r="3.42" fill="#3a30d0"/>
<circle cx="410.00" cy="288.96" r="3.42" fill="#3a30cf"/>
<circle cx="410.00" cy="283.73" r="3.42" fill="#392fce"/>
<circle cx="410.00" cy="278.49" r="3.42" fill="#392fcd"/>
<circle cx="410.00" cy="273.25" r="3.42" fill="#392ecc"/>
<circle cx="410.00" cy="268.02" r="3.42" fill="#392ecb"/>
<circle cx="410.00" cy="262.78" r="3.42" fill="#392dca"/>
<circle cx="410.00" cy="257.55" r="3.42" fill="#382dc9"/>
<circle cx="415.97" cy="446.05" r="3.42" fill="#392dca"/>
<circle cx="415.97" cy="440.82" r="3.42" fill="#392ecc"/>
<circle cx="415.97" cy="435.58" r="3.42" fill="#392fce"/>
<circle cx="415.97" cy="430.35" r="3.42" fill="#3a30d0"/>
<circle cx="415.97" cy="425.11" r="3.42" fill="#3a31d2"/>
<circle cx="415.97" cy="419.87" r="3.42" fill="#3b32d3"/>
<circle cx="415.97" cy="414.64" r="3.42" fill="#3b33d5"/>
<circle cx="415.97" cy="409.40" r="3.42" fill="#3b33d6"/>
<circle cx="415.97" cy="404.16" r="3.42" fill="#3b34d7"/>
<circle cx="415.97" cy="398.93" r="3.42" fill="#3c34d8"/>
<circle cx="415.97" cy="393.69" r="3.42" fill="#3c35d8"/>
<circle cx="415.97" cy="388.45" r="3.42" fill="#3c35d9"/>
<circle cx="415.97" cy="383.22" r="3.42" fill="#3c35d9"/>
<circle cx="415.97" cy="377.98" r="3.42" fill="#3c35d9"/>
<circle cx="415.97" cy="372.75" r="3.42" fill="#3c35d9"/>
<circle cx="415.97" cy="367.51" r="3.42" fill="#3c35d9"/>
<circle cx="415.97" cy="362.27" r="3.42" fill="#3c35d9"/>
<circle cx="415.97" cy="357.04" r="3.42" fill="#3c35d9"/>
<circle cx="415.97" cy="351.80" r="3.42" fill="#3c35d9"/>
<circle cx="415.97" cy="346.56" r="3.42" fill="#3c35d8"/>
<circle cx="415.97" cy="341.33" r="3.42" fill="#3c34d8"/>
<circle cx="415.97" cy="336.09" r="3.42" fill="#3b34d7"/>
<circle cx="415.97" cy="330.85" r="3.42" fill="#3b34d6"/>
<circle cx="415.97" cy="325.62" r="3.42" fill="#3b33d6"/>
<circle cx="415.97" cy="320.38" r="3.42" fill="#3b33d5"/>
<circle cx="415.97" cy="315.15" r="3.42" fill="#3b32d4"/>
<circle cx="415.97" cy="309.91" r="3.42" fill="#3b32d3"/>
<circle cx="415.97" cy="304.67" r="3.42" fill="#3a31d2"/>
<circle cx="415.97" cy="299.44" r="3.42" fill="#3a31d1"/>
<circle cx="415.97" cy="294.20" r="3.42" fill="#3a30d0"/>
<circle cx="415.97" cy="288.96" r="3.42" fill="#3a30cf"/>
<circle cx="415.97" cy="283.73" r="3.42" fill="#3a2fcf"/>
<circle cx="415.97" cy="278.49" r="3.42" fill="#392fce"/>
<circle cx="415.97" cy="273.25" r="3.42" fill="#392ecd"/>
<circle cx="415.97" cy="268.02" r="3.42" fill="#392ecc"/>
<circle cx="415.97" cy="262.78" r="3.42" fill="#392dcb"/>
<circle cx="415.97" cy="257.55" r="3.42" fill="#382dca"/>
<circle cx="415.97" cy="252.31" r="3.42" fill="#382dc9"/>
<circle cx="421.94" cy="440.82" r="3.42" fill="#392dcb"/>
<circle cx="421.94" cy="435.58" r="3.42" fill="#392ecc"/>
<circle cx="421.94" cy="430.35" r="3.42" fill="#392fce"/>
<circle cx="421.94" cy="425.11" r="3.42" fill="#3a30d0"/>
<circle cx="421.94" cy="419.87" r="3.42" fill="#3a31d1"/>
<circle cx="421.94" cy="414.64" r="3.42" fill="#3b32d3"/>
<circle cx="421.94" cy="409.40" r="3.42" fill="#3b32d4"/>
<circle cx="421.94" cy="404.16" r="3.42" fill="#3b33d5"/>
<circle cx="421.94" cy="398.93" r="3.42" fill="#3b33d6"/>
<circle cx="421.94" cy="393.69" r="3.42" fill="#3b34d7"/>
<circle cx="421.94" cy="388.45" r="3.42" fill="#3c34d7"/>
<circle cx="421.94" cy="383.22" r="3.42" fill="#3c34d8"/>
<circle cx="421.94" cy="377.98" r="3.42" fill="#3c35d8"/>
<circle cx="421.94" cy="372.75" r="3.42" fill="#3c35d8"/>
<circle cx="421.94" cy="367.51" r="3.42" fill="#3c35d8"/>
<circle cx="421.94" cy="362.27" r="3.42" fill="#3c35d8"/>
<circle cx="421.94" cy="357.04" r="3.42" fill="#3c35d8"/>
<circle cx="421.94" cy="351.80" r="3.42" fill="#3c34d8"/>
<circle cx="421.94" cy="346.56" r="3.42" fill="#3c34d8"/>
<circle cx="421.94" cy="341.33" r="3.42" fill="#3c34d7"/>
<circle cx="421.94" cy="336.09" r="3.42" fill="#3b34d7"/>
<circle cx="421.94" cy="330.85" r="3.42" fill="#3b33d6"/>
<circle cx="421.94" cy="325.62" r="3.42" fill="#3b33d5"/>
<circle cx="421.94" cy="320.38" r="3.42" fill="#3b33d5"/>
<circle cx="421.94" cy="315.15" r="3.42" fill="#3b32d4"/>
<circle cx="421.94" cy="309.91" r="3.42" fill="#3b32d3"/>
<circle cx="421.94" cy="304.67" r="3.42" fill="#3a32d2"/>
<circle cx="421.94" cy="299.44" r="3.42" fill="#3a31d2"/>
<circle cx="421.94" cy="294.20" r="3.42" fill="#3a31d1"/>
<circle cx="421.94" cy="288.96" r="3.42" fill="#3a30d0"/>
<circle cx="421.94" cy="283.73" r="3.42" fill="#3a30cf"/>
<circle cx="421.94" cy="278.49" r="3.42" fill="#392fce"/>
<circle cx="421.94" cy="273.25" r="3.42" fill="#392fcd"/>
<circle cx="421.94" cy="268.02" r="3.42" fill="#392ecc"/>
<circle cx="421.94" cy="262.78" r="3.42" fill="#392ecb"/>
<circle cx="421.94" cy="257.55" r="3.42" fill="#392dca"/>
<circle cx="421.94" cy="252.31" r="3.42" fill="#382dca"/>
<circle cx="421.94" cy="247.07" r="3.42" fill="#382cc9"/>
<circle cx="427.91" cy="440.82" r="3.42" fill="#382cc9"/>
<circle cx="427.91" cy="435.58" r="3.42" fill="#392dcb"/>
<circle cx="427.91" cy="430.35" r="3.42" fill="#392ecc"/>
<circle cx="427.91" cy="425.11" r="3.42" fill="#392fce"/>
<circle cx="427.91" cy="419.87" r="3.42" fill="#3a30d0"/>
<circle cx="427.91" cy="414.64" r="3.42" fill="#3a31d1"/>
<circle cx="427.91" cy="409.40" r="3.42" fill="#3a32d2"/>
<circle cx="427.91" cy="404.16" r="3.42" fill="#3b32d3"/>
<circle cx="427.91" cy="398.93" r="3.42" fill="#3b33d4"/>
<circle cx="427.91" cy="393.69" r="3.42" fill="#3b33d5"/>
<circle cx="427.91" cy="388.45" r="3.42" fill="#3b33d6"/>
<circle cx="427.91" cy="383.22" r="3.42" fill="#3b34d7"/>
<circle cx="427.91" cy="377.98" r="3.42" fill="#3b34d7"/>
<circle cx="427.91" cy="372.75" r="3.42" fill="#3c34d7"/>
<circle cx="427.91" cy="367.51" r="3.42" fill="#3c34d7"/>
<circle cx="427.91" cy="362.27" r="3.42" fill="#3c34d7"/>
<circle cx="427.91" cy="357.04" r="3.42" fill="#3c34d7"/>
<circle cx="427.91" cy="351.80" r="3.42" fill="#3c34d7"/>
<circle cx="427.91" cy="346.56" r="3.42" fill="#3b34d7"/>
<circle cx="427.91" cy="341.33" r="3.42" fill="#3b34d7"/>
<circle cx="427.91" cy="336.09" r="3.42" fill="#3b34d6"/>
<circle cx="427.91" cy="330.85" r="3.42" fill="#3b33d6"/>
<circle cx="427.91" cy="325.62" r="3.42" fill="#3b33d5"/>
<circle cx="427.91" cy="320.38" r="3.42" fill="#3b33d5"/>
<circle cx="427.91" cy="315.15" r="3.42" fill="#3b32d4"/>
<circle cx="427.91" cy="309.91" r="3.42" fill="#3b32d3"/>
<circle cx="427.91" cy="304.67" r="3.42" fill="#3a32d2"/>
<circle cx="427.91" cy="299.44" r="3.42" fill="#3a31d2"/>
<circle cx="427.91" cy="294.20" r="3.42" fill="#3a31d1"/>
<circle cx="427.91" cy="288.96" r="3.42" fill="#3a30d0"/>
<circle cx="427.91" cy="283.73" r="3.42" fill="#3a30cf"/>
<circle cx="427.91" cy="278.49" r="3.42" fill="#392fce"/>
<circle cx="427.91" cy="273.25" r="3.42" fill="#392fcd"/>
<circle cx="427.91" cy="268.02" r="3.42" fill="#392ecd"/>
<circle cx="427.91" cy="262.78" r="3.42" fill="#392ecc"/>
<circle cx="427.91" cy="257.55" r="3.42" fill="#392ecb"/>
<circle cx="427.91" cy="252.31" r="3.42" fill="#382dca"/>
<circle cx="427.91" cy="247.07" r="3.42" fill="#382dc9"/>
<circle cx="433.88" cy="435.58" r="3.42" fill="#382cc9"/>
<circle cx="433.88" cy="430.35" r="3.42" fill="#392dcb"/>
<circle cx="433.88" cy="425.11" r="3.42" fill="#392ecc"/>
<circle cx="433.88" cy="419.87" r="3.42" fill="#392fce"/>
<circle cx="433.88" cy="414.64" r="3.42" fill="#3a30cf"/>
<circle cx="433.88" cy="409.40" r="3.42" fill="#3a31d1"/>
<circle cx="433.88" cy="404.16" r="3.42" fill="#3a31d2"/>
<circle cx="433.88" cy="398.93" r="3.42" fill="#3b32d3"/>
<circle cx="433.88" cy="393.69" r="3.42" fill="#3b32d4"/>
<circle cx="433.88" cy="388.45" r="3.42" fill="#3b33d5"/>
<circle cx="433.88" cy="383.22" r="3.42" fill="#3b33d5"/>
<circle cx="433.88" cy="377.98" r="3.42" fill="#3b33d6"/>
<circle cx="433.88" cy="372.75" r="3.42" fill="#3b34d6"/>
<circle cx="433.88" cy="367.51" r="3.42" fill="#3b34d6"/>
<circle cx="433.88" cy="362.27" r="3.42" fill="#3b34d6"/>
<circle cx="433.88" cy="357.04" r="3.42" fill="#3b34d7"/>
<circle cx="433.88" cy="351.80" r="3.42" fill="#3b34d6"/>
<circle cx="433.88" cy="346.56" r="3.42" fill="#3b34d6"/>
<circle cx="433.88" cy="341.33" r="3.42" fill="#3b33d6"/>
<circle cx="433.88" cy="336.09" r="3.42" fill="#3b33d6"/>
<circle cx="433.88" cy="330.85" r="3.42" fill="#3b33d5"/>
<circle cx="433.88" cy="325.62" r="3.42" fill="#3b33d5"/>
<circle cx="433.88" cy="320.38" r="3.42" fill="#3b33d4"/>
<circle cx="433.88" cy="315.15" r="3.42" fill="#3b32d4"/>
<circle cx="433.88" cy="309.91" r="3.42" fill="#3b32d3"/>
<circle cx="433.88" cy="304.67" r="3.42" fill="#3a32d2"/>
<circle cx="433.88" cy="299.44" r="3.42" fill="#3a31d2"/>
<circle cx="433.88" cy="294.20" r="3.42" fill="#3a31d1"/>
<circle cx="433.88" cy="288.96" r="3.42" fill="#3a30d0"/>
<circle cx="433.88" cy="283.73" r="3.42" fill="#3a30cf"/>
<circle cx="433.88" cy="278.49" r="3.42" fill="#3a30cf"/>
<circle cx="433.88" cy="273.25" r="3.42" fill="#392fce"/>
<circle cx="433.88" cy="268.02" r="3.42" fill="#392fcd"/>
<circle cx="433.88" cy="262.78" r="3.42" fill="#392ecc"/>
<circle cx="433.88" cy="257.55" r="3.42" fill="#392ecb"/>
<circle cx="433.88" cy="252.31" r="3.42" fill="#392dcb"/>
<circle cx="433.88" cy="247.07" r="3.42" fill="#382dca"/>
<circle cx="433.88" cy="241.84" r="3.42" fill="#382cc9"/>
<circle cx="439.85" cy="430.35" r="3.42" fill="#382dc9"/>
<circle cx="439.85" cy="425.11" r="3.42" fill="#392dcb"/>
<circle cx="439.85" cy="419.87" r="3.42" fill="#392ecc"/>
<circle cx="439.85" cy="414.64" r="3.42" fill="#392fce"/>
<circle cx="439.85" cy="409.40" r="3.42" fill="#3a30cf"/>
<circle cx="439.85" cy="404.16" r="3.42" fill="#3a30d0"/>
<circle cx="439.85" cy="398.93" r="3.42" fill="#3a31d1"/>
<circle cx="439.85" cy="393.69" r="3.42" fill="#3a32d2"/>
<circle cx="439.85" cy="388.45" r="3.42" fill="#3b32d3"/>
<circle cx="439.85" cy="383.22" r="3.42" fill="#3b32d4"/>
<circle cx="439.85" cy="377.98" r="3.42" fill="#3b33d4"/>
<circle cx="439.85" cy="372.75" r="3.42" fill="#3b33d5"/>
<circle cx="439.85" cy="367.51" r="3.42" fill="#3b33d5"/>
<circle cx="439.85" cy="362.27" r="3.42" fill="#3b33d5"/>
<circle cx="439.85" cy="357.04" r="3.42" fill="#3b33d6"/>
<circle cx="439.85" cy="351.80" r="3.42" fill="#3b33d6"/>
<circle cx="439.85" cy="346.56" r="3.42" fill="#3b33d6"/>
<circle cx="439.85" cy="341.33" r="3.42" fill="#3b33d5"/>
<circle cx="439.85" cy="336.09" r="3.42" fill="#3b33d5"/>
<circle cx="439.85" cy="330.85" r="3.42" fill="#3b33d5"/>
<circle cx="439.85" cy="325.62" r="3.42" fill="#3b33d4"/>
<circle cx="439.85" cy="320.38" r="3.42" fill="#3b32d4"/>
<circle cx="439.85" cy="315.15" r="3.42" fill="#3b32d3"/>
<circle cx="439.85" cy="309.91" r="3.42" fill="#3b32d3"/>
<circle cx="439.85" cy="304.67" r="3.42" fill="#3a31d2"/>
<circle cx="439.85" cy="299.44" r="3.42" fill="#3a31d2"/>
<circle cx="439.85" cy="294.20" r="3.42" fill="#3a31d1"/>
<circle cx="439.85" cy="288.96" r="3.42" fill="#3a30d0"/>
<circle cx="439.85" cy="283.73" r="3.42" fill="#3a30d0"/>
<circle cx="439.85" cy="278.49" r="3.42" fill="#3a30cf"/>
<circle cx="439.85" cy="273.25" r="3.42" fill="#392fce"/>
<circle cx="439.85" cy="268.02" r="3.42" fill="#392fcd"/>
<circle cx="439.85" cy="262.78" r="3.42" fill="#392ecc"/>
<circle cx="439.85" cy="257.55" r="3.42" fill="#392ecc"/>
<circle cx="439.85" cy="252.31" r="3.42" fill="#392ecb"/>
<circle cx="439.85" cy="247.07" r="3.42" fill="#382dca"/>
<circle cx="439.85" cy="241.84" r="3.42" fill="#382dc9"/>
<circle cx="445.81" cy="425.11" r="3.42" fill="#382dc9"/>
<circle cx="445.81" cy="419.87" r="3.42" fill="#392dcb"/>
<circle cx="445.81" cy="414.64" r="3.42" fill="#392ecc"/>
<circle cx="445.81" cy="409.40" r="3.42" fill="#392fcd"/>
<circle cx="445.81" cy="404.16" r="3.42" fill="#3a30cf"/>
<circle cx="445.81" cy="398.93" r="3.42" fill="#3a30d0"/>
<circle cx="445.81" cy="393.69" r="3.42" fill="#3a31d1"/>
<circle cx="445.81" cy="388.45" r="3.42" fill="#3a31d2"/>
<circle cx="445.81" cy="383.22" r="3.42" fill="#3a32d3"/>
<circle cx="445.81" cy="377.98" r="3.42" fill="#3b32d3"/>
<circle cx="445.81" cy="372.75" r="3.42" fill="#3b32d4"/>
<circle cx="445.81" cy="367.51" r="3.42" fill="#3b32d4"/>
<circle cx="445.81" cy="362.27" r="3.42" fill="#3b33d4"/>
<circle cx="445.81" cy="357.04" r="3.42" fill="#3b33d5"/>
<circle cx="445.81" cy="351.80" r="3.42" fill="#3b33d5"/>
<circle cx="445.81" cy="346.56" r="3.42" fill="#3b33d5"/>
<circle cx="445.81" cy="341.33" r="3.42" fill="#3b33d5"/>
<circle cx="445.81" cy="336.09" r="3.42" fill="#3b33d5"/>
<circle cx="445.81" cy="330.85" r="3.42" fill="#3b33d4"/>
<circle cx="445.81" cy="325.62" r="3.42" fill="#3b32d4"/>
<circle cx="445.81" cy="320.38" r="3.42" fill="#3b32d4"/>
<circle cx="445.81" cy="315.15" r="3.42" fill="#3b32d3"/>
<circle cx="445.81" cy="309.91" r="3.42" fill="#3a32d3"/>
<circle cx="445.81" cy="304.67" r="3.42" fill="#3a31d2"/>
<circle cx="445.81" cy="299.44" r="3.42" fill="#3a31d2"/>
<circle cx="445.81" cy="294.20" r="3.42" fill="#3a31d1"/>
<circle cx="445.81" cy="288.96" r="3.42" fill="#3a30d0"/>
<circle cx="445.81" cy="283.73" r="3.42" fill="#3a30d0"/>
<circle cx="445.81" cy="278.49" r="3.42" fill="#3a30cf"/>
<circle cx="445.81" cy="273.25" r="3.42" fill="#392fce"/>
<circle cx="445.81" cy="268.02" r="3.42" fill="#392fcd"/>
<circle cx="445.81" cy="262.78" r="3.42" fill="#392fcd"/>
<circle cx="445.81" cy="257.55" r="3.42" fill="#392ecc"/>
<circle cx="445.81" cy="252.31" r="3.42" fill="#392ecb"/>
<circle cx="445.81" cy="247.07" r="3.42" fill="#392dcb"/>
<circle cx="445.81" cy="241.84" r="3.42" fill="#382dca"/>
<circle cx="445.81" cy="236.60" r="3.42" fill="#382dc9"/>
<circle cx="451.78" cy="419.87" r="3.42" fill="#382dc9"/>
<circle cx="451.78" cy="414.64" r="3.42" fill="#392dcb"/>
<circle cx="451.78" cy="409.40" r="3.42" fill="#392ecc"/>
<circle cx="451.78" cy="404.16" r="3.42" fill="#392fcd"/>
<circle cx="451.78" cy="398.93" r="3.42" fill="#392fce"/>
<circle cx="451.78" cy="393.69" r="3.42" fill="#3a30cf"/>
<circle cx="451.78" cy="388.45" r="3.42" fill="#3a30d0"/>
<circle cx="451.78" cy="383.22" r="3.42" fill="#3a31d1"/>
<circle cx="451.78" cy="377.98" r="3.42" fill="#3a31d2"/>
<circle cx="451.78" cy="372.75" r="3.42" fill="#3a32d3"/>
<circle cx="451.78" cy="367.51" r="3.42" fill="#3b32d3"/>
<circle cx="451.78" cy="362.27" r="3.42" fill="#3b32d3"/>
<circle cx="451.78" cy="357.04" r="3.42" fill="#3b32d4"/>
<circle cx="451.78" cy="351.80" r="3.42" fill="#3b32d4"/>
<circle cx="451.78" cy="346.56" r="3.42" fill="#3b32d4"/>
<circle cx="451.78" cy="341.33" r="3.42" fill="#3b32d4"/>
<circle cx="451.78" cy="336.09" r="3.42" fill="#3b32d4"/>
<circle cx="451.78" cy="330.85" r="3.42" fill="#3b32d4"/>
<circle cx="451.78" cy="325.62" r="3.42" fill="#3b32d3"/>
<circle cx="451.78" cy="320.38" r="3.42" fill="#3b32d3"/>
<circle cx="451.78" cy="315.15" r="3.42" fill="#3b32d3"/>
<circle cx="451.78" cy="309.91" r="3.42" fill="#3a32d2"/>
<circle cx="451.78" cy="304.67" r="3.42" fill="#3a31d2"/>
<circle cx="451.78" cy="299.44" r="3.42" fill="#3a31d1"/>
<circle cx="451.78" cy="294.20" r="3.42" fill="#3a31d1"/>
<circle cx="451.78" cy="288.96" r="3.42" fill="#3a30d0"/>
<circle cx="451.78" cy="283.73" r="3.42" fill="#3a30d0"/>
<circle cx="451.78" cy="278.49" r="3.42" fill="#3a30cf"/>
<circle cx="451.78" cy="273.25" r="3.42" fill="#392fce"/>
<circle cx="451.78" cy="268.02" r="3.42" fill="#392fce"/>
<circle cx="451.78" cy="262.78" r="3.42" fill="#392fcd"/>
<circle cx="451.78" cy="257.55" r="3.42" fill="#392ecc"/>
<circle cx="451.78" cy="252.31" r="3.42" fill="#392ecc"/>
<circle cx="451.78" cy="247.07" r="3.42" fill="#392ecb"/>
<circle cx="451.78" cy="241.84" r="3.42" fill="#382dca"/>
<circle cx="451.78" cy="236.60" r="3.42" fill="#382dc9"/>
<circle cx="457.75" cy="414.64" r="3.42" fill="#382dc9"/>
<circle cx="457.75" cy="409.40" r="3.42" fill="#392dcb"/>
<circle cx="457.75" cy="404.16" r="3.42" fill="#392ecc"/>
<circle cx="457.75" cy="398.93" r="3.42" fill="#392fcd"/>
<circle cx="457.75" cy="393.69" r="3.42" fill="#392fce"/>
<circle cx="457.75" cy="388.45" r="3.42" fill="#3a30cf"/>
<circle cx="457.75" cy="383.22" r="3.42" fill="#3a30d0"/>
<circle cx="457.75" cy="377.98" r="3.42" fill="#3a31d1"/>
<circle cx="457.75" cy="372.75" r="3.42" fill="#3a31d1"/>
<circle cx="457.75" cy="367.51" r="3.42" fill="#3a31d2"/>
<circle cx="457.75" cy="362.27" r="3.42" fill="#3a32d2"/>
<circle cx="457.75" cy="357.04" r="3.42" fill="#3a32d3"/>
<circle cx="457.75" cy="351.80" r="3.42" fill="#3b32d3"/>
<circle cx="457.75" cy="346.56" r="3.42" fill="#3b32d3"/>
<circle cx="457.75" cy="341.33" r="3.42" fill="#3b32d3"/>
<circle cx="457.75" cy="336.09" r="3.42" fill="#3b32d3"/>
<circle cx="457.75" cy="330.85" r="3.42" fill="#3b32d3"/>
<circle cx="457.75" cy="325.62" r="3.42" fill="#3b32d3"/>
<circle cx="457.75" cy="320.38" r="3.42" fill="#3a32d3"/>
<circle cx="457.75" cy="315.15" r="3.42" fill="#3a32d2"/>
<circle cx="457.75" cy="309.91" r="3.42" fill="#3a31d2"/>
<circle cx="457.75" cy="304.67" r="3.42" fill="#3a31d2"/>
<circle cx="457.75" cy="299.44" r="3.42" fill="#3a31d1"/>
<circle cx="457.75" cy="294.20" r="3.42" fill="#3a31d1"/>
<circle cx="457.75" cy="288.96" r="3.42" fill="#3a30d0"/>
<circle cx="457.75" cy="283.73" r="3.42" fill="#3a30d0"/>
<circle cx="457.75" cy="278.49" r="3.42" fill="#3a30cf"/>
<circle cx="457.75" cy="273.25" r="3.42" fill="#392fce"/>
<circle cx="457.75" cy="268.02" r="3.42" fill="#392fce"/>
<circle cx="457.75" cy="262.78" r="3.42" fill="#392fcd"/>
<circle cx="457.75" cy="257.55" r="3.42" fill="#392ecc"/>
<circle cx="457.75" cy="252.31" r="3.42" fill="#392ecc"/>
<circle cx="457.75" cy="247.07" r="3.42" fill="#392ecb"/>
<circle cx="457.75" cy="241.84" r="3.42" fill="#392dca"/>
<circle cx="457.75" cy="236.60" r="3.42" fill="#382dca"/>
<circle cx="457.75" cy="231.36" r="3.42" fill="#382dc9"/>
<circle cx="463.72" cy="409.40" r="3.42" fill="#382dc9"/>
<circle cx="463.72" cy="404.16" r="3.42" fill="#392dca"/>
<circle cx="463.72" cy="398.93" r="3.42" fill="#392ecc"/>
<circle cx="463.72" cy="393.69" r="3.42" fill="#392fcd"/>
<circle cx="463.72" cy="388.45" r="3.42" fill="#392fce"/>
<circle cx="463.72" cy="383.22" r="3.42" fill="#3a30cf"/>
<circle cx="463.72" cy="377.98" r="3.42" fill="#3a30cf"/>
<circle cx="463.72" cy="372.75" r="3.42" fill="#3a30d0"/>
<circle cx="463.72" cy="367.51" r="3.42" fill="#3a31d1"/>
<circle cx="463.72" cy="362.27" r="3.42" fill="#3a31d1"/>
<circle cx="463.72" cy="357.04" r="3.42" fill="#3a31d2"/>
<circle cx="463.72" cy="351.80" r="3.42" fill="#3a31d2"/>
<circle cx="463.72" cy="346.56" r="3.42" fill="#3a31d2"/>
<circle cx="463.72" cy="341.33" r="3.42" fill="#3a32d2"/>
<circle cx="463.72" cy="336.09" r="3.42" fill="#3a32d2"/>
<circle cx="463.72" cy="330.85" r="3.42" fill="#3a32d2"/>
<circle cx="463.72" cy="325.62" r="3.42" fill="#3a31d2"/>
<circle cx="463.72" cy="320.38" r="3.42" fill="#3a31d2"/>
<circle cx="463.72" cy="315.15" r="3.42" fill="#3a31d2"/>
<circle cx="463.72" cy="309.91" r="3.42" fill="#3a31d2"/>
<circle cx="463.72" cy="304.67" r="3.42" fill="#3a31d1"/>
<circle cx="463.72" cy="299.44" r="3.42" fill="#3a31d1"/>
<circle cx="463.72" cy="294.20" r="3.42" fill="#3a31d0"/>
<circle cx="463.72" cy="288.96" r="3.42" fill="#3a30d0"/>
<circle cx="463.72" cy="283.73" r="3.42" fill="#3a30cf"/>
<circle cx="463.72" cy="278.49" r="3.42" fill="#3a30cf"/>
<circle cx="463.72" cy="273.25" r="3.42" fill="#392fce"/>
<circle cx="463.72" cy="268.02" r="3.42" fill="#392fce"/>
<circle cx="463.72" cy="262.78" r="3.42" fill="#392fcd"/>
<circle cx="463.72" cy="257.55" r="3.42" fill="#392ecd"/>
<circle cx="463.72" cy="252.31" r="3.42" fill="#392ecc"/>
<circle cx="463.72" cy="247.07" r="3.42" fill="#392ecb"/>
<circle cx="463.72" cy="241.84" r="3.42" fill="#392dcb"/>
<circle cx="463.72" cy="236.60" r="3.42" fill="#382dca"/>
<circle cx="463.72" cy="231.36" r="3.42" fill="#382dc9"/>
<circle cx="469.69" cy="404.16" r="3.42" fill="#382dc9"/>
<circle cx="469.69" cy="398.93" r="3.42" fill="#392dca"/>
<circle cx="469.69" cy="393.69" r="3.42" fill="#392ecb"/>
<circle cx="469.69" cy="388.45" r="3.42" fill="#392ecc"/>
<circle cx="469.69" cy="383.22" r="3.42" fill="#392fcd"/>
<circle cx="469.69" cy="377.98" r="3.42" fill="#392fce"/>
<circle cx="469.69" cy="372.75" r="3.42" fill="#3a30cf"/>
<circle cx="469.69" cy="367.51" r="3.42" fill="#3a30d0"/>
<circle cx="469.69" cy="362.27" r="3.42" fill="#3a30d0"/>
<circle cx="469.69" cy="357.04" r="3.42" fill="#3a31d1"/>
<circle cx="469.69" cy="351.80" r="3.42" fill="#3a31d1"/>
<circle cx="469.69" cy="346.56" r="3.42" fill="#3a31d1"/>
<circle cx="469.69" cy="341.33" r="3.42" fill="#3a31d2"/>
<circle cx="469.69" cy="336.09" r="3.42" fill="#3a31d2"/>
<circle cx="469.69" cy="330.85" r="3.42" fill="#3a31d2"/>
<circle cx="469.69" cy="325.62" r="3.42" fill="#3a31d2"/>
<circle cx="469.69" cy="320.38" r="3.42" fill="#3a31d2"/>
<circle cx="469.69" cy="315.15" r="3.42" fill="#3a31d1"/>
<circle cx="469.69" cy="309.91" r="3.42" fill="#3a31d1"/>
<circle cx="469.69" cy="304.67" r="3.42" fill="#3a31d1"/>
<circle cx="469.69" cy="299.44" r="3.42" fill="#3a31d1"/>
<circle cx="469.69" cy="294.20" r="3.42" fill="#3a30d0"/>
<circle cx="469.69" cy="288.96" r="3.42" fill="#3a30d0"/>
<circle cx="469.69" cy="283.73" r="3.42" fill="#3a30cf"/>
<circle cx="469.69" cy="278.49" r="3.42" fill="#3a30cf"/>
<circle cx="469.69" cy="273.25" r="3.42" fill="#392fce"/>
<circle cx="469.69" cy="268.02" r="3.42" fill="#392fce"/>
<circle cx="469.69" cy="262.78" r="3.42" fill="#392fcd"/>
<circle cx="469.69" cy="257.55" r="3.42" fill="#392ecd"/>
<circle cx="469.69" cy="252.31" r="3.42" fill="#392ecc"/>
<circle cx="469.69" cy="247.07" r="3.42" fill="#392ecb"/>
<circle cx="469.69" cy="241.84" r="3.42" fill="#392ecb"/>
<circle cx="469.69" cy="236.60" r="3.42" fill="#392dca"/>
<circle cx="469.69" cy="231.36" r="3.42" fill="#382dca"/>
<circle cx="469.69" cy="226.13" r="3.42" fill="#382cc9"/>
<circle cx="475.66" cy="398.93" r="3.42" fill="#382dc9"/>
<circle cx="475.66" cy="393.69" r="3.42" fill="#382dca"/>
<circle cx="475.66" cy="388.45" r="3.42" fill="#392ecb"/>
<circle cx="475.66" cy="383.22" r="3.42" fill="#392ecc"/>
<circle cx="475.66" cy="377.98" r="3.42" fill="#392fcd"/>
<circle cx="475.66" cy="372.75" r="3.42" fill="#392fce"/>
<circle cx="475.66" cy="367.51" r="3.42" fill="#3a2fcf"/>
<circle cx="475.66" cy="362.27" r="3.42" fill="#3a30cf"/>
<circle cx="475.66" cy="357.04" r="3.42" fill="#3a30d0"/>
<circle cx="475.66" cy="351.80" r="3.42" fill="#3a30d0"/>
<circle cx="475.66" cy="346.56" r="3.42" fill="#3a30d0"/>
<circle cx="475.66" cy="341.33" r="3.42" fill="#3a31d1"/>
<circle cx="475.66" cy="336.09" r="3.42" fill="#3a31d1"/>
<circle cx="475.66" cy="330.85" r="3.42" fill="#3a31d1"/>
<circle cx="475.66" cy="325.62" r="3.42" fill="#3a31d1"/>
<circle cx="475.66" cy="320.38" r="3.42" fill="#3a31d1"/>
<circle cx="475.66" cy="315.15" r="3.42" fill="#3a31d1"/>
<circle cx="475.66" cy="309.91" r="3.42" fill="#3a31d1"/>
<circle cx="475.66" cy="304.67" r="3.42" fill="#3a31d0"/>
<circle cx="475.66" cy="299.44" r="3.42" fill="#3a30d0"/>
<circle cx="475.66" cy="294.20" r="3.42" fill="#3a30d0"/>
<circle cx="475.66" cy="288.96" r="3.42" fill="#3a30d0"/>
<circle cx="475.66" cy="283.73" r="3.42" fill="#3a30cf"/>
<circle cx="475.66" cy="278.49" r="3.42" fill="#3a30cf"/>
<circle cx="475.66" cy="273.25" r="3.42" fill="#392fce"/>
<circle cx="475.66" cy="268.02" r="3.42" fill="#392fce"/>
<circle cx="475.66" cy="262.78" r="3.42" fill="#392fcd"/>
<circle cx="475.66" cy="257.55" r="3.42" fill="#392ecd"/>
<circle cx="475.66" cy="252.31" r="3.42" fill="#392ecc"/>
<circle cx="475.66" cy="247.07" r="3.42" fill="#392ecc"/>
<circle cx="475.66" cy="241.84" r="3.42" fill="#392ecb"/>
<circle cx="475.66" cy="236.60" r="3.42" fill="#392dca"/>
<circle cx="475.66" cy="231.36" r="3.42" fill="#382dca"/>
<circle cx="475.66" cy="226.13" r="3.42" fill="#382dc9"/>
<circle cx="481.63" cy="393.69" r="3.42" fill="#382cc9"/>
<circle cx="481.63" cy="388.45" r="3.42" fill="#382dca"/>
<circle cx="481.63" cy="383.22" r="3.42" fill="#392ecb"/>
<circle cx="481.63" cy="377.98" r="3.42" fill="#392ecc"/>
<circle cx="481.63" cy="372.75" r="3.42" fill="#392ecd"/>
<circle cx="481.63" cy="367.51" r="3.42" fill="#392fcd"/>
<circle cx="481.63" cy="362.27" r="3.42" fill="#392fce"/>
<circle cx="481.63" cy="357.04" r="3.42" fill="#3a30cf"/>
<circle cx="481.63" cy="351.80" r="3.42" fill="#3a30cf"/>
<circle cx="481.63" cy="346.56" r="3.42" fill="#3a30cf"/>
<circle cx="481.63" cy="341.33" r="3.42" fill="#3a30d0"/>
<circle cx="481.63" cy="336.09" r="3.42" fill="#3a30d0"/>
<circle cx="481.63" cy="330.85" r="3.42" fill="#3a30d0"/>
<circle cx="481.63" cy="325.62" r="3.42" fill="#3a30d0"/>
<circle cx="481.63" cy="320.38" r="3.42" fill="#3a30d0"/>
<circle cx="481.63" cy="315.15" r="3.42" fill="#3a30d0"/>
<circle cx="481.63" cy="309.91" r="3.42" fill="#3a30d0"/>
<circle cx="481.63" cy="304.67" r="3.42" fill="#3a30d0"/>
<circle cx="481.63" cy="299.44" r="3.42" fill="#3a30d0"/>
<circle cx="481.63" cy="294.20" r="3.42" fill="#3a30d0"/>
<circle cx="481.63" cy="288.96" r="3.42" fill="#3a30cf"/>
<circle cx="481.63" cy="283.73" r="3.42" fill="#3a30cf"/>
<circle cx="481.63" cy="278.49" r="3.42" fill="#3a2fce"/>
<circle cx="481.63" cy="273.25" r="3.42" fill="#392fce"/>
<circle cx="481.63" cy="268.02" r="3.42" fill="#392fce"/>
<circle cx="481.63" cy="262.78" r="3.42" fill="#392fcd"/>
<circle cx="481.63" cy="257.55" r="3.42" fill="#392ecd"/>
<circle cx="481.63" cy="252.31" r="3.42" fill="#392ecc"/>
<circle cx="481.63" cy="247.07" r="3.42" fill="#392ecc"/>
<circle cx="481.63" cy="241.84" r="3.42" fill="#392ecb"/>
<circle cx="481.63" cy="236.60" r="3.42" fill="#392dca"/>
<circle cx="481.63" cy="231.36" r="3.42" fill="#382dca"/>
<circle cx="481.63" cy="226.13" r="3.42" fill="#382dc9"/>
<circle cx="481.63" cy="220.89" r="3.42" fill="#382cc9"/>
<circle cx="487.60" cy="388.45" r="3.42" fill="#382cc9"/>
<circle cx="487.60" cy="383.22" r="3.42" fill="#382dca"/>
<circle cx="487.60" cy="377.98" r="3.42" fill="#392dcb"/>
<circle cx="487.60" cy="372.75" r="3.42" fill="#392ecc"/>
<circle cx="487.60" cy="367.51" r="3.42" fill="#392ecc"/>
<circle cx="487.60" cy="362.27" r="3.42" fill="#392fcd"/>
<circle cx="487.60" cy="357.04" r="3.42" fill="#392fce"/>
<circle cx="487.60" cy="351.80" r="3.42" fill="#392fce"/>
<circle cx="487.60" cy="346.56" r="3.42" fill="#3a2fcf"/>
<circle cx="487.60" cy="341.33" r="3.42" fill="#3a30cf"/>
<circle cx="487.60" cy="336.09" r="3.42" fill="#3a30cf"/>
<circle cx="487.60" cy="330.85" r="3.42" fill="#3a30cf"/>
<circle cx="487.60" cy="325.62" r="3.42" fill="#3a30d0"/>
<circle cx="487.60" cy="320.38" r="3.42" fill="#3a30d0"/>
<circle cx="487.60" cy="315.15" r="3.42" fill="#3a30d0"/>
<circle cx="487.60" cy="309.91" r="3.42" fill="#3a30d0"/>
<circle cx="487.60" cy="304.67" r="3.42" fill="#3a30cf"/>
<circle cx="487.60" cy="299.44" r="3.42" fill="#3a30cf"/>
<circle cx="487.60" cy="294.20" r="3.42" fill="#3a30cf"/>
<circle cx="487.60" cy="288.96" r="3.42" fill="#3a30cf"/>
<circle cx="487.60" cy="283.73" r="3.42" fill="#3a30cf"/>
<circle cx="487.60" cy="278.49" r="3.42" fill="#392fce"/>
<circle cx="487.60" cy="273.25" r="3.42" fill="#392fce"/>
<circle cx="487.60" cy="268.02" r="3.42" fill="#392fcd"/>
<circle cx="487.60" cy="262.78" r="3.42" fill="#392fcd"/>
<circle cx="487.60" cy="257.55" r="3.42" fill="#392ecd"/>
<circle cx="487.60" cy="252.31" r="3.42" fill="#392ecc"/>
<circle cx="487.60" cy="247.07" r="3.42" fill="#392ecc"/>
<circle cx="487.60" cy="241.84" r="3.42" fill="#392ecb"/>
<circle cx="487.60" cy="236.60" r="3.42" fill="#392dcb"/>
<circle cx="487.60" cy="231.36" r="3.42" fill="#382dca"/>
<circle cx="487.60" cy="226.13" r="3.42" fill="#382dc9"/>
<circle cx="487.60" cy="220.89" r="3.42" fill="#382cc9"/>
<circle cx="493.57" cy="377.98" r="3.42" fill="#382dca"/>
<circle cx="493.57" cy="372.75" r="3.42" fill="#392dca"/>
<circle cx="493.57" cy="367.51" r="3.42" fill="#392ecb"/>
<circle cx="493.57" cy="362.27" r="3.42" fill="#392ecc"/>
<circle cx="493.57" cy="357.04" r="3.42" fill="#392ecd"/>
<circle cx="493.57" cy="351.80" r="3.42" fill="#392fcd"/>
<circle cx="493.57" cy="346.56" r="3.42" fill="#392fce"/>
<circle cx="493.57" cy="341.33" r="3.42" fill="#392fce"/>
<circle cx="493.57" cy="336.09" r="3.42" fill="#392fce"/>
<circle cx="493.57" cy="330.85" r="3.42" fill="#3a30cf"/>
<circle cx="493.57" cy="325.62" r="3.42" fill="#3a30cf"/>
<circle cx="493.57" cy="320.38" r="3.42" fill="#3a30cf"/>
<circle cx="493.57" cy="315.15" r="3.42" fill="#3a30cf"/>
<circle cx="493.57" cy="309.91" r="3.42" fill="#3a30cf"/>
<circle cx="493.57" cy="304.67" r="3.42" fill="#3a30cf"/>
<circle cx="493.57" cy="299.44" r="3.42" fill="#3a30cf"/>
<circle cx="493.57" cy="294.20" r="3.42" fill="#3a30cf"/>
<circle cx="493.57" cy="288.96" r="3.42" fill="#3a2fce"/>
<circle cx="493.57" cy="283.73" r="3.42" fill="#392fce"/>
<circle cx="493.57" cy="278.49" r="3.42" fill="#392fce"/>
<circle cx="493.57" cy="273.25" r="3.42" fill="#392fce"/>
<circle cx="493.57" cy="268.02" r="3.42" fill="#392fcd"/>
<circle cx="493.57" cy="262.78" r="3.42" fill="#392fcd"/>
<circle cx="493.57" cy="257.55" r="3.42" fill="#392ecc"/>
<circle cx="493.57" cy="252.31" r="3.42" fill="#392ecc"/>
<circle cx="493.57" cy="247.07" r="3.42" fill="#392ecc"/>
<circle cx="493.57" cy="241.84" r="3.42" fill="#392ecb"/>
<circle cx="493.57" cy="236.60" r="3.42" fill="#392dcb"/>
<circle cx="493.57" cy="231.36" r="3.42" fill="#382dca"/>
<circle cx="493.57" cy="226.13" r="3.42" fill="#382dca"/>
<circle cx="493.57" cy="220.89" r="3.42" fill="#382dc9"/>
<circle cx="499.54" cy="372.75" r="3.42" fill="#382dc9"/>
<circle cx="499.54" cy="367.51" r="3.42" fill="#382dca"/>
<circle cx="499.54" cy="362.27" r="3.42" fill="#392ecb"/>
<circle cx="499.54" cy="357.04" r="3.42" fill="#392ecc"/>
<circle cx="499.54" cy="351.80" r="3.42" fill="#392ecc"/>
<circle cx="499.54" cy="346.56" r="3.42" fill="#392ecd"/>
<circle cx="499.54" cy="341.33" r="3.42" fill="#392fcd"/>
<circle cx="499.54" cy="336.09" r="3.42" fill="#392fcd"/>
<circle cx="499.54" cy="330.85" r="3.42" fill="#392fce"/>
<circle cx="499.54" cy="325.62" r="3.42" fill="#392fce"/>
<circle cx="499.54" cy="320.38" r="3.42" fill="#392fce"/>
<circle cx="499.54" cy="315.15" r="3.42" fill="#392fce"/>
<circle cx="499.54" cy="309.91" r="3.42" fill="#392fce"/>
<circle cx="499.54" cy="304.67" r="3.42" fill="#392fce"/>
<circle cx="499.54" cy="299.44" r="3.42" fill="#392fce"/>
<circle cx="499.54" cy="294.20" r="3.42" fill="#392fce"/>
<circle cx="499.54" cy="288.96" r="3.42" fill="#392fce"/>
<circle cx="499.54" cy="283.73" r="3.42" fill="#392fce"/>
<circle cx="499.54" cy="278.49" r="3.42" fill="#392fce"/>
<circle cx="499.54" cy="273.25" r="3.42" fill="#392fcd"/>
<circle cx="499.54" cy="268.02" r="3.42" fill="#392fcd"/>
<circle cx="499.54" cy="262.78" r="3.42" fill="#392fcd"/>
<circle cx="499.54" cy="257.55" r="3.42" fill="#392ecc"/>
<circle cx="499.54" cy="252.31" r="3.42" fill="#392ecc"/>
<circle cx="499.54" cy="247.07" r="3.42" fill="#392ecc"/>
<circle cx="499.54" cy="241.84" r="3.42" fill="#392ecb"/>
<circle cx="499.54" cy="236.60" r="3.42" fill="#392dcb"/>
<circle cx="499.54" cy="231.36" r="3.42" fill="#382dca"/>
<circle cx="499.54" cy="226.13" r="3.42" fill="#382dca"/>
<circle cx="499.54" cy="220.89" r="3.42" fill="#382dc9"/>
<circle cx="505.51" cy="367.51" r="3.42" fill="#382dc9"/>
<circle cx="505.51" cy="362.27" r="3.42" fill="#382dca"/>
<circle cx="505.51" cy="357.04" r="3.42" fill="#392dcb"/>
<circle cx="505.51" cy="351.80" r="3.42" fill="#392ecb"/>
<circle cx="505.51" cy="346.56" r="3.42" fill="#392ecc"/>
<circle cx="505.51" cy="341.33" r="3.42" fill="#392ecc"/>
<circle cx="505.51" cy="336.09" r="3.42" fill="#392ecd"/>
<circle cx="505.51" cy="330.85" r="3.42" fill="#392fcd"/>
<circle cx="505.51" cy="325.62" r="3.42" fill="#392fcd"/>
<circle cx="505.51" cy="320.38" r="3.42" fill="#392fcd"/>
<circle cx="505.51" cy="315.15" r="3.42" fill="#392fce"/>
<circle cx="505.51" cy="309.91" r="3.42" fill="#392fce"/>
<circle cx="505.51" cy="304.67" r="3.42" fill="#392fce"/>
<circle cx="505.51" cy="299.44" r="3.42" fill="#392fce"/>
<circle cx="505.51" cy="294.20" r="3.42" fill="#392fce"/>
<circle cx="505.51" cy="288.96" r="3.42" fill="#392fce"/>
<circle cx="505.51" cy="283.73" r="3.42" fill="#392fcd"/>
<circle cx="505.51" cy="278.49" r="3.42" fill="#392fcd"/>
<circle cx="505.51" cy="273.25" r="3.42" fill="#392fcd"/>
<circle cx="505.51" cy="268.02" r="3.42" fill="#392fcd"/>
<circle cx="505.51" cy="262.78" r="3.42" fill="#392ecc"/>
<circle cx="505.51" cy="257.55" r="3.42" fill="#392ecc"/>
<circle cx="505.51" cy="252.31" r="3.42" fill="#392ecc"/>
<circle cx="505.51" cy="247.07" r="3.42" fill="#392ecb"/>
<circle cx="505.51" cy="241.84" r="3.42" fill="#392ecb"/>
<circle cx="505.51" cy="236.60" r="3.42" fill="#392dcb"/>
<circle cx="505.51" cy="231.36" r="3.42" fill="#382dca"/>
<circle cx="505.51" cy="226.13" r="3.42" fill="#382dca"/>
<circle cx="505.51" cy="220.89" r="3.42" fill="#382dc9"/>
<circle cx="505.51" cy="215.65" r="3.42" fill="#382cc9"/>
<circle cx="511.47" cy="362.27" r="3.42" fill="#382cc9"/>
<circle cx="511.47" cy="357.04" r="3.42" fill="#382dca"/>
<circle cx="511.47" cy="351.80" r="3.42" fill="#392dca"/>
<circle cx="511.47" cy="346.56" r="3.42" fill="#392dcb"/>
<circle cx="511.47" cy="341.33" r="3.42" fill="#392ecb"/>
<circle cx="511.47" cy="336.09" r="3.42" fill="#392ecc"/>
<circle cx="511.47" cy="330.85" r="3.42" fill="#392ecc"/>
<circle cx="511.47" cy="325.62" r="3.42" fill="#392ecc"/>
<circle cx="511.47" cy="320.38" r="3.42" fill="#392fcd"/>
<circle cx="511.47" cy="315.15" r="3.42" fill="#392fcd"/>
<circle cx="511.47" cy="309.91" r="3.42" fill="#392fcd"/>
<circle cx="511.47" cy="304.67" r="3.42" fill="#392fcd"/>
<circle cx="511.47" cy="299.44" r="3.42" fill="#392fcd"/>
<circle cx="511.47" cy="294.20" r="3.42" fill="#392fcd"/>
<circle cx="511.47" cy="288.96" r="3.42" fill="#392fcd"/>
<circle cx="511.47" cy="283.73" r="3.42" fill="#392fcd"/>
<circle cx="511.47" cy="278.49" r="3.42" fill="#392fcd"/>
<circle cx="511.47" cy="273.25" r="3.42" fill="#392fcd"/>
<circle cx="511.47" cy="268.02" r="3.42" fill="#392ecc"/>
<circle cx="511.47" cy="262.78" r="3.42" fill="#392ecc"/>
<circle cx="511.47" cy="257.55" r="3.42" fill="#392ecc"/>
<circle cx="511.47" cy="252.31" r="3.42" fill="#392ecc"/>
<circle cx="511.47" cy="247.07" r="3.42" fill="#392ecb"/>
<circle cx="511.47" cy="241.84" r="3.42" fill="#392ecb"/>
<circle cx="511.47" cy="236.60" r="3.42" fill="#392dcb"/>
<circle cx="511.47" cy="231.36" r="3.42" fill="#382dca"/>
<circle cx="511.47" cy="226.13" r="3.42" fill="#382dca"/>
<circle cx="511.47" cy="220.89" r="3.42" fill="#382dc9"/>
<circle cx="511.47" cy="215.65" r="3.42" fill="#382cc9"/>
<circle cx="517.44" cy="351.80" r="3.42" fill="#382dc9"/>
<circle cx="517.44" cy="346.56" r="3.42" fill="#382dca"/>
<circle cx="517.44" cy="341.33" r="3.42" fill="#392dca"/>
<circle cx="517.44" cy="336.09" r="3.42" fill="#392ecb"/>
<circle cx="517.44" cy="330.85" r="3.42" fill="#392ecb"/>
<circle cx="517.44" cy="325.62" r="3.42" fill="#392ecc"/>
<circle cx="517.44" cy="320.38" r="3.42" fill="#392ecc"/>
<circle cx="517.44" cy="315.15" r="3.42" fill="#392ecc"/>
<circle cx="517.44" cy="309.91" r="3.42" fill="#392ecc"/>
<circle cx="517.44" cy="304.67" r="3.42" fill="#392ecd"/>
<circle cx="517.44" cy="299.44" r="3.42" fill="#392ecd"/>
<circle cx="517.44" cy="294.20" r="3.42" fill="#392ecd"/>
<circle cx="517.44" cy="288.96" r="3.42" fill="#392ecd"/>
<circle cx="517.44" cy="283.73" r="3.42" fill="#392ecd"/>
<circle cx="517.44" cy="278.49" r="3.42" fill="#392ecc"/>
<circle cx="517.44" cy="273.25" r="3.42" fill="#392ecc"/>
<circle cx="517.44" cy="268.02" r="3.42" fill="#392ecc"/>
<circle cx="517.44" cy="262.78" r="3.42" fill="#392ecc"/>
<circle cx="517.44" cy="257.55" r="3.42" fill="#392ecc"/>
<circle cx="517.44" cy="252.31" r="3.42" fill="#392ecb"/>
<circle cx="517.44" cy="247.07" r="3.42" fill="#392ecb"/>
<circle cx="517.44" cy="241.84" r="3.42" fill="#392dcb"/>
<circle cx="517.44" cy="236.60" r="3.42" fill="#392dca"/>
<circle cx="517.44" cy="231.36" r="3.42" fill="#382dca"/>
<circle cx="517.44" cy="226.13" r="3.42" fill="#382dca"/>
<circle cx="517.44" cy="220.89" r="3.42" fill="#382dc9"/>
<circle cx="517.44" cy="215.65" r="3.42" fill="#382cc9"/>
<circle cx="523.41" cy="346.56" r="3.42" fill="#382dc9"/>
<circle cx="523.41" cy="341.33" r="3.42" fill="#382dca"/>
<circle cx="523.41" cy="336.09" r="3.42" fill="#382dca"/>
<circle cx="523.41" cy="330.85" r="3.42" fill="#392dcb"/>
<circle cx="523.41" cy="325.62" r="3.42" fill="#392ecb"/>
<circle cx="523.41" cy="320.38" r="3.42" fill="#392ecb"/>
<circle cx="523.41" cy="315.15" r="3.42" fill="#392ecc"/>
<circle cx="523.41" cy="309.91" r="3.42" fill="#392ecc"/>
<circle cx="523.41" cy="304.67" r="3.42" fill="#392ecc"/>
<circle cx="523.41" cy="299.44" r="3.42" fill="#392ecc"/>
<circle cx="523.41" cy="294.20" r="3.42" fill="#392ecc"/>
<circle cx="523.41" cy="288.96" r="3.42" fill="#392ecc"/>
<circle cx="523.41" cy="283.73" r="3.42" fill="#392ecc"/>
<circle cx="523.41" cy="278.49" r="3.42" fill="#392ecc"/>
<circle cx="523.41" cy="273.25" r="3.42" fill="#392ecc"/>
<circle cx="523.41" cy="268.02" r="3.42" fill="#392ecc"/>
<circle cx="523.41" cy="262.78" r="3.42" fill="#392ecc"/>
<circle cx="523.41" cy="257.55" r="3.42" fill="#392ecb"/>
<circle cx="523.41" cy="252.31" r="3.42" fill="#392ecb"/>
<circle cx="523.41" cy="247.07" r="3.42" fill="#392ecb"/>
<circle cx="523.41" cy="241.84" r="3.42" fill="#392dcb"/>
<circle cx="523.41" cy="236.60" r="3.42" fill="#392dca"/>
<circle cx="523.41" cy="231.36" r="3.42" fill="#382dca"/>
<circle cx="523.41" cy="226.13" r="3.42" fill="#382dca"/>
<circle cx="523.41" cy="220.89" r="3.42" fill="#382dc9"/>
<circle cx="523.41" cy="215.65" r="3.42" fill="#382cc9"/>
<circle cx="529.38" cy="341.33" r="3.42" fill="#382cc9"/>
<circle cx="529.38" cy="336.09" r="3.42" fill="#382dc9"/>
<circle cx="529.38" cy="330.85" r="3.42" fill="#382dca"/>
<circle cx="529.38" cy="325.62" r="3.42" fill="#382dca"/>
<circle cx="529.38" cy="320.38" r="3.42" fill="#392dcb"/>
<circle cx="529.38" cy="315.15" r="3.42" fill="#392ecb"/>
<circle cx="529.38" cy="309.91" r="3.42" fill="#392ecb"/>
<circle cx="529.38" cy="304.67" r="3.42" fill="#392ecb"/>
<circle cx="529.38" cy="299.44" r="3.42" fill="#392ecb"/>
<circle cx="529.38" cy="294.20" r="3.42" fill="#392ecc"/>
<circle cx="529.38" cy="288.96" r="3.42" fill="#392ecc"/>
<circle cx="529.38" cy="283.73" r="3.42" fill="#392ecc"/>
<circle cx="529.38" cy="278.49" r="3.42" fill="#392ecc"/>
<circle cx="529.38" cy="273.25" r="3.42" fill="#392ecc"/>
<circle cx="529.38" cy="268.02" r="3.42" fill="#392ecb"/>
<circle cx="529.38" cy="262.78" r="3.42" fill="#392ecb"/>
<circle cx="529.38" cy="257.55" r="3.42" fill="#392ecb"/>
<circle cx="529.38" cy="252.31" r="3.42" fill="#392ecb"/>
<circle cx="529.38" cy="247.07" r="3.42" fill="#392dcb"/>
<circle cx="529.38" cy="241.84" r="3.42" fill="#392dca"/>
<circle cx="529.38" cy="236.60" r="3.42" fill="#382dca"/>
<circle cx="529.38" cy="231.36" r="3.42" fill="#382dca"/>
<circle cx="529.38" cy="226.13" r="3.42" fill="#382dc9"/>
<circle cx="529.38" cy="220.89" r="3.42" fill="#382dc9"/>
<circle cx="529.38" cy="215.65" r="3.42" fill="#382cc9"/>
<circle cx="535.35" cy="330.85" r="3.42" fill="#382cc9"/>
<circle cx="535.35" cy="325.62" r="3.42" fill="#382dc9"/>
<circle cx="535.35" cy="320.38" r="3.42" fill="#382dca"/>
<circle cx="535.35" cy="315.15" r="3.42" fill="#382dca"/>
<circle cx="535.35" cy="309.91" r="3.42" fill="#392dca"/>
<circle cx="535.35" cy="304.67" r="3.42" fill="#392dcb"/>
<circle cx="535.35" cy="299.44" r="3.42" fill="#392ecb"/>
<circle cx="535.35" cy="294.20" r="3.42" fill="#392ecb"/>
<circle cx="535.35" cy="288.96" r="3.42" fill="#392ecb"/>
<circle cx="535.35" cy="283.73" r="3.42" fill="#392ecb"/>
<circle cx="535.35" cy="278.49" r="3.42" fill="#392ecb"/>
<circle cx="535.35" cy="273.25" r="3.42" fill="#392ecb"/>
<circle cx="535.35" cy="268.02" r="3.42" fill="#392ecb"/>
<circle cx="535.35" cy="262.78" r="3.42" fill="#392ecb"/>
<circle cx="535.35" cy="257.55" r="3.42" fill="#392dcb"/>
<circle cx="535.35" cy="252.31" r="3.42" fill="#392dcb"/>
<circle cx="535.35" cy="247.07" r="3.42" fill="#392dca"/>
<circle cx="535.35" cy="241.84" r="3.42" fill="#382dca"/>
<circle cx="535.35" cy="236.60" r="3.42" fill="#382dca"/>
<circle cx="535.35" cy="231.36" r="3.42" fill="#382dca"/>
<circle cx="535.35" cy="226.13" r="3.42" fill="#382dc9"/>
<circle cx="535.35" cy="220.89" r="3.42" fill="#382dc9"/>
<circle cx="541.32" cy="320.38" r="3.42" fill="#382dc9"/>
<circle cx="541.32" cy="315.15" r="3.42" fill="#382dc9"/>
<circle cx="541.32" cy="309.91" r="3.42" fill="#382dca"/>
<circle cx="541.32" cy="304.67" r="3.42" fill="#382dca"/>
<circle cx="541.32" cy="299.44" r="3.42" fill="#392dca"/>
<circle cx="541.32" cy="294.20" r="3.42" fill="#392dca"/>
<circle cx="541.32" cy="288.96" r="3.42" fill="#392dca"/>
<circle cx="541.32" cy="283.73" r="3.42" fill="#392dcb"/>
<circle cx="541.32" cy="278.49" r="3.42" fill="#392dcb"/>
<circle cx="541.32" cy="273.25" r="3.42" fill="#392dcb"/>
<circle cx="541.32" cy="268.02" r="3.42" fill="#392dcb"/>
<circle cx="541.32" cy="262.78" r="3.42" fill="#392dcb"/>
<circle cx="541.32" cy="257.55" r="3.42" fill="#392dca"/>
<circle cx="541.32" cy="252.31" r="3.42" fill="#392dca"/>
<circle cx="541.32" cy="247.07" r="3.42" fill="#382dca"/>
<circle cx="541.32" cy="241.84" r="3.42" fill="#382dca"/>
<circle cx="541.32" cy="236.60" r="3.42" fill="#382dca"/>
<circle cx="541.32" cy="231.36" r="3.42" fill="#382dc9"/>
<circle cx="541.32" cy="226.13" r="3.42" fill="#382dc9"/>
<circle cx="541.32" cy="220.89" r="3.42" fill="#382cc9"/>
<circle cx="547.29" cy="309.91" r="3.42" fill="#382dc9"/>
<circle cx="547.29" cy="304.67" r="3.42" fill="#382dc9"/>
<circle cx="547.29" cy="299.44" r="3.42" fill="#382dca"/>
<circle cx="547.29" cy="294.20" r="3.42" fill="#382dca"/>
<circle cx="547.29" cy="288.96" r="3.42" fill="#382dca"/>
<circle cx="547.29" cy="283.73" r="3.42" fill="#382dca"/>
<circle cx="547.29" cy="278.49" r="3.42" fill="#382dca"/>
<circle cx="547.29" cy="273.25" r="3.42" fill="#382dca"/>
<circle cx="547.29" cy="268.02" r="3.42" fill="#382dca"/>
<circle cx="547.29" cy="262.78" r="3.42" fill="#382dca"/>
<circle cx="547.29" cy="257.55" r="3.42" fill="#382dca"/>
<circle cx="547.29" cy="252.31" r="3.42" fill="#382dca"/>
<circle cx="547.29" cy="247.07" r="3.42" fill="#382dca"/>
<circle cx="547.29" cy="241.84" r="3.42" fill="#382dca"/>
<circle cx="547.29" cy="236.60" r="3.42" fill="#382dc9"/>
<circle cx="547.29" cy="231.36" r="3.42" fill="#382dc9"/>
<circle cx="547.29" cy="226.13" r="3.42" fill="#382dc9"/>
<circle cx="547.29" cy="220.89" r="3.42" fill="#382cc9"/>
<circle cx="553.26" cy="299.44" r="3.42" fill="#382cc9"/>
<circle cx="553.26" cy="294.20" r="3.42" fill="#382dc9"/>
<circle cx="553.26" cy="288.96" r="3.42" fill="#382dc9"/>
<circle cx="553.26" cy="283.73" r="3.42" fill="#382dc9"/>
<circle cx="553.26" cy="278.49" r="3.42" fill="#382dca"/>
<circle cx="553.26" cy="273.25" r="3.42" fill="#382dca"/>
<circle cx="553.26" cy="268.02" r="3.42" fill="#382dca"/>
<circle cx="553.26" cy="262.78" r="3.42" fill="#382dca"/>
<circle cx="553.26" cy="257.55" r="3.42" fill="#382dca"/>
<circle cx="553.26" cy="252.31" r="3.42" fill="#382dca"/>
<circle cx="553.26" cy="247.07" r="3.42" fill="#382dc9"/>
<circle cx="553.26" cy="241.84" r="3.42" fill="#382dc9"/>
<circle cx="553.26" cy="236.60" r="3.42" fill="#382dc9"/>
<circle cx="553.26" cy="231.36" r="3.42" fill="#382dc9"/>
<circle cx="553.26" cy="226.13" r="3.42" fill="#382cc9"/>
<circle cx="559.23" cy="288.96" r="3.42" fill="#382cc9"/>
<circle cx="559.23" cy="283.73" r="3.42" fill="#382cc9"/>
<circle cx="559.23" cy="278.49" r="3.42" fill="#382dc9"/>
<circle cx="559.23" cy="273.25" r="3.42" fill="#382dc9"/>
<circle cx="559.23" cy="268.02" r="3.42" fill="#382dc9"/>
<circle cx="559.23" cy="262.78" r="3.42" fill="#382dc9"/>
<circle cx="559.23" cy="257.55" r="3.42" fill="#382dc9"/>
<circle cx="559.23" cy="252.31" r="3.42" fill="#382dc9"/>
<circle cx="559.23" cy="247.07" r="3.42" fill="#382dc9"/>
<circle cx="559.23" cy="241.84" r="3.42" fill="#382dc9"/>
<circle cx="559.23" cy="236.60" r="3.42" fill="#382cc9"/>
<circle cx="559.23" cy="231.36" r="3.42" fill="#382cc9"/>
<circle cx="565.20" cy="268.02" r="3.42" fill="#382cc9"/>
<circle cx="565.20" cy="262.78" r="3.42" fill="#382cc9"/>
<circle cx="565.20" cy="257.55" r="3.42" fill="#382cc9"/>
<circle cx="565.20" cy="252.31" r="3.42" fill="#382cc9"/>
<circle cx="565.20" cy="247.07" r="3.42" fill="#382cc9"/>
</g>
<path d="M81.70 63.10 V639.80 H738.30" fill="none" stroke="#666666" stroke-width="2.2"/>
<line x1="81.70" y1="639.80" x2="88.50" y2="639.80" stroke="#555555" stroke-width="1.5"/>
<text x="71.70" y="649.20" text-anchor="end" class="tk">-10</text>
<line x1="81.70" y1="587.44" x2="88.50" y2="587.44" stroke="#555555" stroke-width="1.5"/>
<text x="71.70" y="596.84" text-anchor="end" class="tk">0</text>
<line x1="81.70" y1="535.07" x2="88.50" y2="535.07" stroke="#555555" stroke-width="1.5"/>
<text x="71.70" y="544.47" text-anchor="end" class="tk">10</text>
<line x1="81.70" y1="482.71" x2="88.50" y2="482.71" stroke="#555555" stroke-width="1.5"/>
<text x="71.70" y="492.11" text-anchor="end" class="tk">20</text>
<line x1="81.70" y1="430.35" x2="88.50" y2="430.35" stroke="#555555" stroke-width="1.5"/>
<text x="71.70" y="439.75" text-anchor="end" class="tk">30</text>
<line x1="81.70" y1="377.98" x2="88.50" y2="377.98" stroke="#555555" stroke-width="1.5"/>
<text x="71.70" y="387.38" text-anchor="end" class="tk">40</text>
<line x1="81.70" y1="325.62" x2="88.50" y2="325.62" stroke="#555555" stroke-width="1.5"/>
<text x="71.70" y="335.02" text-anchor="end" class="tk">50</text>
<line x1="81.70" y1="273.25" x2="88.50" y2="273.25" stroke="#555555" stroke-width="1.5"/>
<text x="71.70" y="282.65" text-anchor="end" class="tk">60</text>
<line x1="81.70" y1="220.89" x2="88.50" y2="220.89" stroke="#555555" stroke-width="1.5"/>
<text x="71.70" y="230.29" text-anchor="end" class="tk">70</text>
<line x1="81.70" y1="168.53" x2="88.50" y2="168.53" stroke="#555555" stroke-width="1.5"/>
<text x="71.70" y="177.93" text-anchor="end" class="tk">80</text>
<line x1="81.70" y1="116.16" x2="88.50" y2="116.16" stroke="#555555" stroke-width="1.5"/>
<text x="71.70" y="125.56" text-anchor="end" class="tk">90</text>
<line x1="81.70" y1="63.80" x2="88.50" y2="63.80" stroke="#555555" stroke-width="1.5"/>
<text x="71.70" y="73.20" text-anchor="end" class="tk">100</text>
<line x1="141.39" y1="639.80" x2="141.39" y2="633.00" stroke="#555555" stroke-width="1.5"/>
<text x="141.39" y="672.50" text-anchor="middle" class="tk">0</text>
<line x1="260.77" y1="639.80" x2="260.77" y2="633.00" stroke="#555555" stroke-width="1.5"/>
<text x="260.77" y="672.50" text-anchor="middle" class="tk">20</text>
<line x1="380.15" y1="639.80" x2="380.15" y2="633.00" stroke="#555555" stroke-width="1.5"/>
<text x="380.15" y="672.50" text-anchor="middle" class="tk">40</text>
<line x1="499.54" y1="639.80" x2="499.54" y2="633.00" stroke="#555555" stroke-width="1.5"/>
<text x="499.54" y="672.50" text-anchor="middle" class="tk">60</text>
<line x1="618.92" y1="639.80" x2="618.92" y2="633.00" stroke="#555555" stroke-width="1.5"/>
<text x="618.92" y="672.50" text-anchor="middle" class="tk">80</text>
<line x1="738.30" y1="639.80" x2="738.30" y2="633.00" stroke="#555555" stroke-width="1.5"/>
<text x="738.30" y="672.50" text-anchor="middle" class="tk">100</text>
<text x="410.00" y="705.6" text-anchor="middle" class="lb">Distance from release point (m)</text>
<rect x="776.80" y="66.30" width="36.00" height="573.40" fill="url(#pg)" stroke="#242424" stroke-width="1.6"/>
<text x="822.40" y="649.50" class="tk">0</text>
<line x1="812.80" y1="582.36" x2="807.00" y2="582.36" stroke="#242424" stroke-width="1.4"/>
<text x="822.40" y="592.16" class="tk">1</text>
<line x1="812.80" y1="525.02" x2="807.00" y2="525.02" stroke="#242424" stroke-width="1.4"/>
<text x="822.40" y="534.82" class="tk">2</text>
<line x1="812.80" y1="467.68" x2="807.00" y2="467.68" stroke="#242424" stroke-width="1.4"/>
<text x="822.40" y="477.48" class="tk">3</text>
<line x1="812.80" y1="410.34" x2="807.00" y2="410.34" stroke="#242424" stroke-width="1.4"/>
<text x="822.40" y="420.14" class="tk">4</text>
<line x1="812.80" y1="353.00" x2="807.00" y2="353.00" stroke="#242424" stroke-width="1.4"/>
<text x="822.40" y="362.80" class="tk">5</text>
<line x1="812.80" y1="295.66" x2="807.00" y2="295.66" stroke="#242424" stroke-width="1.4"/>
<text x="822.40" y="305.46" class="tk">6</text>
<line x1="812.80" y1="238.32" x2="807.00" y2="238.32" stroke="#242424" stroke-width="1.4"/>
<text x="822.40" y="248.12" class="tk">7</text>
<line x1="812.80" y1="180.98" x2="807.00" y2="180.98" stroke="#242424" stroke-width="1.4"/>
<text x="822.40" y="190.78" class="tk">8</text>
<line x1="812.80" y1="123.64" x2="807.00" y2="123.64" stroke="#242424" stroke-width="1.4"/>
<text x="822.40" y="133.44" class="tk">9</text>
<text x="822.40" y="76.10" class="tk">10</text>
<text x="409.10" y="28.2" text-anchor="middle" class="tt">2.5Lmin<tspan class="sup" dy="-11.4">-1</tspan><tspan dy="11.4"> - 1.5 ms</tspan><tspan class="sup" dy="-11.4">-1</tspan></text>
<text x="409.10" y="57.3" text-anchor="middle" class="tt">20 m above ground level</text>
<text transform="translate(21.30,351.6) rotate(-90)" text-anchor="middle" class="lb">Distance from release point (m)</text>
<text transform="translate(859.80,352.9) rotate(90)" text-anchor="middle" class="cl">Methane concentration above background (ppm.m)</text>
<g filter="url(#soft)">
<circle cx="1041.72" cy="582.20" r="3.42" fill="#fbfc3c"/>
<circle cx="1041.72" cy="576.96" r="3.42" fill="#4a6afc"/>
<circle cx="1047.67" cy="582.20" r="3.42" fill="#4a6afc"/>
<circle cx="1047.67" cy="576.96" r="3.42" fill="#ddbc38"/>
<circle cx="1047.67" cy="571.73" r="3.42" fill="#5692ed"/>
<circle cx="1047.67" cy="566.49" r="3.42" fill="#4040ea"/>
<circle cx="1053.61" cy="576.96" r="3.42" fill="#5692ed"/>
<circle cx="1053.61" cy="571.73" r="3.42" fill="#67b6cc"/>
<circle cx="1053.61" cy="566.49" r="3.42" fill="#528af4"/>
<circle cx="1053.61" cy="561.25" r="3.42" fill="#4551f8"/>
<circle cx="1053.61" cy="556.02" r="3.42" fill="#3b34d7"/>
<circle cx="1059.56" cy="576.96" r="3.42" fill="#4040ea"/>
<circle cx="1059.56" cy="571.73" r="3.42" fill="#528af4"/>
<circle cx="1059.56" cy="566.49" r="3.42" fill="#5796e9"/>
<circle cx="1059.56" cy="561.25" r="3.42" fill="#4d79fa"/>
<circle cx="1059.56" cy="556.02" r="3.42" fill="#4655f9"/>
<circle cx="1059.56" cy="550.78" r="3.42" fill="#3f3be4"/>
<circle cx="1059.56" cy="545.55" r="3.42" fill="#392ecb"/>
<circle cx="1065.51" cy="571.73" r="3.42" fill="#4551f8"/>
<circle cx="1065.51" cy="566.49" r="3.42" fill="#4d79fa"/>
<circle cx="1065.51" cy="561.25" r="3.42" fill="#4f7ff8"/>
<circle cx="1065.51" cy="556.02" r="3.42" fill="#4b6bfc"/>
<circle cx="1065.51" cy="550.78" r="3.42" fill="#4653f9"/>
<circle cx="1065.51" cy="545.55" r="3.42" fill="#403fe9"/>
<circle cx="1065.51" cy="540.31" r="3.42" fill="#3b32d4"/>
<circle cx="1071.46" cy="571.73" r="3.42" fill="#3b34d7"/>
<circle cx="1071.46" cy="566.49" r="3.42" fill="#4655f9"/>
<circle cx="1071.46" cy="561.25" r="3.42" fill="#4b6bfc"/>
<circle cx="1071.46" cy="556.02" r="3.42" fill="#4b6cfc"/>
<circle cx="1071.46" cy="550.78" r="3.42" fill="#4960fc"/>
<circle cx="1071.46" cy="545.55" r="3.42" fill="#4550f8"/>
<circle cx="1071.46" cy="540.31" r="3.42" fill="#4040ea"/>
<circle cx="1071.46" cy="535.07" r="3.42" fill="#3c35d9"/>
<circle cx="1071.46" cy="529.84" r="3.42" fill="#392dca"/>
<circle cx="1077.40" cy="566.49" r="3.42" fill="#3f3be4"/>
<circle cx="1077.40" cy="561.25" r="3.42" fill="#4653f9"/>
<circle cx="1077.40" cy="556.02" r="3.42" fill="#4960fc"/>
<circle cx="1077.40" cy="550.78" r="3.42" fill="#4960fc"/>
<circle cx="1077.40" cy="545.55" r="3.42" fill="#4758fa"/>
<circle cx="1077.40" cy="540.31" r="3.42" fill="#444cf5"/>
<circle cx="1077.40" cy="535.07" r="3.42" fill="#403fe9"/>
<circle cx="1077.40" cy="529.84" r="3.42" fill="#3c36db"/>
<circle cx="1077.40" cy="524.60" r="3.42" fill="#392fce"/>
<circle cx="1083.35" cy="566.49" r="3.42" fill="#392ecb"/>
<circle cx="1083.35" cy="561.25" r="3.42" fill="#403fe9"/>
<circle cx="1083.35" cy="556.02" r="3.42" fill="#4550f8"/>
<circle cx="1083.35" cy="550.78" r="3.42" fill="#4758fa"/>
<circle cx="1083.35" cy="545.55" r="3.42" fill="#4757fa"/>
<circle cx="1083.35" cy="540.31" r="3.42" fill="#4551f8"/>
<circle cx="1083.35" cy="535.07" r="3.42" fill="#4348f1"/>
<circle cx="1083.35" cy="529.84" r="3.42" fill="#403ee8"/>
<circle cx="1083.35" cy="524.60" r="3.42" fill="#3d36dc"/>
<circle cx="1083.35" cy="519.36" r="3.42" fill="#3a30d0"/>
<circle cx="1089.30" cy="561.25" r="3.42" fill="#3b32d4"/>
<circle cx="1089.30" cy="556.02" r="3.42" fill="#4040ea"/>
<circle cx="1089.30" cy="550.78" r="3.42" fill="#444cf5"/>
<circle cx="1089.30" cy="545.55" r="3.42" fill="#4551f8"/>
<circle cx="1089.30" cy="540.31" r="3.42" fill="#4550f8"/>
<circle cx="1089.30" cy="535.07" r="3.42" fill="#444bf4"/>
<circle cx="1089.30" cy="529.84" r="3.42" fill="#4244ee"/>
<circle cx="1089.30" cy="524.60" r="3.42" fill="#3f3ce6"/>
<circle cx="1089.30" cy="519.36" r="3.42" fill="#3d36db"/>
<circle cx="1089.30" cy="514.13" r="3.42" fill="#3a31d1"/>
<circle cx="1089.30" cy="508.89" r="3.42" fill="#382dc9"/>
<circle cx="1095.25" cy="556.02" r="3.42" fill="#3c35d9"/>
<circle cx="1095.25" cy="550.78" r="3.42" fill="#403fe9"/>
<circle cx="1095.25" cy="545.55" r="3.42" fill="#4348f1"/>
<circle cx="1095.25" cy="540.31" r="3.42" fill="#444bf4"/>
<circle cx="1095.25" cy="535.07" r="3.42" fill="#444af4"/>
<circle cx="1095.25" cy="529.84" r="3.42" fill="#4246f0"/>
<circle cx="1095.25" cy="524.60" r="3.42" fill="#4141eb"/>
<circle cx="1095.25" cy="519.36" r="3.42" fill="#3f3be4"/>
<circle cx="1095.25" cy="514.13" r="3.42" fill="#3c36da"/>
<circle cx="1095.25" cy="508.89" r="3.42" fill="#3a31d2"/>
<circle cx="1095.25" cy="503.65" r="3.42" fill="#392dca"/>
<circle cx="1101.19" cy="556.02" r="3.42" fill="#392dca"/>
<circle cx="1101.19" cy="550.78" r="3.42" fill="#3c36db"/>
<circle cx="1101.19" cy="545.55" r="3.42" fill="#403ee8"/>
<circle cx="1101.19" cy="540.31" r="3.42" fill="#4244ee"/>
<circle cx="1101.19" cy="535.07" r="3.42" fill="#4246f0"/>
<circle cx="1101.19" cy="529.84" r="3.42" fill="#4246ef"/>
<circle cx="1101.19" cy="524.60" r="3.42" fill="#4142ec"/>
<circle cx="1101.19" cy="519.36" r="3.42" fill="#403ee8"/>
<circle cx="1101.19" cy="514.13" r="3.42" fill="#3e39e1"/>
<circle cx="1101.19" cy="508.89" r="3.42" fill="#3c35d9"/>
<circle cx="1101.19" cy="503.65" r="3.42" fill="#3a31d2"/>
<circle cx="1101.19" cy="498.42" r="3.42" fill="#392ecb"/>
<circle cx="1107.14" cy="550.78" r="3.42" fill="#392fce"/>
<circle cx="1107.14" cy="545.55" r="3.42" fill="#3d36dc"/>
<circle cx="1107.14" cy="540.31" r="3.42" fill="#3f3ce6"/>
<circle cx="1107.14" cy="535.07" r="3.42" fill="#4141eb"/>
<circle cx="1107.14" cy="529.84" r="3.42" fill="#4142ec"/>
<circle cx="1107.14" cy="524.60" r="3.42" fill="#4142eb"/>
<circle cx="1107.14" cy="519.36" r="3.42" fill="#403fe9"/>
<circle cx="1107.14" cy="514.13" r="3.42" fill="#3f3be5"/>
<circle cx="1107.14" cy="508.89" r="3.42" fill="#3d38de"/>
<circle cx="1107.14" cy="503.65" r="3.42" fill="#3c34d8"/>
<circle cx="1107.14" cy="498.42" r="3.42" fill="#3a31d1"/>
<circle cx="1107.14" cy="493.18" r="3.42" fill="#392ecb"/>
<circle cx="1113.09" cy="545.55" r="3.42" fill="#3a30d0"/>
<circle cx="1113.09" cy="540.31" r="3.42" fill="#3d36db"/>
<circle cx="1113.09" cy="535.07" r="3.42" fill="#3f3be4"/>
<circle cx="1113.09" cy="529.84" r="3.42" fill="#403ee8"/>
<circle cx="1113.09" cy="524.60" r="3.42" fill="#403fe9"/>
<circle cx="1113.09" cy="519.36" r="3.42" fill="#403ee8"/>
<circle cx="1113.09" cy="514.13" r="3.42" fill="#3f3ce6"/>
<circle cx="1113.09" cy="508.89" r="3.42" fill="#3e3ae1"/>
<circle cx="1113.09" cy="503.65" r="3.42" fill="#3d37dc"/>
<circle cx="1113.09" cy="498.42" r="3.42" fill="#3b33d6"/>
<circle cx="1113.09" cy="493.18" r="3.42" fill="#3a30d0"/>
<circle cx="1113.09" cy="487.95" r="3.42" fill="#392ecb"/>
<circle cx="1119.03" cy="540.31" r="3.42" fill="#3a31d1"/>
<circle cx="1119.03" cy="535.07" r="3.42" fill="#3c36da"/>
<circle cx="1119.03" cy="529.84" r="3.42" fill="#3e39e1"/>
<circle cx="1119.03" cy="524.60" r="3.42" fill="#3f3be5"/>
<circle cx="1119.03" cy="519.36" r="3.42" fill="#3f3ce6"/>
<circle cx="1119.03" cy="514.13" r="3.42" fill="#3f3ce5"/>
<circle cx="1119.03" cy="508.89" r="3.42" fill="#3e3ae2"/>
<circle cx="1119.03" cy="503.65" r="3.42" fill="#3d38de"/>
<circle cx="1119.03" cy="498.42" r="3.42" fill="#3c35d9"/>
<circle cx="1119.03" cy="493.18" r="3.42" fill="#3b33d4"/>
<circle cx="1119.03" cy="487.95" r="3.42" fill="#3a30cf"/>
<circle cx="1119.03" cy="482.71" r="3.42" fill="#392dcb"/>
<circle cx="1124.98" cy="540.31" r="3.42" fill="#382dc9"/>
<circle cx="1124.98" cy="535.07" r="3.42" fill="#3a31d2"/>
<circle cx="1124.98" cy="529.84" r="3.42" fill="#3c35d9"/>
<circle cx="1124.98" cy="524.60" r="3.42" fill="#3d38de"/>
<circle cx="1124.98" cy="519.36" r="3.42" fill="#3e3ae1"/>
<circle cx="1124.98" cy="514.13" r="3.42" fill="#3e3ae2"/>
<circle cx="1124.98" cy="508.89" r="3.42" fill="#3e39e1"/>
<circle cx="1124.98" cy="503.65" r="3.42" fill="#3d38df"/>
<circle cx="1124.98" cy="498.42" r="3.42" fill="#3c36db"/>
<circle cx="1124.98" cy="493.18" r="3.42" fill="#3c34d7"/>
<circle cx="1124.98" cy="487.95" r="3.42" fill="#3b32d3"/>
<circle cx="1124.98" cy="482.71" r="3.42" fill="#3a2fce"/>
<circle cx="1124.98" cy="477.47" r="3.42" fill="#392dca"/>
<circle cx="1130.93" cy="535.07" r="3.42" fill="#392dca"/>
<circle cx="1130.93" cy="529.84" r="3.42" fill="#3a31d2"/>
<circle cx="1130.93" cy="524.60" r="3.42" fill="#3c34d8"/>
<circle cx="1130.93" cy="519.36" r="3.42" fill="#3d37dc"/>
<circle cx="1130.93" cy="514.13" r="3.42" fill="#3d38de"/>
<circle cx="1130.93" cy="508.89" r="3.42" fill="#3d38df"/>
<circle cx="1130.93" cy="503.65" r="3.42" fill="#3d38de"/>
<circle cx="1130.93" cy="498.42" r="3.42" fill="#3d36dc"/>
<circle cx="1130.93" cy="493.18" r="3.42" fill="#3c35d9"/>
<circle cx="1130.93" cy="487.95" r="3.42" fill="#3b33d5"/>
<circle cx="1130.93" cy="482.71" r="3.42" fill="#3a31d1"/>
<circle cx="1130.93" cy="477.47" r="3.42" fill="#392fcd"/>
<circle cx="1130.93" cy="472.24" r="3.42" fill="#382dca"/>
<circle cx="1136.88" cy="529.84" r="3.42" fill="#392ecb"/>
<circle cx="1136.88" cy="524.60" r="3.42" fill="#3a31d1"/>
<circle cx="1136.88" cy="519.36" r="3.42" fill="#3b33d6"/>
<circle cx="1136.88" cy="514.13" r="3.42" fill="#3c35d9"/>
<circle cx="1136.88" cy="508.89" r="3.42" fill="#3c36db"/>
<circle cx="1136.88" cy="503.65" r="3.42" fill="#3d36dc"/>
<circle cx="1136.88" cy="498.42" r="3.42" fill="#3c36db"/>
<circle cx="1136.88" cy="493.18" r="3.42" fill="#3c35d9"/>
<circle cx="1136.88" cy="487.95" r="3.42" fill="#3b34d6"/>
<circle cx="1136.88" cy="482.71" r="3.42" fill="#3b32d3"/>
<circle cx="1136.88" cy="477.47" r="3.42" fill="#3a30d0"/>
<circle cx="1136.88" cy="472.24" r="3.42" fill="#392ecc"/>
<circle cx="1136.88" cy="467.00" r="3.42" fill="#382dc9"/>
<circle cx="1142.82" cy="524.60" r="3.42" fill="#392ecb"/>
<circle cx="1142.82" cy="519.36" r="3.42" fill="#3a30d0"/>
<circle cx="1142.82" cy="514.13" r="3.42" fill="#3b33d4"/>
<circle cx="1142.82" cy="508.89" r="3.42" fill="#3c34d7"/>
<circle cx="1142.82" cy="503.65" r="3.42" fill="#3c35d9"/>
<circle cx="1142.82" cy="498.42" r="3.42" fill="#3c35d9"/>
<circle cx="1142.82" cy="493.18" r="3.42" fill="#3c35d8"/>
<circle cx="1142.82" cy="487.95" r="3.42" fill="#3b34d6"/>
<circle cx="1142.82" cy="482.71" r="3.42" fill="#3b32d4"/>
<circle cx="1142.82" cy="477.47" r="3.42" fill="#3a31d1"/>
<circle cx="1142.82" cy="472.24" r="3.42" fill="#392fce"/>
<circle cx="1142.82" cy="467.00" r="3.42" fill="#392ecb"/>
<circle cx="1142.82" cy="461.76" r="3.42" fill="#382cc8"/>
<circle cx="1148.77" cy="519.36" r="3.42" fill="#392ecb"/>
<circle cx="1148.77" cy="514.13" r="3.42" fill="#3a30cf"/>
<circle cx="1148.77" cy="508.89" r="3.42" fill="#3b32d3"/>
<circle cx="1148.77" cy="503.65" r="3.42" fill="#3b33d5"/>
<circle cx="1148.77" cy="498.42" r="3.42" fill="#3b34d6"/>
<circle cx="1148.77" cy="493.18" r="3.42" fill="#3b34d6"/>
<circle cx="1148.77" cy="487.95" r="3.42" fill="#3b33d6"/>
<circle cx="1148.77" cy="482.71" r="3.42" fill="#3b32d4"/>
<circle cx="1148.77" cy="477.47" r="3.42" fill="#3a31d2"/>
<circle cx="1148.77" cy="472.24" r="3.42" fill="#3a30d0"/>
<circle cx="1148.77" cy="467.00" r="3.42" fill="#392fcd"/>
<circle cx="1148.77" cy="461.76" r="3.42" fill="#392dca"/>
<circle cx="1154.72" cy="514.13" r="3.42" fill="#392dcb"/>
<circle cx="1154.72" cy="508.89" r="3.42" fill="#3a2fce"/>
<circle cx="1154.72" cy="503.65" r="3.42" fill="#3a31d1"/>
<circle cx="1154.72" cy="498.42" r="3.42" fill="#3b32d3"/>
<circle cx="1154.72" cy="493.18" r="3.42" fill="#3b32d4"/>
<circle cx="1154.72" cy="487.95" r="3.42" fill="#3b32d4"/>
<circle cx="1154.72" cy="482.71" r="3.42" fill="#3b32d3"/>
<circle cx="1154.72" cy="477.47" r="3.42" fill="#3a31d2"/>
<circle cx="1154.72" cy="472.24" r="3.42" fill="#3a30d0"/>
<circle cx="1154.72" cy="467.00" r="3.42" fill="#392fce"/>
<circle cx="1154.72" cy="461.76" r="3.42" fill="#392ecc"/>
<circle cx="1154.72" cy="456.53" r="3.42" fill="#382dc9"/>
<circle cx="1160.67" cy="508.89" r="3.42" fill="#392dca"/>
<circle cx="1160.67" cy="503.65" r="3.42" fill="#392fcd"/>
<circle cx="1160.67" cy="498.42" r="3.42" fill="#3a30d0"/>
<circle cx="1160.67" cy="493.18" r="3.42" fill="#3a31d1"/>
<circle cx="1160.67" cy="487.95" r="3.42" fill="#3a31d2"/>
<circle cx="1160.67" cy="482.71" r="3.42" fill="#3a31d2"/>
<circle cx="1160.67" cy="477.47" r="3.42" fill="#3a31d1"/>
<circle cx="1160.67" cy="472.24" r="3.42" fill="#3a30d0"/>
<circle cx="1160.67" cy="467.00" r="3.42" fill="#3a30cf"/>
<circle cx="1160.67" cy="461.76" r="3.42" fill="#392fcd"/>
<circle cx="1160.67" cy="456.53" r="3.42" fill="#392dcb"/>
<circle cx="1160.67" cy="451.29" r="3.42" fill="#382cc8"/>
<circle cx="1166.61" cy="503.65" r="3.42" fill="#382dca"/>
<circle cx="1166.61" cy="498.42" r="3.42" fill="#392ecc"/>
<circle cx="1166.61" cy="493.18" r="3.42" fill="#392fce"/>
<circle cx="1166.61" cy="487.95" r="3.42" fill="#3a30d0"/>
<circle cx="1166.61" cy="482.71" r="3.42" fill="#3a30d0"/>
<circle cx="1166.61" cy="477.47" r="3.42" fill="#3a30d0"/>
<circle cx="1166.61" cy="472.24" r="3.42" fill="#3a30d0"/>
<circle cx="1166.61" cy="467.00" r="3.42" fill="#3a2fcf"/>
<circle cx="1166.61" cy="461.76" r="3.42" fill="#392fcd"/>
<circle cx="1166.61" cy="456.53" r="3.42" fill="#392ecb"/>
<circle cx="1166.61" cy="451.29" r="3.42" fill="#382dca"/>
<circle cx="1172.56" cy="498.42" r="3.42" fill="#382dc9"/>
<circle cx="1172.56" cy="493.18" r="3.42" fill="#392ecb"/>
<circle cx="1172.56" cy="487.95" r="3.42" fill="#392fcd"/>
<circle cx="1172.56" cy="482.71" r="3.42" fill="#392fce"/>
<circle cx="1172.56" cy="477.47" r="3.42" fill="#3a30cf"/>
<circle cx="1172.56" cy="472.24" r="3.42" fill="#3a2fcf"/>
<circle cx="1172.56" cy="467.00" r="3.42" fill="#392fce"/>
<circle cx="1172.56" cy="461.76" r="3.42" fill="#392fcd"/>
<circle cx="1172.56" cy="456.53" r="3.42" fill="#392ecc"/>
<circle cx="1172.56" cy="451.29" r="3.42" fill="#392dca"/>
<circle cx="1172.56" cy="446.05" r="3.42" fill="#382cc8"/>
<circle cx="1178.51" cy="493.18" r="3.42" fill="#382cc8"/>
<circle cx="1178.51" cy="487.95" r="3.42" fill="#392dca"/>
<circle cx="1178.51" cy="482.71" r="3.42" fill="#392ecc"/>
<circle cx="1178.51" cy="477.47" r="3.42" fill="#392fcd"/>
<circle cx="1178.51" cy="472.24" r="3.42" fill="#392fcd"/>
<circle cx="1178.51" cy="467.00" r="3.42" fill="#392fcd"/>
<circle cx="1178.51" cy="461.76" r="3.42" fill="#392ecc"/>
<circle cx="1178.51" cy="456.53" r="3.42" fill="#392ecc"/>
<circle cx="1178.51" cy="451.29" r="3.42" fill="#392dca"/>
<circle cx="1178.51" cy="446.05" r="3.42" fill="#382dc9"/>
<circle cx="1184.45" cy="482.71" r="3.42" fill="#382dc9"/>
<circle cx="1184.45" cy="477.47" r="3.42" fill="#392dcb"/>
<circle cx="1184.45" cy="472.24" r="3.42" fill="#392ecb"/>
<circle cx="1184.45" cy="467.00" r="3.42" fill="#392ecc"/>
<circle cx="1184.45" cy="461.76" r="3.42" fill="#392ecc"/>
<circle cx="1184.45" cy="456.53" r="3.42" fill="#392ecb"/>
<circle cx="1184.45" cy="451.29" r="3.42" fill="#392dca"/>
<circle cx="1184.45" cy="446.05" r="3.42" fill="#382dc9"/>
<circle cx="1184.45" cy="440.82" r="3.42" fill="#382cc8"/>
<circle cx="1190.40" cy="477.47" r="3.42" fill="#382cc8"/>
<circle cx="1190.40" cy="472.24" r="3.42" fill="#382dca"/>
<circle cx="1190.40" cy="467.00" r="3.42" fill="#392dca"/>
<circle cx="1190.40" cy="461.76" r="3.42" fill="#392dca"/>
<circle cx="1190.40" cy="456.53" r="3.42" fill="#392dca"/>
<circle cx="1190.40" cy="451.29" r="3.42" fill="#382dca"/>
<circle cx="1190.40" cy="446.05" r="3.42" fill="#382dc9"/>
<circle cx="1190.40" cy="440.82" r="3.42" fill="#382cc8"/>
<circle cx="1196.35" cy="467.00" r="3.42" fill="#382cc8"/>
<circle cx="1196.35" cy="461.76" r="3.42" fill="#382dc9"/>
<circle cx="1196.35" cy="456.53" r="3.42" fill="#382dc9"/>
<circle cx="1196.35" cy="451.29" r="3.42" fill="#382dc9"/>
<circle cx="1196.35" cy="446.05" r="3.42" fill="#382cc9"/>
<circle cx="1196.35" cy="440.82" r="3.42" fill="#382cc8"/>
<circle cx="1202.30" cy="456.53" r="3.42" fill="#382cc8"/>
<circle cx="1202.30" cy="451.29" r="3.42" fill="#382cc8"/>
<circle cx="1202.30" cy="446.05" r="3.42" fill="#382cc8"/>
</g>
<path d="M976.30 63.10 V639.80 H1630.50" fill="none" stroke="#666666" stroke-width="2.2"/>
<line x1="976.30" y1="639.80" x2="983.10" y2="639.80" stroke="#555555" stroke-width="1.5"/>
<text x="966.30" y="649.20" text-anchor="end" class="tk">-10</text>
<line x1="976.30" y1="587.44" x2="983.10" y2="587.44" stroke="#555555" stroke-width="1.5"/>
<text x="966.30" y="596.84" text-anchor="end" class="tk">0</text>
<line x1="976.30" y1="535.07" x2="983.10" y2="535.07" stroke="#555555" stroke-width="1.5"/>
<text x="966.30" y="544.47" text-anchor="end" class="tk">10</text>
<line x1="976.30" y1="482.71" x2="983.10" y2="482.71" stroke="#555555" stroke-width="1.5"/>
<text x="966.30" y="492.11" text-anchor="end" class="tk">20</text>
<line x1="976.30" y1="430.35" x2="983.10" y2="430.35" stroke="#555555" stroke-width="1.5"/>
<text x="966.30" y="439.75" text-anchor="end" class="tk">30</text>
<line x1="976.30" y1="377.98" x2="983.10" y2="377.98" stroke="#555555" stroke-width="1.5"/>
<text x="966.30" y="387.38" text-anchor="end" class="tk">40</text>
<line x1="976.30" y1="325.62" x2="983.10" y2="325.62" stroke="#555555" stroke-width="1.5"/>
<text x="966.30" y="335.02" text-anchor="end" class="tk">50</text>
<line x1="976.30" y1="273.25" x2="983.10" y2="273.25" stroke="#555555" stroke-width="1.5"/>
<text x="966.30" y="282.65" text-anchor="end" class="tk">60</text>
<line x1="976.30" y1="220.89" x2="983.10" y2="220.89" stroke="#555555" stroke-width="1.5"/>
<text x="966.30" y="230.29" text-anchor="end" class="tk">70</text>
<line x1="976.30" y1="168.53" x2="983.10" y2="168.53" stroke="#555555" stroke-width="1.5"/>
<text x="966.30" y="177.93" text-anchor="end" class="tk">80</text>
<line x1="976.30" y1="116.16" x2="983.10" y2="116.16" stroke="#555555" stroke-width="1.5"/>
<text x="966.30" y="125.56" text-anchor="end" class="tk">90</text>
<line x1="976.30" y1="63.80" x2="983.10" y2="63.80" stroke="#555555" stroke-width="1.5"/>
<text x="966.30" y="73.20" text-anchor="end" class="tk">100</text>
<line x1="1035.77" y1="639.80" x2="1035.77" y2="633.00" stroke="#555555" stroke-width="1.5"/>
<text x="1035.77" y="672.50" text-anchor="middle" class="tk">0</text>
<line x1="1154.72" y1="639.80" x2="1154.72" y2="633.00" stroke="#555555" stroke-width="1.5"/>
<text x="1154.72" y="672.50" text-anchor="middle" class="tk">20</text>
<line x1="1273.66" y1="639.80" x2="1273.66" y2="633.00" stroke="#555555" stroke-width="1.5"/>
<text x="1273.66" y="672.50" text-anchor="middle" class="tk">40</text>
<line x1="1392.61" y1="639.80" x2="1392.61" y2="633.00" stroke="#555555" stroke-width="1.5"/>
<text x="1392.61" y="672.50" text-anchor="middle" class="tk">60</text>
<line x1="1511.55" y1="639.80" x2="1511.55" y2="633.00" stroke="#555555" stroke-width="1.5"/>
<text x="1511.55" y="672.50" text-anchor="middle" class="tk">80</text>
<line x1="1630.50" y1="639.80" x2="1630.50" y2="633.00" stroke="#555555" stroke-width="1.5"/>
<text x="1630.50" y="672.50" text-anchor="middle" class="tk">100</text>
<text x="1303.40" y="705.6" text-anchor="middle" class="lb">Distance from release point (m)</text>
<rect x="1668.80" y="67.00" width="36.00" height="572.70" fill="url(#pg)" stroke="#242424" stroke-width="1.6"/>
<text x="1714.40" y="649.50" class="tk">0</text>
<line x1="1704.80" y1="582.43" x2="1699.00" y2="582.43" stroke="#242424" stroke-width="1.4"/>
<text x="1714.40" y="592.23" class="tk">1</text>
<line x1="1704.80" y1="525.16" x2="1699.00" y2="525.16" stroke="#242424" stroke-width="1.4"/>
<text x="1714.40" y="534.96" class="tk">2</text>
<line x1="1704.80" y1="467.89" x2="1699.00" y2="467.89" stroke="#242424" stroke-width="1.4"/>
<text x="1714.40" y="477.69" class="tk">3</text>
<line x1="1704.80" y1="410.62" x2="1699.00" y2="410.62" stroke="#242424" stroke-width="1.4"/>
<text x="1714.40" y="420.42" class="tk">4</text>
<line x1="1704.80" y1="353.35" x2="1699.00" y2="353.35" stroke="#242424" stroke-width="1.4"/>
<text x="1714.40" y="363.15" class="tk">5</text>
<line x1="1704.80" y1="296.08" x2="1699.00" y2="296.08" stroke="#242424" stroke-width="1.4"/>
<text x="1714.40" y="305.88" class="tk">6</text>
<line x1="1704.80" y1="238.81" x2="1699.00" y2="238.81" stroke="#242424" stroke-width="1.4"/>
<text x="1714.40" y="248.61" class="tk">7</text>
<line x1="1704.80" y1="181.54" x2="1699.00" y2="181.54" stroke="#242424" stroke-width="1.4"/>
<text x="1714.40" y="191.34" class="tk">8</text>
<line x1="1704.80" y1="124.27" x2="1699.00" y2="124.27" stroke="#242424" stroke-width="1.4"/>
<text x="1714.40" y="134.07" class="tk">9</text>
<text x="1714.40" y="76.80" class="tk">10</text>
<text x="1302.50" y="28.2" text-anchor="middle" class="tt">2.5Lmin<tspan class="sup" dy="-11.4">-1</tspan><tspan dy="11.4"> - 4.5 ms</tspan><tspan class="sup" dy="-11.4">-1</tspan></text>
<text x="1302.50" y="57.3" text-anchor="middle" class="tt">20 m above ground level</text>
<text transform="translate(915.90,351.6) rotate(-90)" text-anchor="middle" class="lb">Distance from release point (m)</text>
<text transform="translate(1751.80,352.9) rotate(90)" text-anchor="middle" class="cl">Methane concentration above background (ppm.m)</text>
</svg>
</body></html>
